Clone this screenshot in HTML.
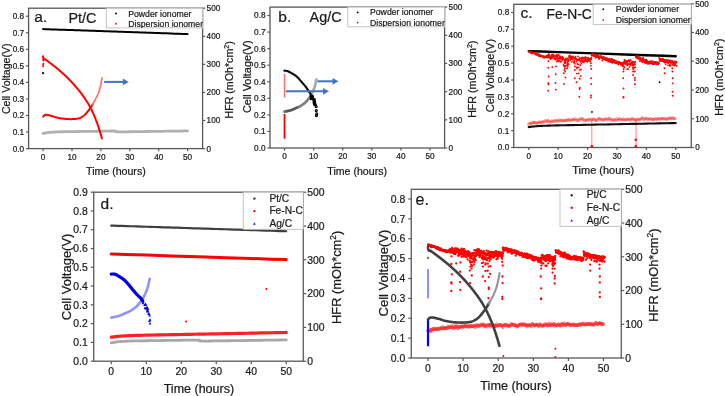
<!DOCTYPE html>
<html><head><meta charset="utf-8"><style>
html,body{margin:0;padding:0;background:#fff;}
body{width:725px;height:396px;overflow:hidden;}
svg{display:block;font-family:"Liberation Sans", sans-serif;will-change:transform;} text{stroke:#1a1a1a;stroke-width:0.22px;}
</style></head><body>
<svg width="725" height="396" viewBox="0 0 725 396">
<rect width="725" height="396" fill="#fff"/>
<rect x="28.60" y="8.20" width="174.00" height="140.40" fill="none" stroke="#585858" stroke-width="1.3"/>
<line x1="26.00" y1="148.60" x2="28.60" y2="148.60" stroke="#585858" stroke-width="1.2"/>
<text x="24.10" y="151.55" font-size="8.2" text-anchor="end" fill="#1a1a1a" >0.0</text>
<line x1="26.00" y1="132.05" x2="28.60" y2="132.05" stroke="#585858" stroke-width="1.2"/>
<text x="24.10" y="135.00" font-size="8.2" text-anchor="end" fill="#1a1a1a" >0.1</text>
<line x1="26.00" y1="115.50" x2="28.60" y2="115.50" stroke="#585858" stroke-width="1.2"/>
<text x="24.10" y="118.45" font-size="8.2" text-anchor="end" fill="#1a1a1a" >0.2</text>
<line x1="26.00" y1="98.95" x2="28.60" y2="98.95" stroke="#585858" stroke-width="1.2"/>
<text x="24.10" y="101.90" font-size="8.2" text-anchor="end" fill="#1a1a1a" >0.3</text>
<line x1="26.00" y1="82.40" x2="28.60" y2="82.40" stroke="#585858" stroke-width="1.2"/>
<text x="24.10" y="85.35" font-size="8.2" text-anchor="end" fill="#1a1a1a" >0.4</text>
<line x1="26.00" y1="65.85" x2="28.60" y2="65.85" stroke="#585858" stroke-width="1.2"/>
<text x="24.10" y="68.80" font-size="8.2" text-anchor="end" fill="#1a1a1a" >0.5</text>
<line x1="26.00" y1="49.30" x2="28.60" y2="49.30" stroke="#585858" stroke-width="1.2"/>
<text x="24.10" y="52.25" font-size="8.2" text-anchor="end" fill="#1a1a1a" >0.6</text>
<line x1="26.00" y1="32.75" x2="28.60" y2="32.75" stroke="#585858" stroke-width="1.2"/>
<text x="24.10" y="35.70" font-size="8.2" text-anchor="end" fill="#1a1a1a" >0.7</text>
<line x1="26.00" y1="16.20" x2="28.60" y2="16.20" stroke="#585858" stroke-width="1.2"/>
<text x="24.10" y="19.15" font-size="8.2" text-anchor="end" fill="#1a1a1a" >0.8</text>
<line x1="202.60" y1="148.60" x2="205.20" y2="148.60" stroke="#585858" stroke-width="1.2"/>
<text x="206.60" y="151.55" font-size="8.2" text-anchor="start" fill="#1a1a1a" >0</text>
<line x1="202.60" y1="120.52" x2="205.20" y2="120.52" stroke="#585858" stroke-width="1.2"/>
<text x="206.60" y="123.47" font-size="8.2" text-anchor="start" fill="#1a1a1a" >100</text>
<line x1="202.60" y1="92.44" x2="205.20" y2="92.44" stroke="#585858" stroke-width="1.2"/>
<text x="206.60" y="95.39" font-size="8.2" text-anchor="start" fill="#1a1a1a" >200</text>
<line x1="202.60" y1="64.36" x2="205.20" y2="64.36" stroke="#585858" stroke-width="1.2"/>
<text x="206.60" y="67.31" font-size="8.2" text-anchor="start" fill="#1a1a1a" >300</text>
<line x1="202.60" y1="36.28" x2="205.20" y2="36.28" stroke="#585858" stroke-width="1.2"/>
<text x="206.60" y="39.23" font-size="8.2" text-anchor="start" fill="#1a1a1a" >400</text>
<line x1="202.60" y1="8.20" x2="205.20" y2="8.20" stroke="#585858" stroke-width="1.2"/>
<text x="206.60" y="11.15" font-size="8.2" text-anchor="start" fill="#1a1a1a" >500</text>
<line x1="43.10" y1="148.60" x2="43.10" y2="151.20" stroke="#585858" stroke-width="1.2"/>
<text x="43.10" y="159.60" font-size="8.2" text-anchor="middle" fill="#1a1a1a" >0</text>
<line x1="72.00" y1="148.60" x2="72.00" y2="151.20" stroke="#585858" stroke-width="1.2"/>
<text x="72.00" y="159.60" font-size="8.2" text-anchor="middle" fill="#1a1a1a" >10</text>
<line x1="100.90" y1="148.60" x2="100.90" y2="151.20" stroke="#585858" stroke-width="1.2"/>
<text x="100.90" y="159.60" font-size="8.2" text-anchor="middle" fill="#1a1a1a" >20</text>
<line x1="129.80" y1="148.60" x2="129.80" y2="151.20" stroke="#585858" stroke-width="1.2"/>
<text x="129.80" y="159.60" font-size="8.2" text-anchor="middle" fill="#1a1a1a" >30</text>
<line x1="158.70" y1="148.60" x2="158.70" y2="151.20" stroke="#585858" stroke-width="1.2"/>
<text x="158.70" y="159.60" font-size="8.2" text-anchor="middle" fill="#1a1a1a" >40</text>
<line x1="187.60" y1="148.60" x2="187.60" y2="151.20" stroke="#585858" stroke-width="1.2"/>
<text x="187.60" y="159.60" font-size="8.2" text-anchor="middle" fill="#1a1a1a" >50</text>
<polyline points="43.10,133.44 43.32,133.39 43.62,133.33 43.97,133.26 44.36,133.18 44.78,133.10 45.20,133.02 45.61,132.94 45.99,132.88 46.31,132.82 46.58,132.76 46.82,132.71 47.07,132.66 47.37,132.62 47.75,132.57 48.24,132.51 48.88,132.45 49.65,132.39 50.51,132.32 51.45,132.24 52.49,132.16 53.62,132.09 54.84,132.02 56.15,131.95 57.55,131.89 58.98,131.84 60.42,131.81 61.91,131.77 63.51,131.74 65.27,131.71 67.24,131.69 69.46,131.65 72.00,131.61 75.02,131.56 78.55,131.51 82.41,131.45 86.45,131.39 90.49,131.33 94.35,131.28 97.88,131.23 100.90,131.19 103.49,131.15 105.83,131.11 107.95,131.07 109.84,131.04 111.52,131.02 112.99,131.01 114.26,131.02 115.35,131.05 116.07,131.11 116.35,131.21 116.34,131.34 116.16,131.47 115.98,131.61 115.93,131.73 116.15,131.83 116.80,131.89 117.76,131.92 118.86,131.93 120.13,131.92 121.58,131.90 123.25,131.87 125.16,131.83 127.33,131.79 129.80,131.75 132.65,131.71 135.91,131.67 139.47,131.61 143.26,131.56 147.16,131.50 151.10,131.44 154.98,131.39 158.70,131.33 162.51,131.28 166.60,131.22 170.81,131.15 174.96,131.09 178.88,131.04 182.41,130.99 185.37,130.94 187.60,130.91" fill="none" stroke="#b0b0b0" stroke-width="2.8" stroke-linejoin="round" stroke-linecap="round" opacity="1" />
<polyline points="43.10,29.11 45.33,29.19 48.29,29.29 51.82,29.41 55.74,29.54 59.89,29.69 64.10,29.83 68.19,29.97 72.00,30.10 75.61,30.23 79.22,30.35 82.84,30.47 86.45,30.60 90.06,30.72 93.68,30.85 97.29,30.97 100.90,31.09 104.51,31.22 108.12,31.34 111.74,31.47 115.35,31.59 118.96,31.72 122.58,31.84 126.19,31.96 129.80,32.09 133.41,32.21 137.03,32.34 140.64,32.46 144.25,32.58 147.86,32.71 151.47,32.83 155.09,32.96 158.70,33.08 162.51,33.21 166.60,33.35 170.81,33.50 174.96,33.64 178.88,33.77 182.41,33.90 185.37,34.00 187.60,34.07" fill="none" stroke="#000" stroke-width="2" stroke-linejoin="round" stroke-linecap="round" opacity="1" />
<polyline points="43.10,116.59 43.20,116.47 43.33,116.31 43.49,116.12 43.66,115.90 43.85,115.69 44.07,115.49 44.30,115.32 44.55,115.18 44.80,115.09 45.07,115.00 45.35,114.94 45.65,114.89 45.97,114.86 46.33,114.85 46.72,114.86 47.15,114.90 47.62,114.97 48.13,115.07 48.68,115.20 49.26,115.34 49.86,115.50 50.49,115.67 51.12,115.85 51.77,116.03 52.44,116.22 53.13,116.43 53.85,116.65 54.59,116.88 55.33,117.11 56.08,117.33 56.82,117.53 57.55,117.71 58.27,117.87 59.00,118.02 59.72,118.16 60.44,118.28 61.16,118.40 61.89,118.51 62.61,118.60 63.33,118.69 64.05,118.78 64.78,118.85 65.50,118.92 66.22,118.98 66.94,119.02 67.67,119.06 68.39,119.09 69.11,119.12 69.84,119.13 70.59,119.13 71.34,119.13 72.09,119.12 72.83,119.09 73.55,119.06 74.24,119.02 74.89,118.98 75.51,118.92 76.10,118.86 76.67,118.80 77.22,118.72 77.75,118.63 78.26,118.53 78.75,118.41 79.22,118.27 79.68,118.11 80.11,117.93 80.53,117.73 80.92,117.51 81.31,117.28 81.68,117.05 82.04,116.82 82.40,116.59 82.75,116.37 83.07,116.18 83.37,115.98 83.67,115.78 83.97,115.56 84.29,115.30 84.63,114.99 85.00,114.62 85.43,114.18 85.88,113.67 86.37,113.11 86.87,112.52 87.37,111.91 87.86,111.29 88.33,110.70 88.76,110.13 89.16,109.60 89.55,109.08 89.91,108.57 90.26,108.06 90.61,107.55 90.95,107.02 91.30,106.48 91.65,105.92 92.02,105.33 92.38,104.71 92.75,104.08" fill="none" stroke="#ff0000" stroke-width="2" stroke-linejoin="round" stroke-linecap="round" opacity="1" />
<polyline points="92.38,104.71 92.75,104.08 93.12,103.44 93.48,102.80 93.84,102.15 94.19,101.50 94.54,100.86 94.89,100.23 95.23,99.58 95.58,98.93 95.91,98.28 96.24,97.64 96.56,97.01 96.86,96.40 97.14,95.81 97.40,95.26 97.64,94.74 97.86,94.25 98.06,93.77 98.26,93.28 98.46,92.77 98.67,92.21 98.88,91.60 99.10,90.93 99.32,90.22 99.54,89.49 99.76,88.72 99.98,87.93 100.20,87.11 100.41,86.27 100.61,85.42 100.82,84.49 101.03,83.45 101.24,82.35 101.44,81.24 101.63,80.19 101.80,79.23 101.95,78.43 102.06,77.84" fill="none" stroke="#ff6a6a" stroke-width="1.6" stroke-linejoin="round" stroke-linecap="round" opacity="1" />
<polyline points="43.10,56.25 43.11,56.35 43.12,56.48 43.12,56.64 43.14,56.81 43.15,57.00 43.17,57.19 43.20,57.38 43.24,57.57 43.29,57.78 43.35,58.01 43.41,58.25 43.48,58.49 43.55,58.72 43.64,58.93 43.73,59.11 43.82,59.23 43.93,59.29 44.05,59.31 44.17,59.28 44.30,59.23 44.44,59.18 44.57,59.13 44.71,59.10 44.83,59.12 44.96,59.16 45.08,59.23 45.20,59.32 45.32,59.41 45.44,59.51 45.56,59.62 45.68,59.72 45.80,59.81 45.92,59.90 46.04,59.98 46.16,60.07 46.29,60.16 46.41,60.25 46.53,60.33 46.65,60.42 46.77,60.51 46.89,60.60 47.01,60.68 47.13,60.77 47.25,60.86 47.37,60.95 47.49,61.04 47.62,61.12 47.74,61.21 47.86,61.30 47.98,61.39 48.10,61.48 48.22,61.57 48.34,61.66 48.46,61.74 48.58,61.83 48.70,61.92 48.82,62.01 48.95,62.10 49.07,62.19 49.19,62.28 49.31,62.37 49.43,62.46 49.55,62.55 49.67,62.64 49.79,62.73 49.91,62.82 50.03,62.91 50.15,63.00 50.28,63.09 50.40,63.18 50.52,63.27 50.64,63.36 50.76,63.45 50.88,63.55 51.00,63.64 51.12,63.73 51.24,63.82 51.36,63.91 51.48,64.00 51.61,64.10 51.73,64.19 51.85,64.28 51.97,64.37 52.09,64.46 52.21,64.56 52.33,64.65 52.45,64.74 52.57,64.84 52.69,64.93 52.82,65.02 52.94,65.12 53.06,65.21 53.18,65.30 53.30,65.40 53.42,65.49 53.54,65.59 53.66,65.68 53.78,65.77 53.90,65.87 54.02,65.96 54.15,66.06 54.27,66.15 54.39,66.25 54.51,66.35 54.63,66.44 54.75,66.54 54.87,66.63 54.99,66.73 55.11,66.82 55.23,66.92 55.35,67.02 55.48,67.11 55.60,67.21 55.72,67.31 55.84,67.41 55.96,67.50 56.08,67.60 56.20,67.70 56.32,67.80 56.44,67.89 56.56,67.99 56.68,68.09 56.81,68.19 56.93,68.29 57.05,68.39 57.17,68.49 57.29,68.59 57.41,68.69 57.53,68.79 57.65,68.89 57.77,68.99 57.89,69.09 58.02,69.19 58.14,69.29 58.26,69.39 58.38,69.49 58.50,69.59 58.62,69.69 58.74,69.80 58.86,69.90 58.98,70.00 59.10,70.10 59.22,70.20 59.35,70.31 59.47,70.41 59.59,70.51 59.71,70.62 59.83,70.72 59.95,70.82 60.07,70.93 60.19,71.03 60.31,71.14 60.43,71.24 60.55,71.35 60.68,71.45 60.80,71.56 60.92,71.66 61.04,71.77 61.16,71.87 61.28,71.98 61.40,72.09 61.52,72.19 61.64,72.30 61.76,72.41 61.88,72.51 62.01,72.62 62.13,72.73 62.25,72.84 62.37,72.95 62.49,73.05 62.61,73.16 62.73,73.27 62.85,73.38 62.97,73.49 63.09,73.60 63.21,73.71 63.34,73.82 63.46,73.93 63.58,74.04 63.70,74.15 63.82,74.26 63.94,74.37 64.06,74.49 64.18,74.60 64.30,74.71 64.42,74.82 64.55,74.94 64.67,75.05 64.79,75.16 64.91,75.27 65.03,75.39 65.15,75.50 65.27,75.62 65.39,75.73 65.51,75.85 65.63,75.96 65.75,76.08 65.88,76.19 66.00,76.31 66.12,76.42 66.24,76.54 66.36,76.66 66.48,76.77 66.60,76.89 66.72,77.01 66.84,77.13 66.96,77.24 67.08,77.36 67.21,77.48 67.33,77.60 67.45,77.72 67.57,77.84 67.69,77.96 67.81,78.08 67.93,78.20 68.05,78.32 68.17,78.44 68.29,78.56 68.41,78.68 68.54,78.80 68.66,78.92 68.78,79.05 68.90,79.17 69.02,79.29 69.14,79.42 69.26,79.54 69.38,79.66 69.50,79.79 69.62,79.91 69.74,80.04 69.87,80.16 69.99,80.29 70.11,80.41 70.23,80.54 70.35,80.66 70.47,80.79 70.59,80.92 70.71,81.04 70.83,81.17 70.95,81.30 71.08,81.43 71.20,81.56 71.32,81.68 71.44,81.81 71.56,81.94 71.68,82.07 71.80,82.20 71.92,82.33 72.04,82.46 72.16,82.59 72.28,82.73 72.41,82.86 72.53,82.99 72.65,83.12 72.77,83.25 72.89,83.39 73.01,83.52 73.13,83.65 73.25,83.79 73.37,83.92 73.49,84.06 73.61,84.19 73.74,84.33 73.86,84.46 73.98,84.60 74.10,84.74 74.22,84.87 74.34,85.01 74.46,85.15 74.58,85.28 74.70,85.42 74.82,85.56 74.94,85.70 75.07,85.84 75.19,85.98 75.31,86.12 75.43,86.26 75.55,86.40 75.67,86.54 75.79,86.68 75.91,86.82 76.03,86.96 76.15,87.11 76.27,87.25 76.40,87.39 76.52,87.54 76.64,87.68 76.76,87.82 76.88,87.97 77.00,88.11 77.12,88.26 77.24,88.41 77.36,88.55 77.48,88.70 77.61,88.84 77.73,88.99 77.85,89.14 77.97,89.29 78.09,89.44 78.21,89.58 78.33,89.73 78.45,89.88 78.57,90.03 78.69,90.18 78.81,90.33 78.94,90.48 79.06,90.64 79.18,90.79 79.30,90.94 79.42,91.09 79.54,91.25 79.66,91.40 79.78,91.55 79.90,91.71 80.02,91.86 80.14,92.02 80.27,92.17 80.39,92.33 80.51,92.49 80.63,92.64 80.75,92.80 80.87,92.96 80.99,93.11 81.11,93.27 81.23,93.43 81.35,93.59 81.47,93.75 81.60,93.91 81.72,94.07 81.84,94.23 81.96,94.39 82.08,94.55 82.20,94.72 82.32,94.88 82.44,95.04 82.56,95.21 82.68,95.37 82.81,95.53 82.93,95.70 83.05,95.86 83.17,96.03 83.29,96.20 83.41,96.37 83.53,96.53 83.65,96.70 83.77,96.87 83.89,97.04 84.01,97.21 84.14,97.38 84.26,97.56 84.38,97.73 84.50,97.90 84.62,98.08 84.74,98.25 84.86,98.43 84.98,98.60 85.10,98.78 85.22,98.96 85.34,99.14 85.47,99.32 85.59,99.50 85.71,99.68 85.83,99.86 85.95,100.05 86.07,100.23 86.19,100.42 86.31,100.61 86.43,100.79 86.55,100.98 86.67,101.17 86.80,101.36 86.92,101.55 87.04,101.75 87.16,101.94 87.28,102.13 87.40,102.33 87.52,102.53 87.64,102.73 87.76,102.93 87.88,103.13 88.00,103.33 88.13,103.53 88.25,103.73 88.37,103.94 88.49,104.15 88.61,104.35 88.73,104.56 88.85,104.77 88.97,104.99 89.09,105.20 89.21,105.41 89.34,105.63 89.46,105.85 89.58,106.07 89.70,106.29 89.82,106.51 89.94,106.73 90.06,106.95 90.18,107.18 90.30,107.41 90.42,107.64 90.54,107.87 90.67,108.10 90.79,108.33 90.91,108.57 91.03,108.80 91.15,109.04 91.27,109.28 91.39,109.52 91.51,109.76 91.63,110.01 91.75,110.25 91.87,110.50 92.00,110.75 92.12,111.00 92.24,111.26 92.36,111.51 92.48,111.77 92.60,112.03 92.72,112.29 92.84,112.55 92.96,112.81 93.08,113.08 93.20,113.34 93.33,113.61 93.45,113.88 93.57,114.16 93.69,114.43 93.81,114.71 93.93,114.99 94.05,115.27 94.17,115.55 94.29,115.83 94.41,116.12 94.53,116.41 94.66,116.70 94.78,116.99 94.90,117.29 95.02,117.58 95.14,117.88 95.26,118.18 95.38,118.49 95.50,118.79 95.62,119.10 95.74,119.41 95.87,119.72 95.99,120.03 96.11,120.35 96.23,120.67 96.35,120.99 96.47,121.31 96.59,121.64 96.71,121.96 96.83,122.29 96.95,122.63 97.07,122.96 97.20,123.30 97.32,123.64 97.44,123.98 97.56,124.32 97.68,124.67 97.80,125.02 97.92,125.37 98.04,125.72 98.16,126.08 98.28,126.44 98.40,126.80 98.53,127.16 98.65,127.53 98.77,127.90 98.89,128.27 99.01,128.64 99.13,129.02 99.25,129.40 99.37,129.78 99.49,130.16 99.61,130.55 99.73,130.94 99.86,131.33 99.98,131.73 100.10,132.12 100.22,132.52 100.34,132.93 100.46,133.33 100.58,133.74 100.70,134.15 100.82,134.57 100.94,134.99 101.07,135.43 101.21,135.91 101.35,136.41 101.49,136.91 101.62,137.38 101.74,137.80 101.84,138.16 101.91,138.43" fill="none" stroke="#ff0000" stroke-width="2" stroke-linejoin="round" stroke-linecap="round" opacity="1" />
<circle cx="43.16" cy="66.18" r="0.95" fill="#ff0000"/>
<circle cx="43.24" cy="64.86" r="0.95" fill="#ff0000"/>
<circle cx="43.39" cy="63.70" r="0.95" fill="#ff0000"/>
<circle cx="43.39" cy="57.74" r="1.0" fill="#ff0000"/>
<circle cx="43.45" cy="59.56" r="1.0" fill="#ff0000"/>
<circle cx="43.53" cy="60.55" r="1.0" fill="#ff0000"/>
<rect x="42.10" y="72.13" width="2" height="2" fill="#111"/>
<line x1="104.10" y1="81.90" x2="123.80" y2="81.90" stroke="#4472c4" stroke-width="2"/>
<polygon points="128.80,81.90 122.80,78.50 122.80,85.30" fill="#4472c4"/>
<rect x="106.30" y="8.20" width="96.30" height="19.70" fill="#fff" stroke="#bdbdbd" stroke-width="0.9"/>
<svg x="106.30" y="8.20" width="96.30" height="19.70" overflow="hidden">
<text x="21.90" y="8.50" font-size="8.7" text-anchor="start" fill="#1a1a1a" >Powder ionomer</text>
<circle cx="9.70" cy="5.30" r="0.95" fill="#000"/>
<text x="21.90" y="18.70" font-size="8.7" text-anchor="start" fill="#1a1a1a" >Dispersion ionomer</text>
<circle cx="9.70" cy="15.50" r="0.95" fill="#ff0000"/>
</svg>
<text x="34.30" y="21.50" font-size="15.5" text-anchor="start" fill="#1a1a1a" >a.</text>
<text x="68.40" y="23.30" font-size="14.4" text-anchor="start" fill="#1a1a1a" >Pt/C</text>
<text x="115.90" y="174.60" font-size="10.6" text-anchor="middle" fill="#1a1a1a" >Time (hours)</text>
<text transform="translate(9.66,78.70) rotate(-90)" x="0" y="0" font-size="10.6" text-anchor="middle" fill="#1a1a1a">Cell Voltage(V)</text>
<text transform="translate(233.37,79.90) rotate(-90)" x="0" y="0" font-size="10.65" text-anchor="middle" fill="#1a1a1a">HFR (mOh*cm<tspan dy="-4" font-size="7">2</tspan><tspan dy="4">)</tspan></text>
<rect x="270.00" y="7.10" width="174.60" height="140.90" fill="none" stroke="#585858" stroke-width="1.3"/>
<line x1="267.40" y1="148.00" x2="270.00" y2="148.00" stroke="#585858" stroke-width="1.2"/>
<text x="265.50" y="150.95" font-size="8.2" text-anchor="end" fill="#1a1a1a" >0.0</text>
<line x1="267.40" y1="131.44" x2="270.00" y2="131.44" stroke="#585858" stroke-width="1.2"/>
<text x="265.50" y="134.39" font-size="8.2" text-anchor="end" fill="#1a1a1a" >0.1</text>
<line x1="267.40" y1="114.88" x2="270.00" y2="114.88" stroke="#585858" stroke-width="1.2"/>
<text x="265.50" y="117.83" font-size="8.2" text-anchor="end" fill="#1a1a1a" >0.2</text>
<line x1="267.40" y1="98.32" x2="270.00" y2="98.32" stroke="#585858" stroke-width="1.2"/>
<text x="265.50" y="101.27" font-size="8.2" text-anchor="end" fill="#1a1a1a" >0.3</text>
<line x1="267.40" y1="81.76" x2="270.00" y2="81.76" stroke="#585858" stroke-width="1.2"/>
<text x="265.50" y="84.71" font-size="8.2" text-anchor="end" fill="#1a1a1a" >0.4</text>
<line x1="267.40" y1="65.20" x2="270.00" y2="65.20" stroke="#585858" stroke-width="1.2"/>
<text x="265.50" y="68.15" font-size="8.2" text-anchor="end" fill="#1a1a1a" >0.5</text>
<line x1="267.40" y1="48.64" x2="270.00" y2="48.64" stroke="#585858" stroke-width="1.2"/>
<text x="265.50" y="51.59" font-size="8.2" text-anchor="end" fill="#1a1a1a" >0.6</text>
<line x1="267.40" y1="32.08" x2="270.00" y2="32.08" stroke="#585858" stroke-width="1.2"/>
<text x="265.50" y="35.03" font-size="8.2" text-anchor="end" fill="#1a1a1a" >0.7</text>
<line x1="267.40" y1="15.52" x2="270.00" y2="15.52" stroke="#585858" stroke-width="1.2"/>
<text x="265.50" y="18.47" font-size="8.2" text-anchor="end" fill="#1a1a1a" >0.8</text>
<line x1="444.60" y1="148.00" x2="447.20" y2="148.00" stroke="#585858" stroke-width="1.2"/>
<text x="448.60" y="150.95" font-size="8.2" text-anchor="start" fill="#1a1a1a" >0</text>
<line x1="444.60" y1="119.82" x2="447.20" y2="119.82" stroke="#585858" stroke-width="1.2"/>
<text x="448.60" y="122.77" font-size="8.2" text-anchor="start" fill="#1a1a1a" >100</text>
<line x1="444.60" y1="91.64" x2="447.20" y2="91.64" stroke="#585858" stroke-width="1.2"/>
<text x="448.60" y="94.59" font-size="8.2" text-anchor="start" fill="#1a1a1a" >200</text>
<line x1="444.60" y1="63.46" x2="447.20" y2="63.46" stroke="#585858" stroke-width="1.2"/>
<text x="448.60" y="66.41" font-size="8.2" text-anchor="start" fill="#1a1a1a" >300</text>
<line x1="444.60" y1="35.28" x2="447.20" y2="35.28" stroke="#585858" stroke-width="1.2"/>
<text x="448.60" y="38.23" font-size="8.2" text-anchor="start" fill="#1a1a1a" >400</text>
<line x1="444.60" y1="7.10" x2="447.20" y2="7.10" stroke="#585858" stroke-width="1.2"/>
<text x="448.60" y="10.05" font-size="8.2" text-anchor="start" fill="#1a1a1a" >500</text>
<line x1="284.50" y1="148.00" x2="284.50" y2="150.60" stroke="#585858" stroke-width="1.2"/>
<text x="284.50" y="159.20" font-size="8.2" text-anchor="middle" fill="#1a1a1a" >0</text>
<line x1="313.60" y1="148.00" x2="313.60" y2="150.60" stroke="#585858" stroke-width="1.2"/>
<text x="313.60" y="159.20" font-size="8.2" text-anchor="middle" fill="#1a1a1a" >10</text>
<line x1="342.70" y1="148.00" x2="342.70" y2="150.60" stroke="#585858" stroke-width="1.2"/>
<text x="342.70" y="159.20" font-size="8.2" text-anchor="middle" fill="#1a1a1a" >20</text>
<line x1="371.80" y1="148.00" x2="371.80" y2="150.60" stroke="#585858" stroke-width="1.2"/>
<text x="371.80" y="159.20" font-size="8.2" text-anchor="middle" fill="#1a1a1a" >30</text>
<line x1="400.90" y1="148.00" x2="400.90" y2="150.60" stroke="#585858" stroke-width="1.2"/>
<text x="400.90" y="159.20" font-size="8.2" text-anchor="middle" fill="#1a1a1a" >40</text>
<line x1="430.00" y1="148.00" x2="430.00" y2="150.60" stroke="#585858" stroke-width="1.2"/>
<text x="430.00" y="159.20" font-size="8.2" text-anchor="middle" fill="#1a1a1a" >50</text>
<line x1="284.50" y1="73.89" x2="284.50" y2="97.56" stroke="#ff7070" stroke-width="1.5"/>
<line x1="284.50" y1="113.89" x2="284.50" y2="138.73" stroke="#ff0000" stroke-width="1.8"/>
<circle cx="284.50" cy="111.65" r="1.0" fill="none" stroke="#444" stroke-width="0.8"/>
<circle cx="285.58" cy="111.45" r="1.0" fill="none" stroke="#444" stroke-width="0.8"/>
<circle cx="286.66" cy="111.25" r="1.0" fill="none" stroke="#444" stroke-width="0.8"/>
<circle cx="287.74" cy="111.01" r="1.0" fill="none" stroke="#444" stroke-width="0.8"/>
<circle cx="288.81" cy="110.77" r="1.0" fill="none" stroke="#444" stroke-width="0.8"/>
<circle cx="289.88" cy="110.51" r="1.0" fill="none" stroke="#444" stroke-width="0.8"/>
<circle cx="290.94" cy="110.22" r="1.0" fill="none" stroke="#444" stroke-width="0.8"/>
<circle cx="291.99" cy="109.88" r="1.0" fill="none" stroke="#444" stroke-width="0.8"/>
<circle cx="293.00" cy="109.46" r="1.0" fill="none" stroke="#444" stroke-width="0.8"/>
<circle cx="294.00" cy="109.00" r="1.0" fill="none" stroke="#444" stroke-width="0.8"/>
<circle cx="294.99" cy="108.52" r="1.0" fill="none" stroke="#444" stroke-width="0.8"/>
<circle cx="295.99" cy="108.05" r="1.0" fill="none" stroke="#444" stroke-width="0.8"/>
<circle cx="297.00" cy="107.62" r="1.0" fill="none" stroke="#444" stroke-width="0.8"/>
<circle cx="298.01" cy="107.20" r="1.0" fill="none" stroke="#444" stroke-width="0.8"/>
<circle cx="299.41" cy="106.58" r="1.0" fill="none" stroke="#707070" stroke-width="0.8"/>
<circle cx="300.39" cy="106.08" r="1.0" fill="none" stroke="#707070" stroke-width="0.8"/>
<circle cx="301.33" cy="105.51" r="1.0" fill="none" stroke="#707070" stroke-width="0.8"/>
<circle cx="302.25" cy="104.90" r="1.0" fill="none" stroke="#707070" stroke-width="0.8"/>
<circle cx="303.15" cy="104.27" r="1.0" fill="none" stroke="#707070" stroke-width="0.8"/>
<circle cx="304.02" cy="103.60" r="1.0" fill="none" stroke="#707070" stroke-width="0.8"/>
<circle cx="304.88" cy="102.91" r="1.0" fill="none" stroke="#707070" stroke-width="0.8"/>
<circle cx="305.69" cy="102.17" r="1.0" fill="none" stroke="#707070" stroke-width="0.8"/>
<circle cx="306.45" cy="101.37" r="1.0" fill="none" stroke="#707070" stroke-width="0.8"/>
<circle cx="307.17" cy="100.54" r="1.0" fill="none" stroke="#707070" stroke-width="0.8"/>
<circle cx="307.87" cy="99.70" r="1.0" fill="none" stroke="#707070" stroke-width="0.8"/>
<circle cx="308.56" cy="98.84" r="1.0" fill="none" stroke="#707070" stroke-width="0.8"/>
<circle cx="309.23" cy="97.96" r="1.0" fill="none" stroke="#707070" stroke-width="0.8"/>
<circle cx="309.87" cy="97.07" r="1.0" fill="none" stroke="#707070" stroke-width="0.8"/>
<circle cx="310.50" cy="96.16" r="1.0" fill="none" stroke="#707070" stroke-width="0.8"/>
<circle cx="310.69" cy="95.87" r="1.0" fill="none" stroke="#a0a0a0" stroke-width="0.8"/>
<circle cx="311.25" cy="94.92" r="1.0" fill="none" stroke="#a0a0a0" stroke-width="0.8"/>
<circle cx="311.76" cy="93.94" r="1.0" fill="none" stroke="#a0a0a0" stroke-width="0.8"/>
<circle cx="312.22" cy="92.95" r="1.0" fill="none" stroke="#a0a0a0" stroke-width="0.8"/>
<circle cx="312.68" cy="91.95" r="1.0" fill="none" stroke="#a0a0a0" stroke-width="0.8"/>
<circle cx="313.12" cy="90.94" r="1.0" fill="none" stroke="#a0a0a0" stroke-width="0.8"/>
<circle cx="313.54" cy="89.92" r="1.0" fill="none" stroke="#a0a0a0" stroke-width="0.8"/>
<circle cx="313.95" cy="88.90" r="1.0" fill="none" stroke="#a0a0a0" stroke-width="0.8"/>
<circle cx="314.32" cy="87.87" r="1.0" fill="none" stroke="#a0a0a0" stroke-width="0.8"/>
<circle cx="314.66" cy="86.82" r="1.0" fill="none" stroke="#a0a0a0" stroke-width="0.8"/>
<circle cx="314.96" cy="85.76" r="1.0" fill="none" stroke="#a0a0a0" stroke-width="0.8"/>
<circle cx="315.25" cy="84.70" r="1.0" fill="none" stroke="#a0a0a0" stroke-width="0.8"/>
<circle cx="315.52" cy="83.63" r="1.0" fill="none" stroke="#a0a0a0" stroke-width="0.8"/>
<circle cx="315.77" cy="82.56" r="1.0" fill="none" stroke="#a0a0a0" stroke-width="0.8"/>
<circle cx="316.01" cy="81.49" r="1.0" fill="none" stroke="#a0a0a0" stroke-width="0.8"/>
<circle cx="316.25" cy="80.42" r="1.0" fill="none" stroke="#a0a0a0" stroke-width="0.8"/>
<circle cx="316.49" cy="79.34" r="1.0" fill="none" stroke="#a0a0a0" stroke-width="0.8"/>
<circle cx="284.50" cy="70.66" r="1.15" fill="#000"/>
<circle cx="285.99" cy="70.86" r="1.15" fill="#000"/>
<circle cx="287.45" cy="71.18" r="1.15" fill="#000"/>
<circle cx="288.84" cy="71.74" r="1.15" fill="#000"/>
<circle cx="290.18" cy="72.41" r="1.15" fill="#000"/>
<circle cx="291.50" cy="73.12" r="1.15" fill="#000"/>
<circle cx="292.80" cy="73.88" r="1.15" fill="#000"/>
<circle cx="294.07" cy="74.67" r="1.15" fill="#000"/>
<circle cx="295.32" cy="75.50" r="1.15" fill="#000"/>
<circle cx="296.50" cy="76.43" r="1.15" fill="#000"/>
<circle cx="297.60" cy="77.45" r="1.15" fill="#000"/>
<circle cx="298.65" cy="78.52" r="1.15" fill="#000"/>
<circle cx="299.66" cy="79.63" r="1.15" fill="#000"/>
<circle cx="300.61" cy="80.79" r="1.15" fill="#000"/>
<circle cx="301.56" cy="81.95" r="1.15" fill="#000"/>
<circle cx="302.54" cy="83.08" r="1.15" fill="#000"/>
<circle cx="303.55" cy="84.20" r="1.15" fill="#000"/>
<circle cx="304.53" cy="85.32" r="1.15" fill="#000"/>
<circle cx="305.47" cy="86.50" r="1.15" fill="#000"/>
<circle cx="306.37" cy="87.70" r="1.15" fill="#000"/>
<circle cx="307.24" cy="88.92" r="1.15" fill="#000"/>
<circle cx="308.08" cy="90.16" r="1.15" fill="#000"/>
<circle cx="308.90" cy="91.42" r="1.15" fill="#000"/>
<circle cx="309.70" cy="92.68" r="1.15" fill="#000"/>
<circle cx="310.47" cy="93.97" r="1.15" fill="#000"/>
<circle cx="311.20" cy="95.29" r="1.15" fill="#000"/>
<circle cx="310.99" cy="96.26" r="1.0" fill="none" stroke="#000" stroke-width="1.2"/>
<circle cx="311.57" cy="97.00" r="1.0" fill="none" stroke="#000" stroke-width="1.2"/>
<circle cx="312.42" cy="96.43" r="1.0" fill="none" stroke="#000" stroke-width="1.2"/>
<circle cx="311.36" cy="98.73" r="1.0" fill="none" stroke="#000" stroke-width="1.2"/>
<circle cx="312.20" cy="98.12" r="1.0" fill="none" stroke="#000" stroke-width="1.2"/>
<circle cx="314.11" cy="99.36" r="1.0" fill="none" stroke="#000" stroke-width="1.2"/>
<circle cx="314.05" cy="100.09" r="1.0" fill="none" stroke="#000" stroke-width="1.2"/>
<circle cx="313.91" cy="100.09" r="1.0" fill="none" stroke="#000" stroke-width="1.2"/>
<circle cx="314.19" cy="102.39" r="1.0" fill="none" stroke="#000" stroke-width="1.2"/>
<circle cx="314.23" cy="102.83" r="1.0" fill="none" stroke="#000" stroke-width="1.2"/>
<circle cx="314.70" cy="101.87" r="1.0" fill="none" stroke="#000" stroke-width="1.2"/>
<circle cx="315.33" cy="104.65" r="1.0" fill="none" stroke="#000" stroke-width="1.2"/>
<circle cx="314.62" cy="104.49" r="1.0" fill="none" stroke="#000" stroke-width="1.2"/>
<circle cx="316.15" cy="106.54" r="1.0" fill="none" stroke="#000" stroke-width="1.2"/>
<circle cx="316.26" cy="110.54" r="1.0" fill="none" stroke="#000" stroke-width="1.2"/>
<circle cx="316.69" cy="113.74" r="1.0" fill="none" stroke="#000" stroke-width="1.2"/>
<circle cx="316.42" cy="115.54" r="1.0" fill="none" stroke="#000" stroke-width="1.2"/>
<line x1="317.50" y1="81.30" x2="333.50" y2="81.30" stroke="#4472c4" stroke-width="2"/>
<polygon points="338.50,81.30 332.50,77.90 332.50,84.70" fill="#4472c4"/>
<line x1="285.80" y1="91.30" x2="324.00" y2="91.30" stroke="#4472c4" stroke-width="2"/>
<polygon points="329.00,91.30 323.00,87.90 323.00,94.70" fill="#4472c4"/>
<rect x="347.80" y="7.10" width="96.80" height="19.70" fill="#fff" stroke="#bdbdbd" stroke-width="0.9"/>
<svg x="347.80" y="7.10" width="96.80" height="19.70" overflow="hidden">
<text x="22.20" y="7.90" font-size="8.7" text-anchor="start" fill="#1a1a1a" >Powder ionomer</text>
<circle cx="9.90" cy="5.30" r="0.95" fill="#000"/>
<text x="22.20" y="18.70" font-size="8.7" text-anchor="start" fill="#1a1a1a" >Dispersion ionomer</text>
<circle cx="9.90" cy="15.50" r="0.95" fill="#ff0000"/>
</svg>
<text x="278.30" y="22.00" font-size="15.5" text-anchor="start" fill="#1a1a1a" >b.</text>
<text x="309.60" y="22.30" font-size="14.4" text-anchor="start" fill="#1a1a1a" >Ag/C</text>
<text x="357.20" y="174.60" font-size="10.6" text-anchor="middle" fill="#1a1a1a" >Time (hours)</text>
<text transform="translate(251.03,76.80) rotate(-90)" x="0" y="0" font-size="10.9" text-anchor="middle" fill="#1a1a1a">Cell Voltage(V)</text>
<text transform="translate(476.27,79.20) rotate(-90)" x="0" y="0" font-size="10.65" text-anchor="middle" fill="#1a1a1a">HFR (mOh*cm<tspan dy="-4" font-size="7">2</tspan><tspan dy="4">)</tspan></text>
<rect x="513.75" y="4.30" width="177.50" height="143.20" fill="none" stroke="#585858" stroke-width="1.3"/>
<line x1="511.15" y1="147.50" x2="513.75" y2="147.50" stroke="#585858" stroke-width="1.2"/>
<text x="509.25" y="150.45" font-size="8.2" text-anchor="end" fill="#1a1a1a" >0.0</text>
<line x1="511.15" y1="130.62" x2="513.75" y2="130.62" stroke="#585858" stroke-width="1.2"/>
<text x="509.25" y="133.58" font-size="8.2" text-anchor="end" fill="#1a1a1a" >0.1</text>
<line x1="511.15" y1="113.75" x2="513.75" y2="113.75" stroke="#585858" stroke-width="1.2"/>
<text x="509.25" y="116.70" font-size="8.2" text-anchor="end" fill="#1a1a1a" >0.2</text>
<line x1="511.15" y1="96.88" x2="513.75" y2="96.88" stroke="#585858" stroke-width="1.2"/>
<text x="509.25" y="99.83" font-size="8.2" text-anchor="end" fill="#1a1a1a" >0.3</text>
<line x1="511.15" y1="80.00" x2="513.75" y2="80.00" stroke="#585858" stroke-width="1.2"/>
<text x="509.25" y="82.95" font-size="8.2" text-anchor="end" fill="#1a1a1a" >0.4</text>
<line x1="511.15" y1="63.12" x2="513.75" y2="63.12" stroke="#585858" stroke-width="1.2"/>
<text x="509.25" y="66.08" font-size="8.2" text-anchor="end" fill="#1a1a1a" >0.5</text>
<line x1="511.15" y1="46.25" x2="513.75" y2="46.25" stroke="#585858" stroke-width="1.2"/>
<text x="509.25" y="49.20" font-size="8.2" text-anchor="end" fill="#1a1a1a" >0.6</text>
<line x1="511.15" y1="29.38" x2="513.75" y2="29.38" stroke="#585858" stroke-width="1.2"/>
<text x="509.25" y="32.33" font-size="8.2" text-anchor="end" fill="#1a1a1a" >0.7</text>
<line x1="511.15" y1="12.50" x2="513.75" y2="12.50" stroke="#585858" stroke-width="1.2"/>
<text x="509.25" y="15.45" font-size="8.2" text-anchor="end" fill="#1a1a1a" >0.8</text>
<line x1="691.25" y1="147.50" x2="693.85" y2="147.50" stroke="#585858" stroke-width="1.2"/>
<text x="695.25" y="150.45" font-size="8.2" text-anchor="start" fill="#1a1a1a" >0</text>
<line x1="691.25" y1="118.75" x2="693.85" y2="118.75" stroke="#585858" stroke-width="1.2"/>
<text x="695.25" y="121.70" font-size="8.2" text-anchor="start" fill="#1a1a1a" >100</text>
<line x1="691.25" y1="90.00" x2="693.85" y2="90.00" stroke="#585858" stroke-width="1.2"/>
<text x="695.25" y="92.95" font-size="8.2" text-anchor="start" fill="#1a1a1a" >200</text>
<line x1="691.25" y1="61.25" x2="693.85" y2="61.25" stroke="#585858" stroke-width="1.2"/>
<text x="695.25" y="64.20" font-size="8.2" text-anchor="start" fill="#1a1a1a" >300</text>
<line x1="691.25" y1="32.50" x2="693.85" y2="32.50" stroke="#585858" stroke-width="1.2"/>
<text x="695.25" y="35.45" font-size="8.2" text-anchor="start" fill="#1a1a1a" >400</text>
<line x1="691.25" y1="3.75" x2="693.85" y2="3.75" stroke="#585858" stroke-width="1.2"/>
<text x="695.25" y="6.70" font-size="8.2" text-anchor="start" fill="#1a1a1a" >500</text>
<line x1="528.75" y1="147.50" x2="528.75" y2="150.10" stroke="#585858" stroke-width="1.2"/>
<text x="528.75" y="158.60" font-size="8.2" text-anchor="middle" fill="#1a1a1a" >0</text>
<line x1="558.15" y1="147.50" x2="558.15" y2="150.10" stroke="#585858" stroke-width="1.2"/>
<text x="558.15" y="158.60" font-size="8.2" text-anchor="middle" fill="#1a1a1a" >10</text>
<line x1="587.55" y1="147.50" x2="587.55" y2="150.10" stroke="#585858" stroke-width="1.2"/>
<text x="587.55" y="158.60" font-size="8.2" text-anchor="middle" fill="#1a1a1a" >20</text>
<line x1="616.95" y1="147.50" x2="616.95" y2="150.10" stroke="#585858" stroke-width="1.2"/>
<text x="616.95" y="158.60" font-size="8.2" text-anchor="middle" fill="#1a1a1a" >30</text>
<line x1="646.35" y1="147.50" x2="646.35" y2="150.10" stroke="#585858" stroke-width="1.2"/>
<text x="646.35" y="158.60" font-size="8.2" text-anchor="middle" fill="#1a1a1a" >40</text>
<line x1="675.75" y1="147.50" x2="675.75" y2="150.10" stroke="#585858" stroke-width="1.2"/>
<text x="675.75" y="158.60" font-size="8.2" text-anchor="middle" fill="#1a1a1a" >50</text>
<line x1="591.81" y1="119.59" x2="591.81" y2="147.50" stroke="#ff5050" stroke-width="0.7"/>
<line x1="636.06" y1="119.19" x2="636.06" y2="147.50" stroke="#ff5050" stroke-width="0.7"/>
<polyline points="528.75,124.39 530.04,123.25 531.34,123.48 532.63,122.64 533.92,122.32 535.22,122.63 536.51,123.02 537.81,123.12 539.10,121.98 540.39,122.42 541.69,122.05 542.98,121.88 544.27,122.03 545.57,120.66 546.86,121.50 548.15,120.45 549.45,121.72 550.74,122.06 552.03,120.87 553.33,121.61 554.62,120.68 555.92,121.13 557.21,120.72 558.50,120.97 559.80,119.90 561.09,120.85 562.38,120.31 563.68,120.73 564.97,120.48 566.26,120.26 567.56,120.30 568.85,119.33 570.15,120.63 571.44,119.95 572.73,119.51 574.03,119.72 575.32,118.85 576.61,120.20 577.91,120.78 579.20,119.19 580.49,119.52 581.79,118.56 583.08,119.35 584.37,120.59 585.67,120.30 586.96,120.06 588.26,119.74 589.55,119.34 590.84,120.25 592.14,119.50 593.43,118.95 594.72,119.89 596.02,120.38 597.31,120.09 598.60,118.48 599.90,118.96 601.19,119.40 602.49,119.68 603.78,120.16 605.07,119.09 606.37,118.93 607.66,119.67 608.95,118.50 610.25,118.94 611.54,120.33 612.83,119.91 614.13,119.72 615.42,120.58 616.71,118.77 618.01,119.92 619.30,119.08 620.60,119.21 621.89,119.98 623.18,119.25 624.48,119.81 625.77,119.87 627.06,119.44 628.36,119.20 629.65,119.62 630.94,119.67 632.24,118.59 633.53,119.23 634.83,120.13 636.12,119.74 637.41,119.60 638.71,119.22 640.00,119.72 641.29,118.57 642.59,117.81 643.88,119.70 645.17,118.56 646.47,118.49 647.76,119.31 649.05,119.02 650.35,118.83 651.64,119.21 652.94,119.55 654.23,119.42 655.52,118.56 656.82,119.53 658.11,118.66 659.40,118.89 660.70,119.12 661.99,118.47 663.28,118.84 664.58,118.63 665.87,119.15 667.17,119.16 668.46,118.52 669.75,118.05 671.05,118.65 672.34,117.80 673.63,118.60 674.93,118.65" fill="none" stroke="#ff4040" stroke-width="0.6" stroke-linejoin="round" stroke-linecap="round" opacity="1" />
<circle cx="528.75" cy="124.39" r="1.2" fill="none" stroke="#ff3a3a" stroke-width="0.6"/>
<circle cx="530.04" cy="123.25" r="1.2" fill="none" stroke="#ff3a3a" stroke-width="0.6"/>
<circle cx="531.34" cy="123.48" r="1.2" fill="none" stroke="#ff3a3a" stroke-width="0.6"/>
<circle cx="532.63" cy="122.64" r="1.2" fill="none" stroke="#ff3a3a" stroke-width="0.6"/>
<circle cx="533.92" cy="122.32" r="1.2" fill="none" stroke="#ff3a3a" stroke-width="0.6"/>
<circle cx="535.22" cy="122.63" r="1.2" fill="none" stroke="#ff3a3a" stroke-width="0.6"/>
<circle cx="536.51" cy="123.02" r="1.2" fill="none" stroke="#ff3a3a" stroke-width="0.6"/>
<circle cx="537.81" cy="123.12" r="1.2" fill="none" stroke="#ff3a3a" stroke-width="0.6"/>
<circle cx="539.10" cy="121.98" r="1.2" fill="none" stroke="#ff3a3a" stroke-width="0.6"/>
<circle cx="540.39" cy="122.42" r="1.2" fill="none" stroke="#ff3a3a" stroke-width="0.6"/>
<circle cx="541.69" cy="122.05" r="1.2" fill="none" stroke="#ff3a3a" stroke-width="0.6"/>
<circle cx="542.98" cy="121.88" r="1.2" fill="none" stroke="#ff3a3a" stroke-width="0.6"/>
<circle cx="544.27" cy="122.03" r="1.2" fill="none" stroke="#ff3a3a" stroke-width="0.6"/>
<circle cx="545.57" cy="120.66" r="1.2" fill="none" stroke="#ff3a3a" stroke-width="0.6"/>
<circle cx="546.86" cy="121.50" r="1.2" fill="none" stroke="#ff3a3a" stroke-width="0.6"/>
<circle cx="548.15" cy="120.45" r="1.2" fill="none" stroke="#ff3a3a" stroke-width="0.6"/>
<circle cx="549.45" cy="121.72" r="1.2" fill="none" stroke="#ff3a3a" stroke-width="0.6"/>
<circle cx="550.74" cy="122.06" r="1.2" fill="none" stroke="#ff3a3a" stroke-width="0.6"/>
<circle cx="552.03" cy="120.87" r="1.2" fill="none" stroke="#ff3a3a" stroke-width="0.6"/>
<circle cx="553.33" cy="121.61" r="1.2" fill="none" stroke="#ff3a3a" stroke-width="0.6"/>
<circle cx="554.62" cy="120.68" r="1.2" fill="none" stroke="#ff3a3a" stroke-width="0.6"/>
<circle cx="555.92" cy="121.13" r="1.2" fill="none" stroke="#ff3a3a" stroke-width="0.6"/>
<circle cx="557.21" cy="120.72" r="1.2" fill="none" stroke="#ff3a3a" stroke-width="0.6"/>
<circle cx="558.50" cy="120.97" r="1.2" fill="none" stroke="#ff3a3a" stroke-width="0.6"/>
<circle cx="559.80" cy="119.90" r="1.2" fill="none" stroke="#ff3a3a" stroke-width="0.6"/>
<circle cx="561.09" cy="120.85" r="1.2" fill="none" stroke="#ff3a3a" stroke-width="0.6"/>
<circle cx="562.38" cy="120.31" r="1.2" fill="none" stroke="#ff3a3a" stroke-width="0.6"/>
<circle cx="563.68" cy="120.73" r="1.2" fill="none" stroke="#ff3a3a" stroke-width="0.6"/>
<circle cx="564.97" cy="120.48" r="1.2" fill="none" stroke="#ff3a3a" stroke-width="0.6"/>
<circle cx="566.26" cy="120.26" r="1.2" fill="none" stroke="#ff3a3a" stroke-width="0.6"/>
<circle cx="567.56" cy="120.30" r="1.2" fill="none" stroke="#ff3a3a" stroke-width="0.6"/>
<circle cx="568.85" cy="119.33" r="1.2" fill="none" stroke="#ff3a3a" stroke-width="0.6"/>
<circle cx="570.15" cy="120.63" r="1.2" fill="none" stroke="#ff3a3a" stroke-width="0.6"/>
<circle cx="571.44" cy="119.95" r="1.2" fill="none" stroke="#ff3a3a" stroke-width="0.6"/>
<circle cx="572.73" cy="119.51" r="1.2" fill="none" stroke="#ff3a3a" stroke-width="0.6"/>
<circle cx="574.03" cy="119.72" r="1.2" fill="none" stroke="#ff3a3a" stroke-width="0.6"/>
<circle cx="575.32" cy="118.85" r="1.2" fill="none" stroke="#ff3a3a" stroke-width="0.6"/>
<circle cx="576.61" cy="120.20" r="1.2" fill="none" stroke="#ff3a3a" stroke-width="0.6"/>
<circle cx="577.91" cy="120.78" r="1.2" fill="none" stroke="#ff3a3a" stroke-width="0.6"/>
<circle cx="579.20" cy="119.19" r="1.2" fill="none" stroke="#ff3a3a" stroke-width="0.6"/>
<circle cx="580.49" cy="119.52" r="1.2" fill="none" stroke="#ff3a3a" stroke-width="0.6"/>
<circle cx="581.79" cy="118.56" r="1.2" fill="none" stroke="#ff3a3a" stroke-width="0.6"/>
<circle cx="583.08" cy="119.35" r="1.2" fill="none" stroke="#ff3a3a" stroke-width="0.6"/>
<circle cx="584.37" cy="120.59" r="1.2" fill="none" stroke="#ff3a3a" stroke-width="0.6"/>
<circle cx="585.67" cy="120.30" r="1.2" fill="none" stroke="#ff3a3a" stroke-width="0.6"/>
<circle cx="586.96" cy="120.06" r="1.2" fill="none" stroke="#ff3a3a" stroke-width="0.6"/>
<circle cx="588.26" cy="119.74" r="1.2" fill="none" stroke="#ff3a3a" stroke-width="0.6"/>
<circle cx="589.55" cy="119.34" r="1.2" fill="none" stroke="#ff3a3a" stroke-width="0.6"/>
<circle cx="590.84" cy="120.25" r="1.2" fill="none" stroke="#ff3a3a" stroke-width="0.6"/>
<circle cx="592.14" cy="119.50" r="1.2" fill="none" stroke="#ff3a3a" stroke-width="0.6"/>
<circle cx="593.43" cy="118.95" r="1.2" fill="none" stroke="#ff3a3a" stroke-width="0.6"/>
<circle cx="594.72" cy="119.89" r="1.2" fill="none" stroke="#ff3a3a" stroke-width="0.6"/>
<circle cx="596.02" cy="120.38" r="1.2" fill="none" stroke="#ff3a3a" stroke-width="0.6"/>
<circle cx="597.31" cy="120.09" r="1.2" fill="none" stroke="#ff3a3a" stroke-width="0.6"/>
<circle cx="598.60" cy="118.48" r="1.2" fill="none" stroke="#ff3a3a" stroke-width="0.6"/>
<circle cx="599.90" cy="118.96" r="1.2" fill="none" stroke="#ff3a3a" stroke-width="0.6"/>
<circle cx="601.19" cy="119.40" r="1.2" fill="none" stroke="#ff3a3a" stroke-width="0.6"/>
<circle cx="602.49" cy="119.68" r="1.2" fill="none" stroke="#ff3a3a" stroke-width="0.6"/>
<circle cx="603.78" cy="120.16" r="1.2" fill="none" stroke="#ff3a3a" stroke-width="0.6"/>
<circle cx="605.07" cy="119.09" r="1.2" fill="none" stroke="#ff3a3a" stroke-width="0.6"/>
<circle cx="606.37" cy="118.93" r="1.2" fill="none" stroke="#ff3a3a" stroke-width="0.6"/>
<circle cx="607.66" cy="119.67" r="1.2" fill="none" stroke="#ff3a3a" stroke-width="0.6"/>
<circle cx="608.95" cy="118.50" r="1.2" fill="none" stroke="#ff3a3a" stroke-width="0.6"/>
<circle cx="610.25" cy="118.94" r="1.2" fill="none" stroke="#ff3a3a" stroke-width="0.6"/>
<circle cx="611.54" cy="120.33" r="1.2" fill="none" stroke="#ff3a3a" stroke-width="0.6"/>
<circle cx="612.83" cy="119.91" r="1.2" fill="none" stroke="#ff3a3a" stroke-width="0.6"/>
<circle cx="614.13" cy="119.72" r="1.2" fill="none" stroke="#ff3a3a" stroke-width="0.6"/>
<circle cx="615.42" cy="120.58" r="1.2" fill="none" stroke="#ff3a3a" stroke-width="0.6"/>
<circle cx="616.71" cy="118.77" r="1.2" fill="none" stroke="#ff3a3a" stroke-width="0.6"/>
<circle cx="618.01" cy="119.92" r="1.2" fill="none" stroke="#ff3a3a" stroke-width="0.6"/>
<circle cx="619.30" cy="119.08" r="1.2" fill="none" stroke="#ff3a3a" stroke-width="0.6"/>
<circle cx="620.60" cy="119.21" r="1.2" fill="none" stroke="#ff3a3a" stroke-width="0.6"/>
<circle cx="621.89" cy="119.98" r="1.2" fill="none" stroke="#ff3a3a" stroke-width="0.6"/>
<circle cx="623.18" cy="119.25" r="1.2" fill="none" stroke="#ff3a3a" stroke-width="0.6"/>
<circle cx="624.48" cy="119.81" r="1.2" fill="none" stroke="#ff3a3a" stroke-width="0.6"/>
<circle cx="625.77" cy="119.87" r="1.2" fill="none" stroke="#ff3a3a" stroke-width="0.6"/>
<circle cx="627.06" cy="119.44" r="1.2" fill="none" stroke="#ff3a3a" stroke-width="0.6"/>
<circle cx="628.36" cy="119.20" r="1.2" fill="none" stroke="#ff3a3a" stroke-width="0.6"/>
<circle cx="629.65" cy="119.62" r="1.2" fill="none" stroke="#ff3a3a" stroke-width="0.6"/>
<circle cx="630.94" cy="119.67" r="1.2" fill="none" stroke="#ff3a3a" stroke-width="0.6"/>
<circle cx="632.24" cy="118.59" r="1.2" fill="none" stroke="#ff3a3a" stroke-width="0.6"/>
<circle cx="633.53" cy="119.23" r="1.2" fill="none" stroke="#ff3a3a" stroke-width="0.6"/>
<circle cx="634.83" cy="120.13" r="1.2" fill="none" stroke="#ff3a3a" stroke-width="0.6"/>
<circle cx="636.12" cy="119.74" r="1.2" fill="none" stroke="#ff3a3a" stroke-width="0.6"/>
<circle cx="637.41" cy="119.60" r="1.2" fill="none" stroke="#ff3a3a" stroke-width="0.6"/>
<circle cx="638.71" cy="119.22" r="1.2" fill="none" stroke="#ff3a3a" stroke-width="0.6"/>
<circle cx="640.00" cy="119.72" r="1.2" fill="none" stroke="#ff3a3a" stroke-width="0.6"/>
<circle cx="641.29" cy="118.57" r="1.2" fill="none" stroke="#ff3a3a" stroke-width="0.6"/>
<circle cx="642.59" cy="117.81" r="1.2" fill="none" stroke="#ff3a3a" stroke-width="0.6"/>
<circle cx="643.88" cy="119.70" r="1.2" fill="none" stroke="#ff3a3a" stroke-width="0.6"/>
<circle cx="645.17" cy="118.56" r="1.2" fill="none" stroke="#ff3a3a" stroke-width="0.6"/>
<circle cx="646.47" cy="118.49" r="1.2" fill="none" stroke="#ff3a3a" stroke-width="0.6"/>
<circle cx="647.76" cy="119.31" r="1.2" fill="none" stroke="#ff3a3a" stroke-width="0.6"/>
<circle cx="649.05" cy="119.02" r="1.2" fill="none" stroke="#ff3a3a" stroke-width="0.6"/>
<circle cx="650.35" cy="118.83" r="1.2" fill="none" stroke="#ff3a3a" stroke-width="0.6"/>
<circle cx="651.64" cy="119.21" r="1.2" fill="none" stroke="#ff3a3a" stroke-width="0.6"/>
<circle cx="652.94" cy="119.55" r="1.2" fill="none" stroke="#ff3a3a" stroke-width="0.6"/>
<circle cx="654.23" cy="119.42" r="1.2" fill="none" stroke="#ff3a3a" stroke-width="0.6"/>
<circle cx="655.52" cy="118.56" r="1.2" fill="none" stroke="#ff3a3a" stroke-width="0.6"/>
<circle cx="656.82" cy="119.53" r="1.2" fill="none" stroke="#ff3a3a" stroke-width="0.6"/>
<circle cx="658.11" cy="118.66" r="1.2" fill="none" stroke="#ff3a3a" stroke-width="0.6"/>
<circle cx="659.40" cy="118.89" r="1.2" fill="none" stroke="#ff3a3a" stroke-width="0.6"/>
<circle cx="660.70" cy="119.12" r="1.2" fill="none" stroke="#ff3a3a" stroke-width="0.6"/>
<circle cx="661.99" cy="118.47" r="1.2" fill="none" stroke="#ff3a3a" stroke-width="0.6"/>
<circle cx="663.28" cy="118.84" r="1.2" fill="none" stroke="#ff3a3a" stroke-width="0.6"/>
<circle cx="664.58" cy="118.63" r="1.2" fill="none" stroke="#ff3a3a" stroke-width="0.6"/>
<circle cx="665.87" cy="119.15" r="1.2" fill="none" stroke="#ff3a3a" stroke-width="0.6"/>
<circle cx="667.17" cy="119.16" r="1.2" fill="none" stroke="#ff3a3a" stroke-width="0.6"/>
<circle cx="668.46" cy="118.52" r="1.2" fill="none" stroke="#ff3a3a" stroke-width="0.6"/>
<circle cx="669.75" cy="118.05" r="1.2" fill="none" stroke="#ff3a3a" stroke-width="0.6"/>
<circle cx="671.05" cy="118.65" r="1.2" fill="none" stroke="#ff3a3a" stroke-width="0.6"/>
<circle cx="672.34" cy="117.80" r="1.2" fill="none" stroke="#ff3a3a" stroke-width="0.6"/>
<circle cx="673.63" cy="118.60" r="1.2" fill="none" stroke="#ff3a3a" stroke-width="0.6"/>
<circle cx="674.93" cy="118.65" r="1.2" fill="none" stroke="#ff3a3a" stroke-width="0.6"/>
<polyline points="528.75,127.09 529.18,127.03 529.74,126.95 530.40,126.86 531.14,126.76 531.95,126.66 532.82,126.56 533.71,126.46 534.63,126.37 535.55,126.29 536.49,126.21 537.46,126.14 538.49,126.06 539.58,125.99 540.76,125.92 542.05,125.86 543.45,125.79 544.91,125.73 546.37,125.68 547.89,125.63 549.51,125.58 551.30,125.53 553.30,125.48 555.57,125.42 558.15,125.36 561.12,125.30 564.47,125.23 568.10,125.16 571.93,125.08 575.88,125.01 579.86,124.93 583.77,124.86 587.55,124.79 591.23,124.72 594.90,124.64 598.58,124.57 602.25,124.50 605.92,124.43 609.60,124.36 613.27,124.28 616.95,124.21 620.62,124.14 624.30,124.07 627.98,124.00 631.65,123.92 635.33,123.85 639.00,123.78 642.67,123.71 646.35,123.64 650.23,123.56 654.39,123.48 658.67,123.40 662.89,123.31 666.88,123.24 670.47,123.17 673.48,123.11 675.75,123.06" fill="none" stroke="#111" stroke-width="2.1" stroke-linejoin="round" stroke-linecap="round" opacity="1" />
<polyline points="528.75,51.14 541.10,51.57 558.61,52.17 579.57,52.89 602.25,53.67 624.93,54.46 645.89,55.18 663.40,55.78 675.75,56.21" fill="none" stroke="#000" stroke-width="2.4" stroke-linejoin="round" stroke-linecap="round" opacity="1" />
<circle cx="528.95" cy="51.53" r="0.9" fill="#ff0000"/>
<circle cx="529.07" cy="51.48" r="0.9" fill="#ff0000"/>
<circle cx="529.82" cy="52.28" r="0.9" fill="#ff0000"/>
<circle cx="530.56" cy="52.07" r="0.9" fill="#ff0000"/>
<circle cx="531.38" cy="53.40" r="0.9" fill="#ff0000"/>
<circle cx="531.58" cy="52.42" r="0.9" fill="#ff0000"/>
<circle cx="532.25" cy="52.88" r="0.9" fill="#ff0000"/>
<circle cx="532.75" cy="52.74" r="0.9" fill="#ff0000"/>
<circle cx="533.52" cy="52.58" r="0.9" fill="#ff0000"/>
<circle cx="534.28" cy="53.38" r="0.9" fill="#ff0000"/>
<circle cx="535.05" cy="53.09" r="0.9" fill="#ff0000"/>
<circle cx="535.31" cy="53.93" r="0.9" fill="#ff0000"/>
<circle cx="536.04" cy="54.69" r="0.9" fill="#ff0000"/>
<circle cx="536.38" cy="54.40" r="0.9" fill="#ff0000"/>
<circle cx="537.24" cy="54.57" r="0.9" fill="#ff0000"/>
<circle cx="537.67" cy="53.70" r="0.9" fill="#ff0000"/>
<circle cx="538.56" cy="54.84" r="0.9" fill="#ff0000"/>
<circle cx="539.23" cy="54.77" r="0.9" fill="#ff0000"/>
<circle cx="539.66" cy="54.51" r="0.9" fill="#ff0000"/>
<circle cx="540.36" cy="55.65" r="0.9" fill="#ff0000"/>
<circle cx="541.14" cy="55.97" r="0.9" fill="#ff0000"/>
<circle cx="541.55" cy="55.77" r="0.9" fill="#ff0000"/>
<circle cx="542.43" cy="56.16" r="0.9" fill="#ff0000"/>
<circle cx="542.59" cy="56.37" r="0.9" fill="#ff0000"/>
<circle cx="543.71" cy="56.14" r="0.9" fill="#ff0000"/>
<circle cx="544.14" cy="57.27" r="0.9" fill="#ff0000"/>
<circle cx="544.86" cy="56.44" r="0.9" fill="#ff0000"/>
<circle cx="545.00" cy="57.31" r="0.9" fill="#ff0000"/>
<circle cx="546.19" cy="56.51" r="0.9" fill="#ff0000"/>
<circle cx="546.66" cy="57.20" r="0.9" fill="#ff0000"/>
<circle cx="547.16" cy="55.38" r="0.9" fill="#ff0000"/>
<circle cx="547.49" cy="56.59" r="0.9" fill="#ff0000"/>
<circle cx="548.27" cy="55.62" r="0.9" fill="#ff0000"/>
<circle cx="548.61" cy="56.32" r="0.9" fill="#ff0000"/>
<circle cx="549.09" cy="55.15" r="0.9" fill="#ff0000"/>
<circle cx="549.12" cy="57.93" r="0.9" fill="#ff0000"/>
<circle cx="549.90" cy="57.89" r="0.9" fill="#ff0000"/>
<circle cx="550.26" cy="56.37" r="0.9" fill="#ff0000"/>
<circle cx="550.43" cy="58.21" r="0.9" fill="#ff0000"/>
<circle cx="550.75" cy="57.56" r="0.9" fill="#ff0000"/>
<circle cx="551.41" cy="55.33" r="0.9" fill="#ff0000"/>
<circle cx="551.99" cy="57.89" r="0.9" fill="#ff0000"/>
<circle cx="552.07" cy="55.21" r="0.9" fill="#ff0000"/>
<circle cx="552.63" cy="55.50" r="0.9" fill="#ff0000"/>
<circle cx="552.90" cy="56.39" r="0.9" fill="#ff0000"/>
<circle cx="553.59" cy="54.62" r="0.9" fill="#ff0000"/>
<circle cx="553.73" cy="56.32" r="0.9" fill="#ff0000"/>
<circle cx="554.36" cy="56.38" r="0.9" fill="#ff0000"/>
<circle cx="554.68" cy="58.88" r="0.9" fill="#ff0000"/>
<circle cx="554.93" cy="58.20" r="0.9" fill="#ff0000"/>
<circle cx="555.49" cy="59.63" r="0.9" fill="#ff0000"/>
<circle cx="556.08" cy="58.70" r="0.9" fill="#ff0000"/>
<circle cx="556.51" cy="56.07" r="0.9" fill="#ff0000"/>
<circle cx="556.88" cy="61.58" r="0.9" fill="#ff0000"/>
<circle cx="557.24" cy="59.88" r="0.9" fill="#ff0000"/>
<circle cx="557.49" cy="56.16" r="0.9" fill="#ff0000"/>
<circle cx="557.99" cy="58.01" r="0.9" fill="#ff0000"/>
<circle cx="558.50" cy="58.67" r="0.9" fill="#ff0000"/>
<circle cx="558.82" cy="54.82" r="0.9" fill="#ff0000"/>
<circle cx="559.33" cy="58.20" r="0.9" fill="#ff0000"/>
<circle cx="559.83" cy="56.88" r="0.9" fill="#ff0000"/>
<circle cx="560.13" cy="57.98" r="0.9" fill="#ff0000"/>
<circle cx="560.56" cy="58.86" r="0.9" fill="#ff0000"/>
<circle cx="560.73" cy="61.57" r="0.9" fill="#ff0000"/>
<circle cx="561.32" cy="57.43" r="0.9" fill="#ff0000"/>
<circle cx="561.57" cy="58.19" r="0.9" fill="#ff0000"/>
<circle cx="561.91" cy="57.17" r="0.9" fill="#ff0000"/>
<circle cx="562.56" cy="59.45" r="0.9" fill="#ff0000"/>
<circle cx="562.81" cy="57.35" r="0.9" fill="#ff0000"/>
<circle cx="563.39" cy="58.59" r="0.9" fill="#ff0000"/>
<circle cx="563.88" cy="59.37" r="0.9" fill="#ff0000"/>
<circle cx="564.38" cy="62.08" r="0.9" fill="#ff0000"/>
<circle cx="564.36" cy="65.98" r="0.9" fill="#ff0000"/>
<circle cx="565.05" cy="60.16" r="0.9" fill="#ff0000"/>
<circle cx="565.32" cy="61.85" r="0.9" fill="#ff0000"/>
<circle cx="565.70" cy="66.01" r="0.9" fill="#ff0000"/>
<circle cx="566.16" cy="59.80" r="0.9" fill="#ff0000"/>
<circle cx="566.74" cy="59.96" r="0.9" fill="#ff0000"/>
<circle cx="567.17" cy="64.91" r="0.9" fill="#ff0000"/>
<circle cx="567.50" cy="58.42" r="0.9" fill="#ff0000"/>
<circle cx="567.80" cy="66.29" r="0.9" fill="#ff0000"/>
<circle cx="568.22" cy="60.80" r="0.9" fill="#ff0000"/>
<circle cx="568.69" cy="64.42" r="0.9" fill="#ff0000"/>
<circle cx="568.93" cy="58.05" r="0.9" fill="#ff0000"/>
<circle cx="569.63" cy="57.72" r="0.9" fill="#ff0000"/>
<circle cx="569.78" cy="56.87" r="0.9" fill="#ff0000"/>
<circle cx="570.23" cy="56.85" r="0.9" fill="#ff0000"/>
<circle cx="570.95" cy="56.93" r="0.9" fill="#ff0000"/>
<circle cx="571.04" cy="58.71" r="0.9" fill="#ff0000"/>
<circle cx="571.61" cy="58.03" r="0.9" fill="#ff0000"/>
<circle cx="571.86" cy="61.81" r="0.9" fill="#ff0000"/>
<circle cx="572.27" cy="56.85" r="0.9" fill="#ff0000"/>
<circle cx="572.93" cy="57.75" r="0.9" fill="#ff0000"/>
<circle cx="573.36" cy="57.53" r="0.9" fill="#ff0000"/>
<circle cx="573.43" cy="57.60" r="0.9" fill="#ff0000"/>
<circle cx="573.90" cy="62.37" r="0.9" fill="#ff0000"/>
<circle cx="574.38" cy="60.36" r="0.9" fill="#ff0000"/>
<circle cx="574.77" cy="58.50" r="0.9" fill="#ff0000"/>
<circle cx="575.34" cy="57.96" r="0.9" fill="#ff0000"/>
<circle cx="575.50" cy="56.72" r="0.9" fill="#ff0000"/>
<circle cx="576.03" cy="58.85" r="0.9" fill="#ff0000"/>
<circle cx="576.55" cy="59.64" r="0.9" fill="#ff0000"/>
<circle cx="577.06" cy="67.17" r="0.9" fill="#ff0000"/>
<circle cx="577.42" cy="60.03" r="0.9" fill="#ff0000"/>
<circle cx="577.53" cy="59.84" r="0.9" fill="#ff0000"/>
<circle cx="578.36" cy="59.76" r="0.9" fill="#ff0000"/>
<circle cx="578.70" cy="73.40" r="0.9" fill="#ff0000"/>
<circle cx="578.82" cy="67.44" r="0.9" fill="#ff0000"/>
<circle cx="579.46" cy="60.22" r="0.9" fill="#ff0000"/>
<circle cx="579.73" cy="60.24" r="0.9" fill="#ff0000"/>
<circle cx="580.28" cy="58.30" r="0.9" fill="#ff0000"/>
<circle cx="580.73" cy="61.82" r="0.9" fill="#ff0000"/>
<circle cx="581.04" cy="69.50" r="0.9" fill="#ff0000"/>
<circle cx="581.48" cy="60.51" r="0.9" fill="#ff0000"/>
<circle cx="581.64" cy="59.38" r="0.9" fill="#ff0000"/>
<circle cx="582.48" cy="60.89" r="0.9" fill="#ff0000"/>
<circle cx="582.48" cy="61.95" r="0.9" fill="#ff0000"/>
<circle cx="582.88" cy="57.52" r="0.9" fill="#ff0000"/>
<circle cx="583.40" cy="61.52" r="0.9" fill="#ff0000"/>
<circle cx="583.76" cy="61.97" r="0.9" fill="#ff0000"/>
<circle cx="584.17" cy="57.67" r="0.9" fill="#ff0000"/>
<circle cx="584.56" cy="60.53" r="0.9" fill="#ff0000"/>
<circle cx="584.99" cy="58.41" r="0.9" fill="#ff0000"/>
<circle cx="585.46" cy="59.21" r="0.9" fill="#ff0000"/>
<circle cx="585.98" cy="59.84" r="0.9" fill="#ff0000"/>
<circle cx="586.25" cy="57.62" r="0.9" fill="#ff0000"/>
<circle cx="586.73" cy="60.93" r="0.9" fill="#ff0000"/>
<circle cx="587.21" cy="60.73" r="0.9" fill="#ff0000"/>
<circle cx="587.66" cy="58.55" r="0.9" fill="#ff0000"/>
<circle cx="588.06" cy="59.43" r="0.9" fill="#ff0000"/>
<circle cx="588.21" cy="58.26" r="0.9" fill="#ff0000"/>
<circle cx="588.86" cy="60.73" r="0.9" fill="#ff0000"/>
<circle cx="589.14" cy="60.45" r="0.9" fill="#ff0000"/>
<circle cx="589.80" cy="60.64" r="0.9" fill="#ff0000"/>
<circle cx="590.31" cy="61.61" r="0.9" fill="#ff0000"/>
<circle cx="590.40" cy="59.12" r="0.9" fill="#ff0000"/>
<circle cx="590.93" cy="58.09" r="0.9" fill="#ff0000"/>
<circle cx="591.27" cy="58.94" r="0.9" fill="#ff0000"/>
<circle cx="591.67" cy="55.48" r="0.9" fill="#ff0000"/>
<circle cx="592.00" cy="54.99" r="0.9" fill="#ff0000"/>
<circle cx="592.49" cy="55.17" r="0.9" fill="#ff0000"/>
<circle cx="593.16" cy="54.02" r="0.9" fill="#ff0000"/>
<circle cx="593.56" cy="55.75" r="0.9" fill="#ff0000"/>
<circle cx="593.57" cy="55.63" r="0.9" fill="#ff0000"/>
<circle cx="594.22" cy="54.70" r="0.9" fill="#ff0000"/>
<circle cx="594.71" cy="54.76" r="0.9" fill="#ff0000"/>
<circle cx="594.79" cy="54.99" r="0.9" fill="#ff0000"/>
<circle cx="595.52" cy="56.03" r="0.9" fill="#ff0000"/>
<circle cx="595.63" cy="55.97" r="0.9" fill="#ff0000"/>
<circle cx="596.33" cy="55.98" r="0.9" fill="#ff0000"/>
<circle cx="596.76" cy="56.65" r="0.9" fill="#ff0000"/>
<circle cx="597.06" cy="56.98" r="0.9" fill="#ff0000"/>
<circle cx="597.34" cy="55.01" r="0.9" fill="#ff0000"/>
<circle cx="597.96" cy="56.90" r="0.9" fill="#ff0000"/>
<circle cx="598.14" cy="56.32" r="0.9" fill="#ff0000"/>
<circle cx="598.60" cy="55.43" r="0.9" fill="#ff0000"/>
<circle cx="599.16" cy="57.82" r="0.9" fill="#ff0000"/>
<circle cx="599.63" cy="57.56" r="0.9" fill="#ff0000"/>
<circle cx="600.07" cy="56.66" r="0.9" fill="#ff0000"/>
<circle cx="600.17" cy="56.67" r="0.9" fill="#ff0000"/>
<circle cx="600.95" cy="56.72" r="0.9" fill="#ff0000"/>
<circle cx="601.11" cy="55.87" r="0.9" fill="#ff0000"/>
<circle cx="601.76" cy="58.07" r="0.9" fill="#ff0000"/>
<circle cx="602.22" cy="58.28" r="0.9" fill="#ff0000"/>
<circle cx="602.21" cy="60.61" r="0.9" fill="#ff0000"/>
<circle cx="602.62" cy="57.53" r="0.9" fill="#ff0000"/>
<circle cx="603.30" cy="56.98" r="0.9" fill="#ff0000"/>
<circle cx="603.48" cy="57.55" r="0.9" fill="#ff0000"/>
<circle cx="604.13" cy="58.22" r="0.9" fill="#ff0000"/>
<circle cx="604.39" cy="59.18" r="0.9" fill="#ff0000"/>
<circle cx="605.04" cy="58.82" r="0.9" fill="#ff0000"/>
<circle cx="605.54" cy="60.29" r="0.9" fill="#ff0000"/>
<circle cx="605.65" cy="58.23" r="0.9" fill="#ff0000"/>
<circle cx="606.28" cy="59.41" r="0.9" fill="#ff0000"/>
<circle cx="606.75" cy="58.85" r="0.9" fill="#ff0000"/>
<circle cx="606.89" cy="58.05" r="0.9" fill="#ff0000"/>
<circle cx="607.17" cy="59.65" r="0.9" fill="#ff0000"/>
<circle cx="607.61" cy="58.71" r="0.9" fill="#ff0000"/>
<circle cx="608.05" cy="61.65" r="0.9" fill="#ff0000"/>
<circle cx="608.56" cy="59.80" r="0.9" fill="#ff0000"/>
<circle cx="609.24" cy="59.02" r="0.9" fill="#ff0000"/>
<circle cx="609.48" cy="61.54" r="0.9" fill="#ff0000"/>
<circle cx="609.78" cy="60.47" r="0.9" fill="#ff0000"/>
<circle cx="610.29" cy="60.55" r="0.9" fill="#ff0000"/>
<circle cx="610.61" cy="61.69" r="0.9" fill="#ff0000"/>
<circle cx="611.22" cy="62.32" r="0.9" fill="#ff0000"/>
<circle cx="611.46" cy="58.86" r="0.9" fill="#ff0000"/>
<circle cx="611.89" cy="62.08" r="0.9" fill="#ff0000"/>
<circle cx="612.24" cy="60.67" r="0.9" fill="#ff0000"/>
<circle cx="612.88" cy="60.20" r="0.9" fill="#ff0000"/>
<circle cx="612.99" cy="62.28" r="0.9" fill="#ff0000"/>
<circle cx="613.63" cy="60.03" r="0.9" fill="#ff0000"/>
<circle cx="613.88" cy="62.29" r="0.9" fill="#ff0000"/>
<circle cx="614.42" cy="61.13" r="0.9" fill="#ff0000"/>
<circle cx="614.65" cy="61.11" r="0.9" fill="#ff0000"/>
<circle cx="615.13" cy="62.97" r="0.9" fill="#ff0000"/>
<circle cx="615.50" cy="63.04" r="0.9" fill="#ff0000"/>
<circle cx="615.93" cy="60.75" r="0.9" fill="#ff0000"/>
<circle cx="616.36" cy="62.01" r="0.9" fill="#ff0000"/>
<circle cx="616.77" cy="62.87" r="0.9" fill="#ff0000"/>
<circle cx="617.40" cy="62.79" r="0.9" fill="#ff0000"/>
<circle cx="617.89" cy="62.62" r="0.9" fill="#ff0000"/>
<circle cx="618.13" cy="62.00" r="0.9" fill="#ff0000"/>
<circle cx="618.65" cy="62.29" r="0.9" fill="#ff0000"/>
<circle cx="618.80" cy="62.96" r="0.9" fill="#ff0000"/>
<circle cx="619.18" cy="61.89" r="0.9" fill="#ff0000"/>
<circle cx="619.88" cy="63.03" r="0.9" fill="#ff0000"/>
<circle cx="619.90" cy="63.81" r="0.9" fill="#ff0000"/>
<circle cx="620.44" cy="63.22" r="0.9" fill="#ff0000"/>
<circle cx="621.15" cy="62.67" r="0.9" fill="#ff0000"/>
<circle cx="621.31" cy="65.18" r="0.9" fill="#ff0000"/>
<circle cx="621.75" cy="63.20" r="0.9" fill="#ff0000"/>
<circle cx="622.12" cy="62.85" r="0.9" fill="#ff0000"/>
<circle cx="622.36" cy="64.41" r="0.9" fill="#ff0000"/>
<circle cx="622.92" cy="64.64" r="0.9" fill="#ff0000"/>
<circle cx="623.38" cy="62.31" r="0.9" fill="#ff0000"/>
<circle cx="623.74" cy="62.46" r="0.9" fill="#ff0000"/>
<circle cx="624.44" cy="63.01" r="0.9" fill="#ff0000"/>
<circle cx="624.74" cy="60.41" r="0.9" fill="#ff0000"/>
<circle cx="625.03" cy="61.78" r="0.9" fill="#ff0000"/>
<circle cx="625.29" cy="62.42" r="0.9" fill="#ff0000"/>
<circle cx="626.05" cy="62.93" r="0.9" fill="#ff0000"/>
<circle cx="626.30" cy="64.52" r="0.9" fill="#ff0000"/>
<circle cx="626.64" cy="61.98" r="0.9" fill="#ff0000"/>
<circle cx="627.16" cy="62.10" r="0.9" fill="#ff0000"/>
<circle cx="627.42" cy="61.27" r="0.9" fill="#ff0000"/>
<circle cx="628.14" cy="69.18" r="0.9" fill="#ff0000"/>
<circle cx="628.45" cy="60.73" r="0.9" fill="#ff0000"/>
<circle cx="628.90" cy="60.93" r="0.9" fill="#ff0000"/>
<circle cx="629.38" cy="67.12" r="0.9" fill="#ff0000"/>
<circle cx="629.47" cy="61.12" r="0.9" fill="#ff0000"/>
<circle cx="629.90" cy="62.98" r="0.9" fill="#ff0000"/>
<circle cx="630.53" cy="64.14" r="0.9" fill="#ff0000"/>
<circle cx="630.96" cy="63.64" r="0.9" fill="#ff0000"/>
<circle cx="631.11" cy="63.61" r="0.9" fill="#ff0000"/>
<circle cx="631.47" cy="63.63" r="0.9" fill="#ff0000"/>
<circle cx="632.29" cy="64.86" r="0.9" fill="#ff0000"/>
<circle cx="632.40" cy="61.76" r="0.9" fill="#ff0000"/>
<circle cx="633.11" cy="65.10" r="0.9" fill="#ff0000"/>
<circle cx="633.50" cy="69.34" r="0.9" fill="#ff0000"/>
<circle cx="633.91" cy="65.11" r="0.9" fill="#ff0000"/>
<circle cx="633.90" cy="61.89" r="0.9" fill="#ff0000"/>
<circle cx="634.67" cy="62.49" r="0.9" fill="#ff0000"/>
<circle cx="634.98" cy="62.11" r="0.9" fill="#ff0000"/>
<circle cx="635.24" cy="61.98" r="0.9" fill="#ff0000"/>
<circle cx="635.94" cy="57.04" r="0.9" fill="#ff0000"/>
<circle cx="635.98" cy="57.40" r="0.9" fill="#ff0000"/>
<circle cx="636.82" cy="56.90" r="0.9" fill="#ff0000"/>
<circle cx="637.04" cy="56.98" r="0.9" fill="#ff0000"/>
<circle cx="637.24" cy="58.41" r="0.9" fill="#ff0000"/>
<circle cx="638.03" cy="57.32" r="0.9" fill="#ff0000"/>
<circle cx="638.06" cy="57.98" r="0.9" fill="#ff0000"/>
<circle cx="638.47" cy="57.25" r="0.9" fill="#ff0000"/>
<circle cx="638.86" cy="57.96" r="0.9" fill="#ff0000"/>
<circle cx="639.61" cy="58.68" r="0.9" fill="#ff0000"/>
<circle cx="639.66" cy="61.06" r="0.9" fill="#ff0000"/>
<circle cx="640.16" cy="57.98" r="0.9" fill="#ff0000"/>
<circle cx="640.59" cy="58.15" r="0.9" fill="#ff0000"/>
<circle cx="641.08" cy="59.89" r="0.9" fill="#ff0000"/>
<circle cx="641.37" cy="60.78" r="0.9" fill="#ff0000"/>
<circle cx="642.15" cy="59.40" r="0.9" fill="#ff0000"/>
<circle cx="642.29" cy="60.29" r="0.9" fill="#ff0000"/>
<circle cx="642.75" cy="59.68" r="0.9" fill="#ff0000"/>
<circle cx="643.31" cy="58.29" r="0.9" fill="#ff0000"/>
<circle cx="643.49" cy="60.50" r="0.9" fill="#ff0000"/>
<circle cx="644.19" cy="62.02" r="0.9" fill="#ff0000"/>
<circle cx="644.29" cy="60.52" r="0.9" fill="#ff0000"/>
<circle cx="644.89" cy="62.60" r="0.9" fill="#ff0000"/>
<circle cx="645.35" cy="59.82" r="0.9" fill="#ff0000"/>
<circle cx="645.82" cy="61.45" r="0.9" fill="#ff0000"/>
<circle cx="646.20" cy="60.93" r="0.9" fill="#ff0000"/>
<circle cx="646.54" cy="60.27" r="0.9" fill="#ff0000"/>
<circle cx="647.10" cy="62.31" r="0.9" fill="#ff0000"/>
<circle cx="647.28" cy="62.26" r="0.9" fill="#ff0000"/>
<circle cx="647.63" cy="61.27" r="0.9" fill="#ff0000"/>
<circle cx="647.94" cy="63.44" r="0.9" fill="#ff0000"/>
<circle cx="648.54" cy="62.13" r="0.9" fill="#ff0000"/>
<circle cx="649.04" cy="62.23" r="0.9" fill="#ff0000"/>
<circle cx="649.34" cy="61.72" r="0.9" fill="#ff0000"/>
<circle cx="649.73" cy="61.85" r="0.9" fill="#ff0000"/>
<circle cx="650.00" cy="62.82" r="0.9" fill="#ff0000"/>
<circle cx="650.75" cy="62.72" r="0.9" fill="#ff0000"/>
<circle cx="651.00" cy="60.93" r="0.9" fill="#ff0000"/>
<circle cx="651.38" cy="62.54" r="0.9" fill="#ff0000"/>
<circle cx="652.00" cy="62.80" r="0.9" fill="#ff0000"/>
<circle cx="652.13" cy="63.61" r="0.9" fill="#ff0000"/>
<circle cx="652.66" cy="61.31" r="0.9" fill="#ff0000"/>
<circle cx="652.92" cy="61.40" r="0.9" fill="#ff0000"/>
<circle cx="653.41" cy="64.06" r="0.9" fill="#ff0000"/>
<circle cx="653.90" cy="63.38" r="0.9" fill="#ff0000"/>
<circle cx="654.30" cy="61.82" r="0.9" fill="#ff0000"/>
<circle cx="654.53" cy="63.39" r="0.9" fill="#ff0000"/>
<circle cx="654.91" cy="62.76" r="0.9" fill="#ff0000"/>
<circle cx="655.30" cy="62.83" r="0.9" fill="#ff0000"/>
<circle cx="655.75" cy="62.32" r="0.9" fill="#ff0000"/>
<circle cx="656.52" cy="64.43" r="0.9" fill="#ff0000"/>
<circle cx="656.73" cy="63.64" r="0.9" fill="#ff0000"/>
<circle cx="657.39" cy="63.59" r="0.9" fill="#ff0000"/>
<circle cx="657.68" cy="62.98" r="0.9" fill="#ff0000"/>
<circle cx="658.08" cy="63.34" r="0.9" fill="#ff0000"/>
<circle cx="658.45" cy="63.58" r="0.9" fill="#ff0000"/>
<circle cx="658.91" cy="62.61" r="0.9" fill="#ff0000"/>
<circle cx="659.11" cy="57.07" r="0.9" fill="#ff0000"/>
<circle cx="659.55" cy="59.94" r="0.9" fill="#ff0000"/>
<circle cx="660.05" cy="59.27" r="0.9" fill="#ff0000"/>
<circle cx="660.24" cy="59.65" r="0.9" fill="#ff0000"/>
<circle cx="660.99" cy="60.27" r="0.9" fill="#ff0000"/>
<circle cx="661.17" cy="58.95" r="0.9" fill="#ff0000"/>
<circle cx="661.93" cy="59.32" r="0.9" fill="#ff0000"/>
<circle cx="662.23" cy="60.92" r="0.9" fill="#ff0000"/>
<circle cx="662.54" cy="58.66" r="0.9" fill="#ff0000"/>
<circle cx="663.05" cy="58.95" r="0.9" fill="#ff0000"/>
<circle cx="663.46" cy="61.31" r="0.9" fill="#ff0000"/>
<circle cx="663.97" cy="59.93" r="0.9" fill="#ff0000"/>
<circle cx="664.20" cy="60.07" r="0.9" fill="#ff0000"/>
<circle cx="664.47" cy="61.09" r="0.9" fill="#ff0000"/>
<circle cx="665.22" cy="62.13" r="0.9" fill="#ff0000"/>
<circle cx="665.42" cy="61.66" r="0.9" fill="#ff0000"/>
<circle cx="665.66" cy="64.25" r="0.9" fill="#ff0000"/>
<circle cx="666.40" cy="60.23" r="0.9" fill="#ff0000"/>
<circle cx="666.43" cy="61.11" r="0.9" fill="#ff0000"/>
<circle cx="666.83" cy="60.49" r="0.9" fill="#ff0000"/>
<circle cx="667.32" cy="60.20" r="0.9" fill="#ff0000"/>
<circle cx="667.82" cy="62.68" r="0.9" fill="#ff0000"/>
<circle cx="668.23" cy="62.84" r="0.9" fill="#ff0000"/>
<circle cx="668.48" cy="62.79" r="0.9" fill="#ff0000"/>
<circle cx="669.27" cy="60.69" r="0.9" fill="#ff0000"/>
<circle cx="669.70" cy="65.47" r="0.9" fill="#ff0000"/>
<circle cx="669.96" cy="61.41" r="0.9" fill="#ff0000"/>
<circle cx="670.32" cy="61.95" r="0.9" fill="#ff0000"/>
<circle cx="670.78" cy="61.85" r="0.9" fill="#ff0000"/>
<circle cx="670.96" cy="63.74" r="0.9" fill="#ff0000"/>
<circle cx="671.53" cy="62.19" r="0.9" fill="#ff0000"/>
<circle cx="672.04" cy="62.37" r="0.9" fill="#ff0000"/>
<circle cx="672.19" cy="64.82" r="0.9" fill="#ff0000"/>
<circle cx="672.63" cy="62.74" r="0.9" fill="#ff0000"/>
<circle cx="673.27" cy="62.26" r="0.9" fill="#ff0000"/>
<circle cx="673.80" cy="64.01" r="0.9" fill="#ff0000"/>
<circle cx="673.93" cy="63.55" r="0.9" fill="#ff0000"/>
<circle cx="674.59" cy="65.56" r="0.9" fill="#ff0000"/>
<circle cx="674.86" cy="63.40" r="0.9" fill="#ff0000"/>
<circle cx="675.24" cy="61.90" r="0.9" fill="#ff0000"/>
<circle cx="675.87" cy="61.55" r="0.9" fill="#ff0000"/>
<circle cx="676.08" cy="62.64" r="0.9" fill="#ff0000"/>
<circle cx="676.59" cy="62.03" r="0.9" fill="#ff0000"/>
<circle cx="528.79" cy="51.55" r="0.9" fill="#ff0000"/>
<circle cx="529.66" cy="51.74" r="0.9" fill="#ff0000"/>
<circle cx="529.78" cy="52.04" r="0.9" fill="#ff0000"/>
<circle cx="530.81" cy="52.51" r="0.9" fill="#ff0000"/>
<circle cx="531.09" cy="52.37" r="0.9" fill="#ff0000"/>
<circle cx="531.81" cy="53.24" r="0.9" fill="#ff0000"/>
<circle cx="532.35" cy="53.35" r="0.9" fill="#ff0000"/>
<circle cx="533.42" cy="52.75" r="0.9" fill="#ff0000"/>
<circle cx="533.65" cy="53.11" r="0.9" fill="#ff0000"/>
<circle cx="534.68" cy="52.90" r="0.9" fill="#ff0000"/>
<circle cx="534.72" cy="53.19" r="0.9" fill="#ff0000"/>
<circle cx="535.78" cy="54.12" r="0.9" fill="#ff0000"/>
<circle cx="536.37" cy="53.44" r="0.9" fill="#ff0000"/>
<circle cx="536.86" cy="54.82" r="0.9" fill="#ff0000"/>
<circle cx="537.27" cy="54.28" r="0.9" fill="#ff0000"/>
<circle cx="538.19" cy="54.72" r="0.9" fill="#ff0000"/>
<circle cx="538.70" cy="56.08" r="0.9" fill="#ff0000"/>
<circle cx="539.23" cy="56.01" r="0.9" fill="#ff0000"/>
<circle cx="540.05" cy="55.82" r="0.9" fill="#ff0000"/>
<circle cx="540.65" cy="56.39" r="0.9" fill="#ff0000"/>
<circle cx="541.16" cy="55.67" r="0.9" fill="#ff0000"/>
<circle cx="541.73" cy="56.26" r="0.9" fill="#ff0000"/>
<circle cx="542.53" cy="56.46" r="0.9" fill="#ff0000"/>
<circle cx="543.13" cy="56.98" r="0.9" fill="#ff0000"/>
<circle cx="543.51" cy="57.44" r="0.9" fill="#ff0000"/>
<circle cx="544.29" cy="57.68" r="0.9" fill="#ff0000"/>
<circle cx="544.96" cy="57.03" r="0.9" fill="#ff0000"/>
<circle cx="545.54" cy="57.09" r="0.9" fill="#ff0000"/>
<circle cx="545.82" cy="56.28" r="0.9" fill="#ff0000"/>
<circle cx="546.85" cy="55.82" r="0.9" fill="#ff0000"/>
<circle cx="547.28" cy="55.75" r="0.9" fill="#ff0000"/>
<circle cx="547.51" cy="57.55" r="0.9" fill="#ff0000"/>
<circle cx="548.08" cy="57.04" r="0.9" fill="#ff0000"/>
<circle cx="548.73" cy="54.11" r="0.9" fill="#ff0000"/>
<circle cx="548.89" cy="54.71" r="0.9" fill="#ff0000"/>
<circle cx="549.25" cy="55.22" r="0.9" fill="#ff0000"/>
<circle cx="549.74" cy="57.71" r="0.9" fill="#ff0000"/>
<circle cx="550.31" cy="56.77" r="0.9" fill="#ff0000"/>
<circle cx="550.58" cy="59.11" r="0.9" fill="#ff0000"/>
<circle cx="550.93" cy="57.31" r="0.9" fill="#ff0000"/>
<circle cx="551.59" cy="58.44" r="0.9" fill="#ff0000"/>
<circle cx="551.65" cy="56.60" r="0.9" fill="#ff0000"/>
<circle cx="552.13" cy="54.55" r="0.9" fill="#ff0000"/>
<circle cx="552.64" cy="54.69" r="0.9" fill="#ff0000"/>
<circle cx="553.05" cy="57.73" r="0.9" fill="#ff0000"/>
<circle cx="553.36" cy="56.96" r="0.9" fill="#ff0000"/>
<circle cx="553.67" cy="55.98" r="0.9" fill="#ff0000"/>
<circle cx="554.35" cy="56.67" r="0.9" fill="#ff0000"/>
<circle cx="554.48" cy="56.30" r="0.9" fill="#ff0000"/>
<circle cx="555.25" cy="55.69" r="0.9" fill="#ff0000"/>
<circle cx="555.49" cy="56.27" r="0.9" fill="#ff0000"/>
<circle cx="556.03" cy="55.98" r="0.9" fill="#ff0000"/>
<circle cx="556.50" cy="57.59" r="0.9" fill="#ff0000"/>
<circle cx="556.85" cy="54.70" r="0.9" fill="#ff0000"/>
<circle cx="557.11" cy="57.20" r="0.9" fill="#ff0000"/>
<circle cx="557.44" cy="58.35" r="0.9" fill="#ff0000"/>
<circle cx="558.04" cy="60.98" r="0.9" fill="#ff0000"/>
<circle cx="558.17" cy="55.50" r="0.9" fill="#ff0000"/>
<circle cx="558.83" cy="61.44" r="0.9" fill="#ff0000"/>
<circle cx="559.05" cy="60.25" r="0.9" fill="#ff0000"/>
<circle cx="559.67" cy="58.04" r="0.9" fill="#ff0000"/>
<circle cx="559.91" cy="56.27" r="0.9" fill="#ff0000"/>
<circle cx="560.65" cy="61.55" r="0.9" fill="#ff0000"/>
<circle cx="560.96" cy="61.31" r="0.9" fill="#ff0000"/>
<circle cx="561.06" cy="57.66" r="0.9" fill="#ff0000"/>
<circle cx="561.81" cy="58.66" r="0.9" fill="#ff0000"/>
<circle cx="562.15" cy="60.00" r="0.9" fill="#ff0000"/>
<circle cx="562.38" cy="57.06" r="0.9" fill="#ff0000"/>
<circle cx="562.73" cy="58.86" r="0.9" fill="#ff0000"/>
<circle cx="563.19" cy="57.91" r="0.9" fill="#ff0000"/>
<circle cx="563.60" cy="64.75" r="0.9" fill="#ff0000"/>
<circle cx="564.26" cy="59.60" r="0.9" fill="#ff0000"/>
<circle cx="564.55" cy="63.01" r="0.9" fill="#ff0000"/>
<circle cx="565.08" cy="60.84" r="0.9" fill="#ff0000"/>
<circle cx="565.41" cy="62.89" r="0.9" fill="#ff0000"/>
<circle cx="566.00" cy="58.48" r="0.9" fill="#ff0000"/>
<circle cx="566.24" cy="59.20" r="0.9" fill="#ff0000"/>
<circle cx="566.39" cy="60.26" r="0.9" fill="#ff0000"/>
<circle cx="567.16" cy="62.89" r="0.9" fill="#ff0000"/>
<circle cx="567.51" cy="61.55" r="0.9" fill="#ff0000"/>
<circle cx="567.93" cy="63.01" r="0.9" fill="#ff0000"/>
<circle cx="568.43" cy="60.93" r="0.9" fill="#ff0000"/>
<circle cx="568.64" cy="59.72" r="0.9" fill="#ff0000"/>
<circle cx="568.99" cy="56.07" r="0.9" fill="#ff0000"/>
<circle cx="569.48" cy="56.20" r="0.9" fill="#ff0000"/>
<circle cx="569.95" cy="55.47" r="0.9" fill="#ff0000"/>
<circle cx="570.31" cy="60.02" r="0.9" fill="#ff0000"/>
<circle cx="570.52" cy="57.54" r="0.9" fill="#ff0000"/>
<circle cx="571.02" cy="59.20" r="0.9" fill="#ff0000"/>
<circle cx="571.47" cy="56.57" r="0.9" fill="#ff0000"/>
<circle cx="572.10" cy="57.44" r="0.9" fill="#ff0000"/>
<circle cx="572.37" cy="56.71" r="0.9" fill="#ff0000"/>
<circle cx="572.60" cy="59.54" r="0.9" fill="#ff0000"/>
<circle cx="573.00" cy="56.49" r="0.9" fill="#ff0000"/>
<circle cx="573.83" cy="57.70" r="0.9" fill="#ff0000"/>
<circle cx="573.80" cy="62.63" r="0.9" fill="#ff0000"/>
<circle cx="574.36" cy="61.33" r="0.9" fill="#ff0000"/>
<circle cx="574.95" cy="63.85" r="0.9" fill="#ff0000"/>
<circle cx="575.21" cy="57.82" r="0.9" fill="#ff0000"/>
<circle cx="575.87" cy="58.34" r="0.9" fill="#ff0000"/>
<circle cx="575.86" cy="59.05" r="0.9" fill="#ff0000"/>
<circle cx="576.42" cy="61.86" r="0.9" fill="#ff0000"/>
<circle cx="577.03" cy="59.59" r="0.9" fill="#ff0000"/>
<circle cx="577.42" cy="63.92" r="0.9" fill="#ff0000"/>
<circle cx="577.82" cy="56.31" r="0.9" fill="#ff0000"/>
<circle cx="578.16" cy="64.33" r="0.9" fill="#ff0000"/>
<circle cx="578.71" cy="59.53" r="0.9" fill="#ff0000"/>
<circle cx="578.75" cy="59.30" r="0.9" fill="#ff0000"/>
<circle cx="579.42" cy="58.06" r="0.9" fill="#ff0000"/>
<circle cx="579.80" cy="60.55" r="0.9" fill="#ff0000"/>
<circle cx="580.25" cy="65.14" r="0.9" fill="#ff0000"/>
<circle cx="580.77" cy="76.04" r="0.9" fill="#ff0000"/>
<circle cx="581.21" cy="63.55" r="0.9" fill="#ff0000"/>
<circle cx="581.48" cy="57.81" r="0.9" fill="#ff0000"/>
<circle cx="581.72" cy="58.86" r="0.9" fill="#ff0000"/>
<circle cx="582.22" cy="60.46" r="0.9" fill="#ff0000"/>
<circle cx="582.69" cy="58.00" r="0.9" fill="#ff0000"/>
<circle cx="583.03" cy="61.08" r="0.9" fill="#ff0000"/>
<circle cx="583.72" cy="62.23" r="0.9" fill="#ff0000"/>
<circle cx="583.89" cy="59.03" r="0.9" fill="#ff0000"/>
<circle cx="584.13" cy="58.22" r="0.9" fill="#ff0000"/>
<circle cx="584.70" cy="60.56" r="0.9" fill="#ff0000"/>
<circle cx="585.28" cy="57.11" r="0.9" fill="#ff0000"/>
<circle cx="585.45" cy="60.83" r="0.9" fill="#ff0000"/>
<circle cx="585.86" cy="60.20" r="0.9" fill="#ff0000"/>
<circle cx="586.23" cy="57.57" r="0.9" fill="#ff0000"/>
<circle cx="586.64" cy="60.34" r="0.9" fill="#ff0000"/>
<circle cx="587.28" cy="61.88" r="0.9" fill="#ff0000"/>
<circle cx="587.74" cy="57.55" r="0.9" fill="#ff0000"/>
<circle cx="588.07" cy="58.57" r="0.9" fill="#ff0000"/>
<circle cx="588.40" cy="60.22" r="0.9" fill="#ff0000"/>
<circle cx="588.68" cy="58.92" r="0.9" fill="#ff0000"/>
<circle cx="589.41" cy="59.04" r="0.9" fill="#ff0000"/>
<circle cx="589.60" cy="59.91" r="0.9" fill="#ff0000"/>
<circle cx="590.19" cy="59.12" r="0.9" fill="#ff0000"/>
<circle cx="590.27" cy="58.91" r="0.9" fill="#ff0000"/>
<circle cx="591.11" cy="57.81" r="0.9" fill="#ff0000"/>
<circle cx="591.24" cy="58.97" r="0.9" fill="#ff0000"/>
<circle cx="591.86" cy="55.23" r="0.9" fill="#ff0000"/>
<circle cx="592.05" cy="53.91" r="0.9" fill="#ff0000"/>
<circle cx="592.48" cy="55.42" r="0.9" fill="#ff0000"/>
<circle cx="592.89" cy="55.16" r="0.9" fill="#ff0000"/>
<circle cx="593.32" cy="55.47" r="0.9" fill="#ff0000"/>
<circle cx="593.57" cy="55.08" r="0.9" fill="#ff0000"/>
<circle cx="594.08" cy="55.22" r="0.9" fill="#ff0000"/>
<circle cx="594.78" cy="55.49" r="0.9" fill="#ff0000"/>
<circle cx="595.16" cy="56.55" r="0.9" fill="#ff0000"/>
<circle cx="595.60" cy="57.75" r="0.9" fill="#ff0000"/>
<circle cx="595.84" cy="55.64" r="0.9" fill="#ff0000"/>
<circle cx="596.18" cy="55.20" r="0.9" fill="#ff0000"/>
<circle cx="596.60" cy="56.46" r="0.9" fill="#ff0000"/>
<circle cx="596.85" cy="55.61" r="0.9" fill="#ff0000"/>
<circle cx="597.70" cy="56.99" r="0.9" fill="#ff0000"/>
<circle cx="597.79" cy="56.45" r="0.9" fill="#ff0000"/>
<circle cx="598.24" cy="56.89" r="0.9" fill="#ff0000"/>
<circle cx="598.67" cy="57.37" r="0.9" fill="#ff0000"/>
<circle cx="599.06" cy="58.88" r="0.9" fill="#ff0000"/>
<circle cx="599.39" cy="58.42" r="0.9" fill="#ff0000"/>
<circle cx="599.84" cy="57.27" r="0.9" fill="#ff0000"/>
<circle cx="600.19" cy="57.27" r="0.9" fill="#ff0000"/>
<circle cx="600.78" cy="57.26" r="0.9" fill="#ff0000"/>
<circle cx="601.35" cy="56.78" r="0.9" fill="#ff0000"/>
<circle cx="601.55" cy="57.35" r="0.9" fill="#ff0000"/>
<circle cx="602.10" cy="57.60" r="0.9" fill="#ff0000"/>
<circle cx="602.21" cy="57.53" r="0.9" fill="#ff0000"/>
<circle cx="602.78" cy="58.54" r="0.9" fill="#ff0000"/>
<circle cx="603.20" cy="59.28" r="0.9" fill="#ff0000"/>
<circle cx="603.66" cy="58.35" r="0.9" fill="#ff0000"/>
<circle cx="604.06" cy="57.26" r="0.9" fill="#ff0000"/>
<circle cx="604.48" cy="58.09" r="0.9" fill="#ff0000"/>
<circle cx="604.92" cy="57.99" r="0.9" fill="#ff0000"/>
<circle cx="605.41" cy="59.37" r="0.9" fill="#ff0000"/>
<circle cx="605.73" cy="58.62" r="0.9" fill="#ff0000"/>
<circle cx="606.08" cy="59.59" r="0.9" fill="#ff0000"/>
<circle cx="606.43" cy="59.12" r="0.9" fill="#ff0000"/>
<circle cx="606.89" cy="60.41" r="0.9" fill="#ff0000"/>
<circle cx="607.23" cy="58.63" r="0.9" fill="#ff0000"/>
<circle cx="607.55" cy="58.88" r="0.9" fill="#ff0000"/>
<circle cx="608.31" cy="59.88" r="0.9" fill="#ff0000"/>
<circle cx="608.49" cy="59.54" r="0.9" fill="#ff0000"/>
<circle cx="608.95" cy="59.32" r="0.9" fill="#ff0000"/>
<circle cx="609.24" cy="60.60" r="0.9" fill="#ff0000"/>
<circle cx="609.87" cy="58.78" r="0.9" fill="#ff0000"/>
<circle cx="610.23" cy="60.20" r="0.9" fill="#ff0000"/>
<circle cx="610.89" cy="60.24" r="0.9" fill="#ff0000"/>
<circle cx="611.30" cy="60.82" r="0.9" fill="#ff0000"/>
<circle cx="611.34" cy="62.16" r="0.9" fill="#ff0000"/>
<circle cx="612.06" cy="59.09" r="0.9" fill="#ff0000"/>
<circle cx="612.23" cy="60.31" r="0.9" fill="#ff0000"/>
<circle cx="612.52" cy="62.78" r="0.9" fill="#ff0000"/>
<circle cx="612.90" cy="61.52" r="0.9" fill="#ff0000"/>
<circle cx="613.63" cy="60.52" r="0.9" fill="#ff0000"/>
<circle cx="614.04" cy="59.99" r="0.9" fill="#ff0000"/>
<circle cx="614.32" cy="62.00" r="0.9" fill="#ff0000"/>
<circle cx="614.95" cy="61.92" r="0.9" fill="#ff0000"/>
<circle cx="615.16" cy="61.95" r="0.9" fill="#ff0000"/>
<circle cx="615.48" cy="62.57" r="0.9" fill="#ff0000"/>
<circle cx="616.05" cy="63.24" r="0.9" fill="#ff0000"/>
<circle cx="616.35" cy="62.60" r="0.9" fill="#ff0000"/>
<circle cx="616.91" cy="62.36" r="0.9" fill="#ff0000"/>
<circle cx="617.48" cy="63.41" r="0.9" fill="#ff0000"/>
<circle cx="617.49" cy="61.57" r="0.9" fill="#ff0000"/>
<circle cx="618.21" cy="62.50" r="0.9" fill="#ff0000"/>
<circle cx="618.25" cy="64.59" r="0.9" fill="#ff0000"/>
<circle cx="618.92" cy="62.80" r="0.9" fill="#ff0000"/>
<circle cx="619.17" cy="62.59" r="0.9" fill="#ff0000"/>
<circle cx="619.73" cy="62.74" r="0.9" fill="#ff0000"/>
<circle cx="620.24" cy="62.82" r="0.9" fill="#ff0000"/>
<circle cx="620.70" cy="64.39" r="0.9" fill="#ff0000"/>
<circle cx="621.02" cy="62.87" r="0.9" fill="#ff0000"/>
<circle cx="621.25" cy="62.56" r="0.9" fill="#ff0000"/>
<circle cx="621.57" cy="64.49" r="0.9" fill="#ff0000"/>
<circle cx="622.06" cy="62.87" r="0.9" fill="#ff0000"/>
<circle cx="622.53" cy="66.04" r="0.9" fill="#ff0000"/>
<circle cx="623.13" cy="64.30" r="0.9" fill="#ff0000"/>
<circle cx="623.32" cy="64.24" r="0.9" fill="#ff0000"/>
<circle cx="623.90" cy="63.98" r="0.9" fill="#ff0000"/>
<circle cx="624.45" cy="60.01" r="0.9" fill="#ff0000"/>
<circle cx="624.45" cy="67.13" r="0.9" fill="#ff0000"/>
<circle cx="625.17" cy="61.41" r="0.9" fill="#ff0000"/>
<circle cx="625.69" cy="61.43" r="0.9" fill="#ff0000"/>
<circle cx="625.87" cy="63.77" r="0.9" fill="#ff0000"/>
<circle cx="626.43" cy="61.55" r="0.9" fill="#ff0000"/>
<circle cx="626.75" cy="60.97" r="0.9" fill="#ff0000"/>
<circle cx="627.04" cy="69.10" r="0.9" fill="#ff0000"/>
<circle cx="627.48" cy="65.32" r="0.9" fill="#ff0000"/>
<circle cx="627.82" cy="63.58" r="0.9" fill="#ff0000"/>
<circle cx="628.28" cy="64.28" r="0.9" fill="#ff0000"/>
<circle cx="628.79" cy="60.21" r="0.9" fill="#ff0000"/>
<circle cx="629.39" cy="61.93" r="0.9" fill="#ff0000"/>
<circle cx="629.48" cy="64.34" r="0.9" fill="#ff0000"/>
<circle cx="630.18" cy="60.34" r="0.9" fill="#ff0000"/>
<circle cx="630.61" cy="65.43" r="0.9" fill="#ff0000"/>
<circle cx="630.77" cy="60.21" r="0.9" fill="#ff0000"/>
<circle cx="631.45" cy="62.17" r="0.9" fill="#ff0000"/>
<circle cx="631.83" cy="63.53" r="0.9" fill="#ff0000"/>
<circle cx="632.20" cy="64.38" r="0.9" fill="#ff0000"/>
<circle cx="632.57" cy="63.01" r="0.9" fill="#ff0000"/>
<circle cx="632.79" cy="62.67" r="0.9" fill="#ff0000"/>
<circle cx="633.07" cy="67.01" r="0.9" fill="#ff0000"/>
<circle cx="633.92" cy="64.18" r="0.9" fill="#ff0000"/>
<circle cx="634.13" cy="64.41" r="0.9" fill="#ff0000"/>
<circle cx="634.49" cy="67.72" r="0.9" fill="#ff0000"/>
<circle cx="635.03" cy="64.42" r="0.9" fill="#ff0000"/>
<circle cx="635.28" cy="67.13" r="0.9" fill="#ff0000"/>
<circle cx="635.67" cy="56.11" r="0.9" fill="#ff0000"/>
<circle cx="636.04" cy="56.88" r="0.9" fill="#ff0000"/>
<circle cx="636.73" cy="56.75" r="0.9" fill="#ff0000"/>
<circle cx="637.15" cy="57.44" r="0.9" fill="#ff0000"/>
<circle cx="637.63" cy="56.28" r="0.9" fill="#ff0000"/>
<circle cx="637.91" cy="56.94" r="0.9" fill="#ff0000"/>
<circle cx="638.03" cy="56.17" r="0.9" fill="#ff0000"/>
<circle cx="638.68" cy="58.74" r="0.9" fill="#ff0000"/>
<circle cx="639.26" cy="57.24" r="0.9" fill="#ff0000"/>
<circle cx="639.52" cy="58.93" r="0.9" fill="#ff0000"/>
<circle cx="639.67" cy="58.55" r="0.9" fill="#ff0000"/>
<circle cx="640.37" cy="59.07" r="0.9" fill="#ff0000"/>
<circle cx="640.69" cy="59.31" r="0.9" fill="#ff0000"/>
<circle cx="641.04" cy="59.63" r="0.9" fill="#ff0000"/>
<circle cx="641.43" cy="61.56" r="0.9" fill="#ff0000"/>
<circle cx="642.03" cy="58.55" r="0.9" fill="#ff0000"/>
<circle cx="642.24" cy="60.06" r="0.9" fill="#ff0000"/>
<circle cx="642.66" cy="61.95" r="0.9" fill="#ff0000"/>
<circle cx="643.18" cy="58.00" r="0.9" fill="#ff0000"/>
<circle cx="643.51" cy="60.62" r="0.9" fill="#ff0000"/>
<circle cx="644.10" cy="61.23" r="0.9" fill="#ff0000"/>
<circle cx="644.42" cy="59.97" r="0.9" fill="#ff0000"/>
<circle cx="644.64" cy="60.92" r="0.9" fill="#ff0000"/>
<circle cx="645.06" cy="61.53" r="0.9" fill="#ff0000"/>
<circle cx="645.71" cy="63.01" r="0.9" fill="#ff0000"/>
<circle cx="646.19" cy="59.73" r="0.9" fill="#ff0000"/>
<circle cx="646.39" cy="62.79" r="0.9" fill="#ff0000"/>
<circle cx="646.78" cy="61.38" r="0.9" fill="#ff0000"/>
<circle cx="647.15" cy="61.36" r="0.9" fill="#ff0000"/>
<circle cx="647.77" cy="63.73" r="0.9" fill="#ff0000"/>
<circle cx="648.24" cy="62.20" r="0.9" fill="#ff0000"/>
<circle cx="648.38" cy="62.49" r="0.9" fill="#ff0000"/>
<circle cx="649.06" cy="61.96" r="0.9" fill="#ff0000"/>
<circle cx="649.14" cy="63.78" r="0.9" fill="#ff0000"/>
<circle cx="649.71" cy="63.41" r="0.9" fill="#ff0000"/>
<circle cx="649.94" cy="62.42" r="0.9" fill="#ff0000"/>
<circle cx="650.50" cy="62.92" r="0.9" fill="#ff0000"/>
<circle cx="651.18" cy="62.27" r="0.9" fill="#ff0000"/>
<circle cx="651.47" cy="62.50" r="0.9" fill="#ff0000"/>
<circle cx="652.01" cy="62.67" r="0.9" fill="#ff0000"/>
<circle cx="652.30" cy="63.79" r="0.9" fill="#ff0000"/>
<circle cx="652.74" cy="63.03" r="0.9" fill="#ff0000"/>
<circle cx="652.91" cy="63.59" r="0.9" fill="#ff0000"/>
<circle cx="653.59" cy="64.06" r="0.9" fill="#ff0000"/>
<circle cx="654.01" cy="62.86" r="0.9" fill="#ff0000"/>
<circle cx="654.35" cy="62.97" r="0.9" fill="#ff0000"/>
<circle cx="654.71" cy="63.74" r="0.9" fill="#ff0000"/>
<circle cx="655.20" cy="62.15" r="0.9" fill="#ff0000"/>
<circle cx="655.36" cy="63.04" r="0.9" fill="#ff0000"/>
<circle cx="656.05" cy="63.70" r="0.9" fill="#ff0000"/>
<circle cx="656.44" cy="62.26" r="0.9" fill="#ff0000"/>
<circle cx="656.81" cy="64.07" r="0.9" fill="#ff0000"/>
<circle cx="657.14" cy="62.99" r="0.9" fill="#ff0000"/>
<circle cx="657.76" cy="62.26" r="0.9" fill="#ff0000"/>
<circle cx="658.01" cy="64.46" r="0.9" fill="#ff0000"/>
<circle cx="658.22" cy="63.58" r="0.9" fill="#ff0000"/>
<circle cx="658.72" cy="63.16" r="0.9" fill="#ff0000"/>
<circle cx="659.27" cy="58.37" r="0.9" fill="#ff0000"/>
<circle cx="659.70" cy="60.91" r="0.9" fill="#ff0000"/>
<circle cx="660.07" cy="60.15" r="0.9" fill="#ff0000"/>
<circle cx="660.36" cy="59.62" r="0.9" fill="#ff0000"/>
<circle cx="660.90" cy="59.97" r="0.9" fill="#ff0000"/>
<circle cx="661.29" cy="60.97" r="0.9" fill="#ff0000"/>
<circle cx="661.64" cy="59.62" r="0.9" fill="#ff0000"/>
<circle cx="661.95" cy="61.34" r="0.9" fill="#ff0000"/>
<circle cx="662.58" cy="59.55" r="0.9" fill="#ff0000"/>
<circle cx="662.96" cy="60.27" r="0.9" fill="#ff0000"/>
<circle cx="663.48" cy="59.60" r="0.9" fill="#ff0000"/>
<circle cx="663.91" cy="59.59" r="0.9" fill="#ff0000"/>
<circle cx="664.05" cy="61.51" r="0.9" fill="#ff0000"/>
<circle cx="664.37" cy="62.60" r="0.9" fill="#ff0000"/>
<circle cx="664.93" cy="61.72" r="0.9" fill="#ff0000"/>
<circle cx="665.63" cy="60.11" r="0.9" fill="#ff0000"/>
<circle cx="665.94" cy="62.16" r="0.9" fill="#ff0000"/>
<circle cx="666.21" cy="61.07" r="0.9" fill="#ff0000"/>
<circle cx="666.48" cy="60.76" r="0.9" fill="#ff0000"/>
<circle cx="667.24" cy="62.25" r="0.9" fill="#ff0000"/>
<circle cx="667.30" cy="61.17" r="0.9" fill="#ff0000"/>
<circle cx="667.92" cy="60.73" r="0.9" fill="#ff0000"/>
<circle cx="668.11" cy="65.28" r="0.9" fill="#ff0000"/>
<circle cx="668.81" cy="60.24" r="0.9" fill="#ff0000"/>
<circle cx="669.33" cy="60.82" r="0.9" fill="#ff0000"/>
<circle cx="669.75" cy="64.87" r="0.9" fill="#ff0000"/>
<circle cx="669.72" cy="62.24" r="0.9" fill="#ff0000"/>
<circle cx="670.23" cy="65.75" r="0.9" fill="#ff0000"/>
<circle cx="670.52" cy="60.77" r="0.9" fill="#ff0000"/>
<circle cx="671.15" cy="61.54" r="0.9" fill="#ff0000"/>
<circle cx="671.56" cy="61.26" r="0.9" fill="#ff0000"/>
<circle cx="671.95" cy="61.10" r="0.9" fill="#ff0000"/>
<circle cx="672.38" cy="61.37" r="0.9" fill="#ff0000"/>
<circle cx="672.68" cy="61.48" r="0.9" fill="#ff0000"/>
<circle cx="673.04" cy="62.48" r="0.9" fill="#ff0000"/>
<circle cx="673.53" cy="65.09" r="0.9" fill="#ff0000"/>
<circle cx="674.05" cy="63.65" r="0.9" fill="#ff0000"/>
<circle cx="674.46" cy="61.29" r="0.9" fill="#ff0000"/>
<circle cx="674.65" cy="64.62" r="0.9" fill="#ff0000"/>
<circle cx="675.25" cy="64.86" r="0.9" fill="#ff0000"/>
<circle cx="675.52" cy="62.61" r="0.9" fill="#ff0000"/>
<circle cx="676.31" cy="62.27" r="0.9" fill="#ff0000"/>
<circle cx="676.65" cy="65.74" r="0.9" fill="#ff0000"/>
<circle cx="548.43" cy="61.27" r="0.95" fill="#ff0000"/>
<circle cx="548.33" cy="67.68" r="0.95" fill="#ff0000"/>
<circle cx="548.69" cy="76.46" r="0.95" fill="#ff0000"/>
<circle cx="548.28" cy="83.21" r="0.95" fill="#ff0000"/>
<circle cx="548.53" cy="84.22" r="0.95" fill="#ff0000"/>
<circle cx="548.20" cy="90.63" r="0.95" fill="#ff0000"/>
<circle cx="552.37" cy="67.17" r="0.95" fill="#ff0000"/>
<circle cx="555.91" cy="66.33" r="0.95" fill="#ff0000"/>
<circle cx="555.72" cy="74.26" r="0.95" fill="#ff0000"/>
<circle cx="555.55" cy="83.04" r="0.95" fill="#ff0000"/>
<circle cx="555.78" cy="89.62" r="0.95" fill="#ff0000"/>
<circle cx="564.27" cy="66.50" r="0.95" fill="#ff0000"/>
<circle cx="564.20" cy="69.88" r="0.95" fill="#ff0000"/>
<circle cx="563.76" cy="73.25" r="0.95" fill="#ff0000"/>
<circle cx="564.03" cy="83.88" r="0.95" fill="#ff0000"/>
<circle cx="564.99" cy="68.19" r="0.95" fill="#ff0000"/>
<circle cx="565.23" cy="71.56" r="0.95" fill="#ff0000"/>
<circle cx="565.47" cy="77.47" r="0.95" fill="#ff0000"/>
<circle cx="567.48" cy="64.81" r="0.95" fill="#ff0000"/>
<circle cx="567.12" cy="68.19" r="0.95" fill="#ff0000"/>
<circle cx="574.94" cy="66.50" r="0.95" fill="#ff0000"/>
<circle cx="574.80" cy="69.88" r="0.95" fill="#ff0000"/>
<circle cx="574.71" cy="78.31" r="0.95" fill="#ff0000"/>
<circle cx="576.82" cy="68.19" r="0.95" fill="#ff0000"/>
<circle cx="576.82" cy="73.59" r="0.95" fill="#ff0000"/>
<circle cx="576.58" cy="82.19" r="0.95" fill="#ff0000"/>
<circle cx="579.57" cy="69.88" r="0.95" fill="#ff0000"/>
<circle cx="579.73" cy="78.82" r="0.95" fill="#ff0000"/>
<circle cx="579.75" cy="87.76" r="0.95" fill="#ff0000"/>
<circle cx="579.59" cy="88.94" r="0.95" fill="#ff0000"/>
<circle cx="579.39" cy="96.71" r="0.95" fill="#ff0000"/>
<circle cx="590.84" cy="63.29" r="0.95" fill="#ff0000"/>
<circle cx="590.88" cy="65.83" r="0.95" fill="#ff0000"/>
<circle cx="591.27" cy="69.03" r="0.95" fill="#ff0000"/>
<circle cx="591.08" cy="78.31" r="0.95" fill="#ff0000"/>
<circle cx="591.16" cy="83.88" r="0.95" fill="#ff0000"/>
<circle cx="591.00" cy="95.53" r="0.95" fill="#ff0000"/>
<circle cx="591.00" cy="97.38" r="0.95" fill="#ff0000"/>
<circle cx="623.23" cy="66.50" r="0.95" fill="#ff0000"/>
<circle cx="623.70" cy="69.03" r="0.95" fill="#ff0000"/>
<circle cx="623.48" cy="71.56" r="0.95" fill="#ff0000"/>
<circle cx="623.20" cy="78.31" r="0.95" fill="#ff0000"/>
<circle cx="623.54" cy="88.44" r="0.95" fill="#ff0000"/>
<circle cx="623.48" cy="96.88" r="0.95" fill="#ff0000"/>
<circle cx="623.48" cy="97.55" r="0.95" fill="#ff0000"/>
<circle cx="632.98" cy="64.81" r="0.95" fill="#ff0000"/>
<circle cx="632.89" cy="68.19" r="0.95" fill="#ff0000"/>
<circle cx="633.05" cy="71.56" r="0.95" fill="#ff0000"/>
<circle cx="633.10" cy="74.94" r="0.95" fill="#ff0000"/>
<circle cx="634.83" cy="71.56" r="0.95" fill="#ff0000"/>
<circle cx="634.97" cy="77.81" r="0.95" fill="#ff0000"/>
<circle cx="634.81" cy="80.00" r="0.95" fill="#ff0000"/>
<circle cx="634.83" cy="84.22" r="0.95" fill="#ff0000"/>
<circle cx="664.50" cy="68.19" r="0.95" fill="#ff0000"/>
<circle cx="664.66" cy="73.25" r="0.95" fill="#ff0000"/>
<circle cx="672.43" cy="68.19" r="0.95" fill="#ff0000"/>
<circle cx="672.43" cy="71.56" r="0.95" fill="#ff0000"/>
<circle cx="672.72" cy="78.31" r="0.95" fill="#ff0000"/>
<circle cx="672.69" cy="83.38" r="0.95" fill="#ff0000"/>
<circle cx="672.62" cy="91.81" r="0.95" fill="#ff0000"/>
<circle cx="672.72" cy="95.69" r="0.95" fill="#ff0000"/>
<circle cx="591.96" cy="111.89" r="0.9" fill="#000"/>
<circle cx="659.58" cy="82.19" r="0.9" fill="#000"/>
<circle cx="591.81" cy="146.15" r="1.25" fill="#ff0000"/>
<circle cx="635.77" cy="139.74" r="1.25" fill="#ff0000"/>
<circle cx="635.77" cy="146.15" r="1.25" fill="#ff0000"/>
<rect x="593.20" y="4.30" width="98.05" height="20.10" fill="#fff" stroke="#bdbdbd" stroke-width="0.9"/>
<svg x="593.20" y="4.30" width="98.05" height="20.10" overflow="hidden">
<text x="22.60" y="7.50" font-size="8.7" text-anchor="start" fill="#1a1a1a" >Powder ionomer</text>
<circle cx="10.00" cy="5.00" r="0.95" fill="#000"/>
<text x="22.60" y="18.40" font-size="8.7" text-anchor="start" fill="#1a1a1a" >Dispersion ionomer</text>
<circle cx="10.00" cy="15.80" r="0.95" fill="#ff0000"/>
</svg>
<text x="520.60" y="18.20" font-size="15.5" text-anchor="start" fill="#1a1a1a" >c.</text>
<text x="546.60" y="18.50" font-size="13.8" text-anchor="start" fill="#1a1a1a" >Fe-N-C</text>
<text x="603.20" y="174.20" font-size="11" text-anchor="middle" fill="#1a1a1a" >Time (hours)</text>
<text transform="translate(494.06,75.60) rotate(-90)" x="0" y="0" font-size="11" text-anchor="middle" fill="#1a1a1a">Cell Voltage(V)</text>
<text transform="translate(723.27,77.20) rotate(-90)" x="0" y="0" font-size="10.65" text-anchor="middle" fill="#1a1a1a">HFR (mOh*cm<tspan dy="-4" font-size="7">2</tspan><tspan dy="4">)</tspan></text>
<rect x="93.75" y="192.20" width="209.50" height="169.00" fill="none" stroke="#585858" stroke-width="1.3"/>
<line x1="90.75" y1="361.20" x2="93.75" y2="361.20" stroke="#585858" stroke-width="1.2"/>
<text x="87.75" y="364.94" font-size="10.4" text-anchor="end" fill="#1a1a1a" >0.0</text>
<line x1="90.75" y1="342.42" x2="93.75" y2="342.42" stroke="#585858" stroke-width="1.2"/>
<text x="87.75" y="346.16" font-size="10.4" text-anchor="end" fill="#1a1a1a" >0.1</text>
<line x1="90.75" y1="323.64" x2="93.75" y2="323.64" stroke="#585858" stroke-width="1.2"/>
<text x="87.75" y="327.38" font-size="10.4" text-anchor="end" fill="#1a1a1a" >0.2</text>
<line x1="90.75" y1="304.86" x2="93.75" y2="304.86" stroke="#585858" stroke-width="1.2"/>
<text x="87.75" y="308.60" font-size="10.4" text-anchor="end" fill="#1a1a1a" >0.3</text>
<line x1="90.75" y1="286.08" x2="93.75" y2="286.08" stroke="#585858" stroke-width="1.2"/>
<text x="87.75" y="289.82" font-size="10.4" text-anchor="end" fill="#1a1a1a" >0.4</text>
<line x1="90.75" y1="267.30" x2="93.75" y2="267.30" stroke="#585858" stroke-width="1.2"/>
<text x="87.75" y="271.04" font-size="10.4" text-anchor="end" fill="#1a1a1a" >0.5</text>
<line x1="90.75" y1="248.52" x2="93.75" y2="248.52" stroke="#585858" stroke-width="1.2"/>
<text x="87.75" y="252.26" font-size="10.4" text-anchor="end" fill="#1a1a1a" >0.6</text>
<line x1="90.75" y1="229.74" x2="93.75" y2="229.74" stroke="#585858" stroke-width="1.2"/>
<text x="87.75" y="233.48" font-size="10.4" text-anchor="end" fill="#1a1a1a" >0.7</text>
<line x1="90.75" y1="210.96" x2="93.75" y2="210.96" stroke="#585858" stroke-width="1.2"/>
<text x="87.75" y="214.70" font-size="10.4" text-anchor="end" fill="#1a1a1a" >0.8</text>
<line x1="90.75" y1="192.18" x2="93.75" y2="192.18" stroke="#585858" stroke-width="1.2"/>
<text x="87.75" y="195.92" font-size="10.4" text-anchor="end" fill="#1a1a1a" >0.9</text>
<line x1="303.25" y1="361.20" x2="306.25" y2="361.20" stroke="#585858" stroke-width="1.2"/>
<text x="307.25" y="364.94" font-size="10.4" text-anchor="start" fill="#1a1a1a" >0</text>
<line x1="303.25" y1="327.40" x2="306.25" y2="327.40" stroke="#585858" stroke-width="1.2"/>
<text x="307.25" y="331.14" font-size="10.4" text-anchor="start" fill="#1a1a1a" >100</text>
<line x1="303.25" y1="293.60" x2="306.25" y2="293.60" stroke="#585858" stroke-width="1.2"/>
<text x="307.25" y="297.34" font-size="10.4" text-anchor="start" fill="#1a1a1a" >200</text>
<line x1="303.25" y1="259.80" x2="306.25" y2="259.80" stroke="#585858" stroke-width="1.2"/>
<text x="307.25" y="263.54" font-size="10.4" text-anchor="start" fill="#1a1a1a" >300</text>
<line x1="303.25" y1="226.00" x2="306.25" y2="226.00" stroke="#585858" stroke-width="1.2"/>
<text x="307.25" y="229.74" font-size="10.4" text-anchor="start" fill="#1a1a1a" >400</text>
<line x1="303.25" y1="192.20" x2="306.25" y2="192.20" stroke="#585858" stroke-width="1.2"/>
<text x="307.25" y="195.94" font-size="10.4" text-anchor="start" fill="#1a1a1a" >500</text>
<line x1="111.25" y1="361.20" x2="111.25" y2="364.20" stroke="#585858" stroke-width="1.2"/>
<text x="111.25" y="374.60" font-size="10.4" text-anchor="middle" fill="#1a1a1a" >0</text>
<line x1="146.25" y1="361.20" x2="146.25" y2="364.20" stroke="#585858" stroke-width="1.2"/>
<text x="146.25" y="374.60" font-size="10.4" text-anchor="middle" fill="#1a1a1a" >10</text>
<line x1="181.25" y1="361.20" x2="181.25" y2="364.20" stroke="#585858" stroke-width="1.2"/>
<text x="181.25" y="374.60" font-size="10.4" text-anchor="middle" fill="#1a1a1a" >20</text>
<line x1="216.25" y1="361.20" x2="216.25" y2="364.20" stroke="#585858" stroke-width="1.2"/>
<text x="216.25" y="374.60" font-size="10.4" text-anchor="middle" fill="#1a1a1a" >30</text>
<line x1="251.25" y1="361.20" x2="251.25" y2="364.20" stroke="#585858" stroke-width="1.2"/>
<text x="251.25" y="374.60" font-size="10.4" text-anchor="middle" fill="#1a1a1a" >40</text>
<line x1="286.25" y1="361.20" x2="286.25" y2="364.20" stroke="#585858" stroke-width="1.2"/>
<text x="286.25" y="374.60" font-size="10.4" text-anchor="middle" fill="#1a1a1a" >50</text>
<polyline points="111.25,342.95 111.52,342.89 111.88,342.82 112.31,342.74 112.78,342.64 113.28,342.54 113.79,342.44 114.29,342.35 114.75,342.27 115.14,342.20 115.46,342.14 115.75,342.08 116.06,342.02 116.42,341.96 116.88,341.90 117.48,341.84 118.25,341.76 119.18,341.69 120.22,341.60 121.37,341.51 122.62,341.42 123.99,341.33 125.47,341.24 127.05,341.16 128.75,341.09 130.48,341.03 132.22,340.98 134.03,340.94 135.97,340.91 138.10,340.88 140.48,340.84 143.18,340.80 146.25,340.75 149.91,340.69 154.18,340.63 158.86,340.56 163.75,340.49 168.64,340.42 173.32,340.35 177.59,340.29 181.25,340.24 184.38,340.20 187.22,340.15 189.79,340.10 192.08,340.06 194.11,340.04 195.89,340.03 197.44,340.04 198.75,340.07 199.63,340.15 199.97,340.27 199.94,340.42 199.73,340.58 199.51,340.74 199.45,340.89 199.72,341.01 200.50,341.09 201.67,341.13 203.00,341.14 204.53,341.13 206.30,341.10 208.32,341.06 210.63,341.01 213.26,340.97 216.25,340.92 219.70,340.87 223.65,340.82 227.97,340.75 232.55,340.69 237.28,340.62 242.05,340.55 246.74,340.48 251.25,340.41 255.86,340.35 260.82,340.27 265.91,340.20 270.94,340.13 275.69,340.06 279.96,340.00 283.55,339.95 286.25,339.91" fill="none" stroke="#a8a8a8" stroke-width="2.8" stroke-linejoin="round" stroke-linecap="round" opacity="1" />
<polyline points="111.25,337.20 111.77,337.14 112.43,337.05 113.21,336.94 114.09,336.82 115.06,336.70 116.09,336.58 117.16,336.46 118.25,336.36 119.35,336.26 120.46,336.17 121.62,336.08 122.84,336.00 124.15,335.91 125.55,335.83 127.08,335.76 128.75,335.68 130.48,335.61 132.22,335.55 134.03,335.49 135.97,335.43 138.10,335.37 140.48,335.31 143.18,335.24 146.25,335.17 149.79,335.10 153.77,335.02 158.09,334.93 162.66,334.85 167.36,334.76 172.09,334.67 176.76,334.58 181.25,334.50 185.62,334.41 190.00,334.33 194.38,334.24 198.75,334.16 203.12,334.08 207.50,333.99 211.88,333.91 216.25,333.82 220.62,333.74 225.00,333.65 229.38,333.57 233.75,333.48 238.12,333.40 242.50,333.31 246.88,333.23 251.25,333.15 255.86,333.06 260.82,332.96 265.91,332.86 270.94,332.77 275.69,332.67 279.96,332.59 283.55,332.52 286.25,332.47" fill="none" stroke="#ff2020" stroke-width="3.2" stroke-linejoin="round" stroke-linecap="round" opacity="1" />
<polyline points="111.25,317.60 111.51,317.55 111.84,317.49 112.23,317.42 112.67,317.34 113.16,317.25 113.67,317.15 114.20,317.04 114.75,316.92 115.32,316.79 115.94,316.66 116.59,316.51 117.27,316.35 117.95,316.18 118.65,316.00 119.33,315.79 120.00,315.57 120.66,315.32 121.31,315.05 121.97,314.76 122.62,314.45 123.28,314.14 123.94,313.82 124.59,313.51 125.25,313.20 125.91,312.92 126.56,312.64 127.22,312.38 127.88,312.11 128.53,311.82 129.19,311.52 129.84,311.20 130.50,310.84 131.17,310.44 131.85,310.00 132.55,309.54 133.23,309.06 133.91,308.57 134.56,308.08 135.18,307.59 135.75,307.12 136.27,306.66 136.75,306.21 137.19,305.77 137.61,305.32 138.01,304.87 138.42,304.40 138.82,303.92 139.25,303.40 139.70,302.85 140.16,302.27 140.62,301.67 141.09,301.06 141.54,300.44 141.97,299.83 142.38,299.24 142.75,298.67 143.08,298.14 143.37,297.63 143.64,297.14 143.89,296.66 144.12,296.18 144.36,295.68 144.60,295.16 144.85,294.61 145.12,294.03 145.39,293.41 145.67,292.77 145.94,292.12 146.21,291.47 146.47,290.81 146.72,290.17 146.95,289.54 147.16,288.95 147.35,288.37 147.53,287.80 147.69,287.24 147.86,286.67 148.02,286.08 148.18,285.47 148.35,284.81 148.53,284.07 148.73,283.24 148.94,282.36 149.14,281.47 149.33,280.62 149.50,279.85 149.64,279.21 149.75,278.73" fill="none" stroke="#9090ff" stroke-width="2.6" stroke-linejoin="round" stroke-linecap="round" opacity="1" />
<polyline points="111.25,225.61 113.95,225.70 117.54,225.81 121.81,225.95 126.56,226.10 131.59,226.26 136.68,226.43 141.64,226.59 146.25,226.74 150.62,226.88 155.00,227.02 159.38,227.16 163.75,227.30 168.12,227.44 172.50,227.58 176.88,227.72 181.25,227.86 185.62,228.00 190.00,228.14 194.38,228.28 198.75,228.43 203.12,228.57 207.50,228.71 211.88,228.85 216.25,228.99 220.62,229.13 225.00,229.27 229.38,229.41 233.75,229.55 238.12,229.69 242.50,229.83 246.88,229.97 251.25,230.12 255.86,230.26 260.82,230.42 265.91,230.59 270.94,230.75 275.69,230.90 279.96,231.04 283.55,231.16 286.25,231.24" fill="none" stroke="#404040" stroke-width="2.2" stroke-linejoin="round" stroke-linecap="round" opacity="1" />
<polyline points="111.25,253.97 125.95,254.44 146.80,255.11 171.75,255.91 198.75,256.78 225.75,257.65 250.70,258.46 271.55,259.13 286.25,259.60" fill="none" stroke="#ff0000" stroke-width="3" stroke-linejoin="round" stroke-linecap="round" opacity="1" />
<polyline points="111.25,274.06 111.54,274.06 111.93,274.04 112.39,274.02 112.90,274.00 113.45,274.00 114.01,274.04 114.57,274.12 115.10,274.25 115.62,274.44 116.16,274.69 116.71,274.97 117.27,275.29 117.83,275.63 118.40,275.99 118.96,276.34 119.51,276.69 120.06,277.03 120.61,277.37 121.15,277.71 121.70,278.06 122.24,278.43 122.79,278.82 123.34,279.24 123.89,279.69 124.43,280.18 124.99,280.69 125.54,281.23 126.09,281.80 126.64,282.38 127.19,282.97 127.74,283.58 128.30,284.20 128.85,284.84 129.40,285.51 129.95,286.19 130.50,286.89 131.05,287.59 131.60,288.29 132.15,288.98 132.70,289.65 133.26,290.31 133.83,290.98 134.40,291.65 134.96,292.31 135.52,292.96 136.07,293.58 136.60,294.17 137.12,294.72 137.61,295.22 138.10,295.69 138.58,296.13 139.05,296.54 139.49,296.93 139.92,297.32 140.32,297.71 140.69,298.10 141.01,298.49 141.31,298.86 141.57,299.22 141.81,299.58 142.04,299.94 142.27,300.31 142.50,300.70 142.75,301.10" fill="none" stroke="#0000e0" stroke-width="3.2" stroke-linejoin="round" stroke-linecap="round" opacity="1" />
<polygon points="142.06,298.53 143.46,301.05 140.66,301.05" fill="#0000e0"/>
<polygon points="143.18,299.92 144.58,302.44 141.78,302.44" fill="#0000e0"/>
<polygon points="143.02,301.81 144.42,304.33 141.62,304.33" fill="#0000e0"/>
<polygon points="145.59,303.48 146.99,306.00 144.19,306.00" fill="#0000e0"/>
<polygon points="145.54,302.60 146.94,305.12 144.14,305.12" fill="#0000e0"/>
<polygon points="145.30,303.55 146.70,306.07 143.90,306.07" fill="#0000e0"/>
<polygon points="144.52,303.52 145.92,306.04 143.12,306.04" fill="#0000e0"/>
<polygon points="144.98,306.47 146.38,308.99 143.58,308.99" fill="#0000e0"/>
<polygon points="146.76,306.56 148.16,309.08 145.36,309.08" fill="#0000e0"/>
<polygon points="147.03,305.78 148.43,308.30 145.63,308.30" fill="#0000e0"/>
<polygon points="145.93,307.31 147.33,309.83 144.53,309.83" fill="#0000e0"/>
<polygon points="147.38,308.72 148.78,311.24 145.98,311.24" fill="#0000e0"/>
<polygon points="147.94,307.13 149.34,309.65 146.54,309.65" fill="#0000e0"/>
<polygon points="147.58,309.78 148.98,312.30 146.18,312.30" fill="#0000e0"/>
<polygon points="147.49,309.06 148.89,311.58 146.09,311.58" fill="#0000e0"/>
<polygon points="147.76,309.95 149.16,312.47 146.36,312.47" fill="#0000e0"/>
<polygon points="149.13,312.53 150.53,315.05 147.73,315.05" fill="#0000e0"/>
<polygon points="148.47,312.19 149.87,314.71 147.07,314.71" fill="#0000e0"/>
<polygon points="149.59,314.07 150.99,316.59 148.19,316.59" fill="#0000e0"/>
<polygon points="150.04,318.31 151.44,320.83 148.64,320.83" fill="#0000e0"/>
<polygon points="149.42,319.53 150.82,322.05 148.02,322.05" fill="#0000e0"/>
<polygon points="150.01,321.92 151.41,324.44 148.61,324.44" fill="#0000e0"/>
<circle cx="186.15" cy="321.39" r="1" fill="#ff0000"/>
<circle cx="266.30" cy="288.90" r="1" fill="#ff0000"/>
<rect x="243.30" y="192.20" width="59.95" height="37.10" fill="#fff" stroke="#bdbdbd" stroke-width="0.9"/>
<svg x="243.30" y="192.20" width="59.95" height="37.10" overflow="hidden">
<text x="26.10" y="9.40" font-size="10.2" text-anchor="start" fill="#1a1a1a" >Pt/C</text>
<circle cx="11.10" cy="6.40" r="1.20" fill="#333"/>
<text x="26.10" y="22.20" font-size="10.2" text-anchor="start" fill="#1a1a1a" >Fe-N-C</text>
<circle cx="11.10" cy="18.90" r="1.20" fill="#ff0000"/>
<text x="26.10" y="34.80" font-size="10.2" text-anchor="start" fill="#1a1a1a" >Ag/C</text>
<polygon points="11.10,30.20 12.40,32.60 9.80,32.60" fill="#0000ff"/>
</svg>
<text x="100.60" y="208.80" font-size="15.5" text-anchor="start" fill="#1a1a1a" >d.</text>
<text x="198.90" y="392.80" font-size="12.5" text-anchor="middle" fill="#1a1a1a" >Time (hours)</text>
<text transform="translate(70.88,276.90) rotate(-90)" x="0" y="0" font-size="13" text-anchor="middle" fill="#1a1a1a">Cell Voltage(V)</text>
<text transform="translate(340.54,277.30) rotate(-90)" x="0" y="0" font-size="12.85" text-anchor="middle" fill="#1a1a1a">HFR (mOh*cm<tspan dy="-5" font-size="8.6">2</tspan><tspan dy="5">)</tspan></text>
<rect x="411.25" y="189.30" width="210.00" height="168.70" fill="none" stroke="#585858" stroke-width="1.3"/>
<line x1="408.25" y1="358.00" x2="411.25" y2="358.00" stroke="#585858" stroke-width="1.2"/>
<text x="405.25" y="361.74" font-size="10.4" text-anchor="end" fill="#1a1a1a" >0.0</text>
<line x1="408.25" y1="338.12" x2="411.25" y2="338.12" stroke="#585858" stroke-width="1.2"/>
<text x="405.25" y="341.87" font-size="10.4" text-anchor="end" fill="#1a1a1a" >0.1</text>
<line x1="408.25" y1="318.25" x2="411.25" y2="318.25" stroke="#585858" stroke-width="1.2"/>
<text x="405.25" y="321.99" font-size="10.4" text-anchor="end" fill="#1a1a1a" >0.2</text>
<line x1="408.25" y1="298.38" x2="411.25" y2="298.38" stroke="#585858" stroke-width="1.2"/>
<text x="405.25" y="302.12" font-size="10.4" text-anchor="end" fill="#1a1a1a" >0.3</text>
<line x1="408.25" y1="278.50" x2="411.25" y2="278.50" stroke="#585858" stroke-width="1.2"/>
<text x="405.25" y="282.24" font-size="10.4" text-anchor="end" fill="#1a1a1a" >0.4</text>
<line x1="408.25" y1="258.62" x2="411.25" y2="258.62" stroke="#585858" stroke-width="1.2"/>
<text x="405.25" y="262.37" font-size="10.4" text-anchor="end" fill="#1a1a1a" >0.5</text>
<line x1="408.25" y1="238.75" x2="411.25" y2="238.75" stroke="#585858" stroke-width="1.2"/>
<text x="405.25" y="242.49" font-size="10.4" text-anchor="end" fill="#1a1a1a" >0.6</text>
<line x1="408.25" y1="218.88" x2="411.25" y2="218.88" stroke="#585858" stroke-width="1.2"/>
<text x="405.25" y="222.62" font-size="10.4" text-anchor="end" fill="#1a1a1a" >0.7</text>
<line x1="408.25" y1="199.00" x2="411.25" y2="199.00" stroke="#585858" stroke-width="1.2"/>
<text x="405.25" y="202.74" font-size="10.4" text-anchor="end" fill="#1a1a1a" >0.8</text>
<line x1="621.25" y1="358.00" x2="624.25" y2="358.00" stroke="#585858" stroke-width="1.2"/>
<text x="625.25" y="361.74" font-size="10.4" text-anchor="start" fill="#1a1a1a" >0</text>
<line x1="621.25" y1="324.26" x2="624.25" y2="324.26" stroke="#585858" stroke-width="1.2"/>
<text x="625.25" y="328.00" font-size="10.4" text-anchor="start" fill="#1a1a1a" >100</text>
<line x1="621.25" y1="290.52" x2="624.25" y2="290.52" stroke="#585858" stroke-width="1.2"/>
<text x="625.25" y="294.26" font-size="10.4" text-anchor="start" fill="#1a1a1a" >200</text>
<line x1="621.25" y1="256.78" x2="624.25" y2="256.78" stroke="#585858" stroke-width="1.2"/>
<text x="625.25" y="260.52" font-size="10.4" text-anchor="start" fill="#1a1a1a" >300</text>
<line x1="621.25" y1="223.04" x2="624.25" y2="223.04" stroke="#585858" stroke-width="1.2"/>
<text x="625.25" y="226.78" font-size="10.4" text-anchor="start" fill="#1a1a1a" >400</text>
<line x1="621.25" y1="189.30" x2="624.25" y2="189.30" stroke="#585858" stroke-width="1.2"/>
<text x="625.25" y="193.04" font-size="10.4" text-anchor="start" fill="#1a1a1a" >500</text>
<line x1="428.00" y1="358.00" x2="428.00" y2="361.00" stroke="#585858" stroke-width="1.2"/>
<text x="428.00" y="371.80" font-size="10.4" text-anchor="middle" fill="#1a1a1a" >0</text>
<line x1="463.10" y1="358.00" x2="463.10" y2="361.00" stroke="#585858" stroke-width="1.2"/>
<text x="463.10" y="371.80" font-size="10.4" text-anchor="middle" fill="#1a1a1a" >10</text>
<line x1="498.20" y1="358.00" x2="498.20" y2="361.00" stroke="#585858" stroke-width="1.2"/>
<text x="498.20" y="371.80" font-size="10.4" text-anchor="middle" fill="#1a1a1a" >20</text>
<line x1="533.30" y1="358.00" x2="533.30" y2="361.00" stroke="#585858" stroke-width="1.2"/>
<text x="533.30" y="371.80" font-size="10.4" text-anchor="middle" fill="#1a1a1a" >30</text>
<line x1="568.40" y1="358.00" x2="568.40" y2="361.00" stroke="#585858" stroke-width="1.2"/>
<text x="568.40" y="371.80" font-size="10.4" text-anchor="middle" fill="#1a1a1a" >40</text>
<line x1="603.50" y1="358.00" x2="603.50" y2="361.00" stroke="#585858" stroke-width="1.2"/>
<text x="603.50" y="371.80" font-size="10.4" text-anchor="middle" fill="#1a1a1a" >50</text>
<polyline points="428.00,330.88 428.77,330.75 429.54,329.54 430.32,331.22 431.09,329.81 431.86,330.98 432.63,328.83 433.41,329.26 434.18,328.45 434.95,329.47 435.72,328.81 436.49,329.11 437.27,329.28 438.04,328.63 438.81,329.38 439.58,328.76 440.36,328.05 441.13,328.36 441.90,328.57 442.67,326.92 443.44,328.14 444.22,328.46 444.99,327.93 445.76,328.27 446.53,328.11 447.31,328.02 448.08,326.50 448.85,327.64 449.62,327.49 450.39,327.13 451.17,326.26 451.94,327.56 452.71,327.75 453.48,325.81 454.25,328.15 455.03,327.43 455.80,326.74 456.57,325.71 457.34,327.61 458.12,328.46 458.89,326.52 459.66,327.19 460.43,327.05 461.20,326.48 461.98,326.57 462.75,326.47 463.52,326.86 464.29,325.78 465.07,325.61 465.84,326.47 466.61,326.73 467.38,325.97 468.15,326.09 468.93,326.97 469.70,326.58 470.47,325.63 471.24,326.29 472.02,326.39 472.79,326.03 473.56,326.14 474.33,326.08 475.10,327.22 475.88,324.95 476.65,325.85 477.42,326.47 478.19,325.30 478.97,325.67 479.74,325.81 480.51,325.15 481.28,324.39 482.05,325.40 482.83,324.75 483.60,324.38 484.37,326.29 485.14,325.97 485.92,325.16 486.69,326.64 487.46,325.74 488.23,324.77 489.00,324.90 489.78,325.16 490.55,326.64 491.32,324.04 492.09,325.11 492.86,324.96 493.64,325.10 494.41,326.42 495.18,326.23 495.95,326.08 496.73,324.15 497.50,325.80 498.27,325.42 499.04,325.42 499.81,324.92 500.59,324.96 501.36,325.09 502.13,326.02 502.90,327.16 503.68,325.14 504.45,325.08 505.22,324.49 505.99,325.30 506.76,325.60 507.54,324.98 508.31,326.17 509.08,325.85 509.85,325.83 510.63,325.04 511.40,323.94 512.17,324.74 512.94,324.51 513.71,325.05 514.49,325.02 515.26,325.46 516.03,325.36 516.80,326.66 517.58,325.91 518.35,325.96 519.12,324.66 519.89,324.77 520.66,324.47 521.44,324.22 522.21,325.34 522.98,324.51 523.75,323.96 524.52,325.15 525.30,324.48 526.07,325.24 526.84,326.11 527.61,325.06 528.39,325.63 529.16,325.06 529.93,325.40 530.70,324.92 531.47,326.41 532.25,323.84 533.02,324.28 533.79,325.31 534.56,325.64 535.34,325.07 536.11,324.65 536.88,324.79 537.65,324.80 538.42,326.23 539.20,325.71 539.97,324.19 540.74,324.85 541.51,325.91 542.29,325.50 543.06,325.84 543.83,325.57 544.60,324.22 545.37,325.06 546.15,324.23 546.92,324.79 547.69,325.82 548.46,325.28 549.24,323.46 550.01,325.33 550.78,325.50 551.55,324.08 552.32,324.77 553.10,324.82 553.87,323.90 554.64,325.88 555.41,324.53 556.19,325.43 556.96,325.63 557.73,325.25 558.50,324.03 559.27,324.82 560.05,325.85 560.82,325.39 561.59,323.75 562.36,324.05 563.13,325.35 563.91,323.16 564.68,324.88 565.45,325.38 566.22,324.71 567.00,324.04 567.77,323.61 568.54,323.96 569.31,324.85 570.08,324.91 570.86,325.45 571.63,324.58 572.40,324.89 573.17,324.35 573.95,325.28 574.72,324.80 575.49,325.01 576.26,325.19 577.03,325.17 577.81,325.05 578.58,325.14 579.35,324.03 580.12,324.31 580.90,325.18 581.67,324.02 582.44,324.15 583.21,323.41 583.98,324.42 584.76,324.41 585.53,324.70 586.30,324.18 587.07,323.93 587.85,324.12 588.62,324.37 589.39,323.84 590.16,324.12 590.93,324.01 591.71,324.73 592.48,324.01 593.25,324.74 594.02,324.63 594.80,323.99 595.57,322.77 596.34,323.44 597.11,324.04 597.88,324.14 598.66,323.40 599.43,323.14 600.20,323.23 600.97,324.09 601.74,323.84 602.52,324.15 603.29,324.10" fill="none" stroke="#ff2020" stroke-width="0.8" stroke-linejoin="round" stroke-linecap="round" opacity="1" />
<circle cx="428.00" cy="330.88" r="1.35" fill="none" stroke="#ff2a2a" stroke-width="0.7"/>
<circle cx="428.77" cy="330.75" r="1.35" fill="none" stroke="#ff2a2a" stroke-width="0.7"/>
<circle cx="429.54" cy="329.54" r="1.35" fill="none" stroke="#ff2a2a" stroke-width="0.7"/>
<circle cx="430.32" cy="331.22" r="1.35" fill="none" stroke="#ff2a2a" stroke-width="0.7"/>
<circle cx="431.09" cy="329.81" r="1.35" fill="none" stroke="#ff2a2a" stroke-width="0.7"/>
<circle cx="431.86" cy="330.98" r="1.35" fill="none" stroke="#ff2a2a" stroke-width="0.7"/>
<circle cx="432.63" cy="328.83" r="1.35" fill="none" stroke="#ff2a2a" stroke-width="0.7"/>
<circle cx="433.41" cy="329.26" r="1.35" fill="none" stroke="#ff2a2a" stroke-width="0.7"/>
<circle cx="434.18" cy="328.45" r="1.35" fill="none" stroke="#ff2a2a" stroke-width="0.7"/>
<circle cx="434.95" cy="329.47" r="1.35" fill="none" stroke="#ff2a2a" stroke-width="0.7"/>
<circle cx="435.72" cy="328.81" r="1.35" fill="none" stroke="#ff2a2a" stroke-width="0.7"/>
<circle cx="436.49" cy="329.11" r="1.35" fill="none" stroke="#ff2a2a" stroke-width="0.7"/>
<circle cx="437.27" cy="329.28" r="1.35" fill="none" stroke="#ff2a2a" stroke-width="0.7"/>
<circle cx="438.04" cy="328.63" r="1.35" fill="none" stroke="#ff2a2a" stroke-width="0.7"/>
<circle cx="438.81" cy="329.38" r="1.35" fill="none" stroke="#ff2a2a" stroke-width="0.7"/>
<circle cx="439.58" cy="328.76" r="1.35" fill="none" stroke="#ff2a2a" stroke-width="0.7"/>
<circle cx="440.36" cy="328.05" r="1.35" fill="none" stroke="#ff2a2a" stroke-width="0.7"/>
<circle cx="441.13" cy="328.36" r="1.35" fill="none" stroke="#ff2a2a" stroke-width="0.7"/>
<circle cx="441.90" cy="328.57" r="1.35" fill="none" stroke="#ff2a2a" stroke-width="0.7"/>
<circle cx="442.67" cy="326.92" r="1.35" fill="none" stroke="#ff2a2a" stroke-width="0.7"/>
<circle cx="443.44" cy="328.14" r="1.35" fill="none" stroke="#ff2a2a" stroke-width="0.7"/>
<circle cx="444.22" cy="328.46" r="1.35" fill="none" stroke="#ff2a2a" stroke-width="0.7"/>
<circle cx="444.99" cy="327.93" r="1.35" fill="none" stroke="#ff2a2a" stroke-width="0.7"/>
<circle cx="445.76" cy="328.27" r="1.35" fill="none" stroke="#ff2a2a" stroke-width="0.7"/>
<circle cx="446.53" cy="328.11" r="1.35" fill="none" stroke="#ff2a2a" stroke-width="0.7"/>
<circle cx="447.31" cy="328.02" r="1.35" fill="none" stroke="#ff2a2a" stroke-width="0.7"/>
<circle cx="448.08" cy="326.50" r="1.35" fill="none" stroke="#ff2a2a" stroke-width="0.7"/>
<circle cx="448.85" cy="327.64" r="1.35" fill="none" stroke="#ff2a2a" stroke-width="0.7"/>
<circle cx="449.62" cy="327.49" r="1.35" fill="none" stroke="#ff2a2a" stroke-width="0.7"/>
<circle cx="450.39" cy="327.13" r="1.35" fill="none" stroke="#ff2a2a" stroke-width="0.7"/>
<circle cx="451.17" cy="326.26" r="1.35" fill="none" stroke="#ff2a2a" stroke-width="0.7"/>
<circle cx="451.94" cy="327.56" r="1.35" fill="none" stroke="#ff2a2a" stroke-width="0.7"/>
<circle cx="452.71" cy="327.75" r="1.35" fill="none" stroke="#ff2a2a" stroke-width="0.7"/>
<circle cx="453.48" cy="325.81" r="1.35" fill="none" stroke="#ff2a2a" stroke-width="0.7"/>
<circle cx="454.25" cy="328.15" r="1.35" fill="none" stroke="#ff2a2a" stroke-width="0.7"/>
<circle cx="455.03" cy="327.43" r="1.35" fill="none" stroke="#ff2a2a" stroke-width="0.7"/>
<circle cx="455.80" cy="326.74" r="1.35" fill="none" stroke="#ff2a2a" stroke-width="0.7"/>
<circle cx="456.57" cy="325.71" r="1.35" fill="none" stroke="#ff2a2a" stroke-width="0.7"/>
<circle cx="457.34" cy="327.61" r="1.35" fill="none" stroke="#ff2a2a" stroke-width="0.7"/>
<circle cx="458.12" cy="328.46" r="1.35" fill="none" stroke="#ff2a2a" stroke-width="0.7"/>
<circle cx="458.89" cy="326.52" r="1.35" fill="none" stroke="#ff2a2a" stroke-width="0.7"/>
<circle cx="459.66" cy="327.19" r="1.35" fill="none" stroke="#ff2a2a" stroke-width="0.7"/>
<circle cx="460.43" cy="327.05" r="1.35" fill="none" stroke="#ff2a2a" stroke-width="0.7"/>
<circle cx="461.20" cy="326.48" r="1.35" fill="none" stroke="#ff2a2a" stroke-width="0.7"/>
<circle cx="461.98" cy="326.57" r="1.35" fill="none" stroke="#ff2a2a" stroke-width="0.7"/>
<circle cx="462.75" cy="326.47" r="1.35" fill="none" stroke="#ff2a2a" stroke-width="0.7"/>
<circle cx="463.52" cy="326.86" r="1.35" fill="none" stroke="#ff2a2a" stroke-width="0.7"/>
<circle cx="464.29" cy="325.78" r="1.35" fill="none" stroke="#ff2a2a" stroke-width="0.7"/>
<circle cx="465.07" cy="325.61" r="1.35" fill="none" stroke="#ff2a2a" stroke-width="0.7"/>
<circle cx="465.84" cy="326.47" r="1.35" fill="none" stroke="#ff2a2a" stroke-width="0.7"/>
<circle cx="466.61" cy="326.73" r="1.35" fill="none" stroke="#ff2a2a" stroke-width="0.7"/>
<circle cx="467.38" cy="325.97" r="1.35" fill="none" stroke="#ff2a2a" stroke-width="0.7"/>
<circle cx="468.15" cy="326.09" r="1.35" fill="none" stroke="#ff2a2a" stroke-width="0.7"/>
<circle cx="468.93" cy="326.97" r="1.35" fill="none" stroke="#ff2a2a" stroke-width="0.7"/>
<circle cx="469.70" cy="326.58" r="1.35" fill="none" stroke="#ff2a2a" stroke-width="0.7"/>
<circle cx="470.47" cy="325.63" r="1.35" fill="none" stroke="#ff2a2a" stroke-width="0.7"/>
<circle cx="471.24" cy="326.29" r="1.35" fill="none" stroke="#ff2a2a" stroke-width="0.7"/>
<circle cx="472.02" cy="326.39" r="1.35" fill="none" stroke="#ff2a2a" stroke-width="0.7"/>
<circle cx="472.79" cy="326.03" r="1.35" fill="none" stroke="#ff2a2a" stroke-width="0.7"/>
<circle cx="473.56" cy="326.14" r="1.35" fill="none" stroke="#ff2a2a" stroke-width="0.7"/>
<circle cx="474.33" cy="326.08" r="1.35" fill="none" stroke="#ff2a2a" stroke-width="0.7"/>
<circle cx="475.10" cy="327.22" r="1.35" fill="none" stroke="#ff2a2a" stroke-width="0.7"/>
<circle cx="475.88" cy="324.95" r="1.35" fill="none" stroke="#ff2a2a" stroke-width="0.7"/>
<circle cx="476.65" cy="325.85" r="1.35" fill="none" stroke="#ff2a2a" stroke-width="0.7"/>
<circle cx="477.42" cy="326.47" r="1.35" fill="none" stroke="#ff2a2a" stroke-width="0.7"/>
<circle cx="478.19" cy="325.30" r="1.35" fill="none" stroke="#ff2a2a" stroke-width="0.7"/>
<circle cx="478.97" cy="325.67" r="1.35" fill="none" stroke="#ff2a2a" stroke-width="0.7"/>
<circle cx="479.74" cy="325.81" r="1.35" fill="none" stroke="#ff2a2a" stroke-width="0.7"/>
<circle cx="480.51" cy="325.15" r="1.35" fill="none" stroke="#ff2a2a" stroke-width="0.7"/>
<circle cx="481.28" cy="324.39" r="1.35" fill="none" stroke="#ff2a2a" stroke-width="0.7"/>
<circle cx="482.05" cy="325.40" r="1.35" fill="none" stroke="#ff2a2a" stroke-width="0.7"/>
<circle cx="482.83" cy="324.75" r="1.35" fill="none" stroke="#ff2a2a" stroke-width="0.7"/>
<circle cx="483.60" cy="324.38" r="1.35" fill="none" stroke="#ff2a2a" stroke-width="0.7"/>
<circle cx="484.37" cy="326.29" r="1.35" fill="none" stroke="#ff2a2a" stroke-width="0.7"/>
<circle cx="485.14" cy="325.97" r="1.35" fill="none" stroke="#ff2a2a" stroke-width="0.7"/>
<circle cx="485.92" cy="325.16" r="1.35" fill="none" stroke="#ff2a2a" stroke-width="0.7"/>
<circle cx="486.69" cy="326.64" r="1.35" fill="none" stroke="#ff2a2a" stroke-width="0.7"/>
<circle cx="487.46" cy="325.74" r="1.35" fill="none" stroke="#ff2a2a" stroke-width="0.7"/>
<circle cx="488.23" cy="324.77" r="1.35" fill="none" stroke="#ff2a2a" stroke-width="0.7"/>
<circle cx="489.00" cy="324.90" r="1.35" fill="none" stroke="#ff2a2a" stroke-width="0.7"/>
<circle cx="489.78" cy="325.16" r="1.35" fill="none" stroke="#ff2a2a" stroke-width="0.7"/>
<circle cx="490.55" cy="326.64" r="1.35" fill="none" stroke="#ff2a2a" stroke-width="0.7"/>
<circle cx="491.32" cy="324.04" r="1.35" fill="none" stroke="#ff2a2a" stroke-width="0.7"/>
<circle cx="492.09" cy="325.11" r="1.35" fill="none" stroke="#ff2a2a" stroke-width="0.7"/>
<circle cx="492.86" cy="324.96" r="1.35" fill="none" stroke="#ff2a2a" stroke-width="0.7"/>
<circle cx="493.64" cy="325.10" r="1.35" fill="none" stroke="#ff2a2a" stroke-width="0.7"/>
<circle cx="494.41" cy="326.42" r="1.35" fill="none" stroke="#ff2a2a" stroke-width="0.7"/>
<circle cx="495.18" cy="326.23" r="1.35" fill="none" stroke="#ff2a2a" stroke-width="0.7"/>
<circle cx="495.95" cy="326.08" r="1.35" fill="none" stroke="#ff2a2a" stroke-width="0.7"/>
<circle cx="496.73" cy="324.15" r="1.35" fill="none" stroke="#ff2a2a" stroke-width="0.7"/>
<circle cx="497.50" cy="325.80" r="1.35" fill="none" stroke="#ff2a2a" stroke-width="0.7"/>
<circle cx="498.27" cy="325.42" r="1.35" fill="none" stroke="#ff2a2a" stroke-width="0.7"/>
<circle cx="499.04" cy="325.42" r="1.35" fill="none" stroke="#ff2a2a" stroke-width="0.7"/>
<circle cx="499.81" cy="324.92" r="1.35" fill="none" stroke="#ff2a2a" stroke-width="0.7"/>
<circle cx="500.59" cy="324.96" r="1.35" fill="none" stroke="#ff2a2a" stroke-width="0.7"/>
<circle cx="501.36" cy="325.09" r="1.35" fill="none" stroke="#ff2a2a" stroke-width="0.7"/>
<circle cx="502.13" cy="326.02" r="1.35" fill="none" stroke="#ff2a2a" stroke-width="0.7"/>
<circle cx="502.90" cy="327.16" r="1.35" fill="none" stroke="#ff2a2a" stroke-width="0.7"/>
<circle cx="503.68" cy="325.14" r="1.35" fill="none" stroke="#ff2a2a" stroke-width="0.7"/>
<circle cx="504.45" cy="325.08" r="1.35" fill="none" stroke="#ff2a2a" stroke-width="0.7"/>
<circle cx="505.22" cy="324.49" r="1.35" fill="none" stroke="#ff2a2a" stroke-width="0.7"/>
<circle cx="505.99" cy="325.30" r="1.35" fill="none" stroke="#ff2a2a" stroke-width="0.7"/>
<circle cx="506.76" cy="325.60" r="1.35" fill="none" stroke="#ff2a2a" stroke-width="0.7"/>
<circle cx="507.54" cy="324.98" r="1.35" fill="none" stroke="#ff2a2a" stroke-width="0.7"/>
<circle cx="508.31" cy="326.17" r="1.35" fill="none" stroke="#ff2a2a" stroke-width="0.7"/>
<circle cx="509.08" cy="325.85" r="1.35" fill="none" stroke="#ff2a2a" stroke-width="0.7"/>
<circle cx="509.85" cy="325.83" r="1.35" fill="none" stroke="#ff2a2a" stroke-width="0.7"/>
<circle cx="510.63" cy="325.04" r="1.35" fill="none" stroke="#ff2a2a" stroke-width="0.7"/>
<circle cx="511.40" cy="323.94" r="1.35" fill="none" stroke="#ff2a2a" stroke-width="0.7"/>
<circle cx="512.17" cy="324.74" r="1.35" fill="none" stroke="#ff2a2a" stroke-width="0.7"/>
<circle cx="512.94" cy="324.51" r="1.35" fill="none" stroke="#ff2a2a" stroke-width="0.7"/>
<circle cx="513.71" cy="325.05" r="1.35" fill="none" stroke="#ff2a2a" stroke-width="0.7"/>
<circle cx="514.49" cy="325.02" r="1.35" fill="none" stroke="#ff2a2a" stroke-width="0.7"/>
<circle cx="515.26" cy="325.46" r="1.35" fill="none" stroke="#ff2a2a" stroke-width="0.7"/>
<circle cx="516.03" cy="325.36" r="1.35" fill="none" stroke="#ff2a2a" stroke-width="0.7"/>
<circle cx="516.80" cy="326.66" r="1.35" fill="none" stroke="#ff2a2a" stroke-width="0.7"/>
<circle cx="517.58" cy="325.91" r="1.35" fill="none" stroke="#ff2a2a" stroke-width="0.7"/>
<circle cx="518.35" cy="325.96" r="1.35" fill="none" stroke="#ff2a2a" stroke-width="0.7"/>
<circle cx="519.12" cy="324.66" r="1.35" fill="none" stroke="#ff2a2a" stroke-width="0.7"/>
<circle cx="519.89" cy="324.77" r="1.35" fill="none" stroke="#ff2a2a" stroke-width="0.7"/>
<circle cx="520.66" cy="324.47" r="1.35" fill="none" stroke="#ff2a2a" stroke-width="0.7"/>
<circle cx="521.44" cy="324.22" r="1.35" fill="none" stroke="#ff2a2a" stroke-width="0.7"/>
<circle cx="522.21" cy="325.34" r="1.35" fill="none" stroke="#ff2a2a" stroke-width="0.7"/>
<circle cx="522.98" cy="324.51" r="1.35" fill="none" stroke="#ff2a2a" stroke-width="0.7"/>
<circle cx="523.75" cy="323.96" r="1.35" fill="none" stroke="#ff2a2a" stroke-width="0.7"/>
<circle cx="524.52" cy="325.15" r="1.35" fill="none" stroke="#ff2a2a" stroke-width="0.7"/>
<circle cx="525.30" cy="324.48" r="1.35" fill="none" stroke="#ff2a2a" stroke-width="0.7"/>
<circle cx="526.07" cy="325.24" r="1.35" fill="none" stroke="#ff2a2a" stroke-width="0.7"/>
<circle cx="526.84" cy="326.11" r="1.35" fill="none" stroke="#ff2a2a" stroke-width="0.7"/>
<circle cx="527.61" cy="325.06" r="1.35" fill="none" stroke="#ff2a2a" stroke-width="0.7"/>
<circle cx="528.39" cy="325.63" r="1.35" fill="none" stroke="#ff2a2a" stroke-width="0.7"/>
<circle cx="529.16" cy="325.06" r="1.35" fill="none" stroke="#ff2a2a" stroke-width="0.7"/>
<circle cx="529.93" cy="325.40" r="1.35" fill="none" stroke="#ff2a2a" stroke-width="0.7"/>
<circle cx="530.70" cy="324.92" r="1.35" fill="none" stroke="#ff2a2a" stroke-width="0.7"/>
<circle cx="531.47" cy="326.41" r="1.35" fill="none" stroke="#ff2a2a" stroke-width="0.7"/>
<circle cx="532.25" cy="323.84" r="1.35" fill="none" stroke="#ff2a2a" stroke-width="0.7"/>
<circle cx="533.02" cy="324.28" r="1.35" fill="none" stroke="#ff2a2a" stroke-width="0.7"/>
<circle cx="533.79" cy="325.31" r="1.35" fill="none" stroke="#ff2a2a" stroke-width="0.7"/>
<circle cx="534.56" cy="325.64" r="1.35" fill="none" stroke="#ff2a2a" stroke-width="0.7"/>
<circle cx="535.34" cy="325.07" r="1.35" fill="none" stroke="#ff2a2a" stroke-width="0.7"/>
<circle cx="536.11" cy="324.65" r="1.35" fill="none" stroke="#ff2a2a" stroke-width="0.7"/>
<circle cx="536.88" cy="324.79" r="1.35" fill="none" stroke="#ff2a2a" stroke-width="0.7"/>
<circle cx="537.65" cy="324.80" r="1.35" fill="none" stroke="#ff2a2a" stroke-width="0.7"/>
<circle cx="538.42" cy="326.23" r="1.35" fill="none" stroke="#ff2a2a" stroke-width="0.7"/>
<circle cx="539.20" cy="325.71" r="1.35" fill="none" stroke="#ff2a2a" stroke-width="0.7"/>
<circle cx="539.97" cy="324.19" r="1.35" fill="none" stroke="#ff2a2a" stroke-width="0.7"/>
<circle cx="540.74" cy="324.85" r="1.35" fill="none" stroke="#ff2a2a" stroke-width="0.7"/>
<circle cx="541.51" cy="325.91" r="1.35" fill="none" stroke="#ff2a2a" stroke-width="0.7"/>
<circle cx="542.29" cy="325.50" r="1.35" fill="none" stroke="#ff2a2a" stroke-width="0.7"/>
<circle cx="543.06" cy="325.84" r="1.35" fill="none" stroke="#ff2a2a" stroke-width="0.7"/>
<circle cx="543.83" cy="325.57" r="1.35" fill="none" stroke="#ff2a2a" stroke-width="0.7"/>
<circle cx="544.60" cy="324.22" r="1.35" fill="none" stroke="#ff2a2a" stroke-width="0.7"/>
<circle cx="545.37" cy="325.06" r="1.35" fill="none" stroke="#ff2a2a" stroke-width="0.7"/>
<circle cx="546.15" cy="324.23" r="1.35" fill="none" stroke="#ff2a2a" stroke-width="0.7"/>
<circle cx="546.92" cy="324.79" r="1.35" fill="none" stroke="#ff2a2a" stroke-width="0.7"/>
<circle cx="547.69" cy="325.82" r="1.35" fill="none" stroke="#ff2a2a" stroke-width="0.7"/>
<circle cx="548.46" cy="325.28" r="1.35" fill="none" stroke="#ff2a2a" stroke-width="0.7"/>
<circle cx="549.24" cy="323.46" r="1.35" fill="none" stroke="#ff2a2a" stroke-width="0.7"/>
<circle cx="550.01" cy="325.33" r="1.35" fill="none" stroke="#ff2a2a" stroke-width="0.7"/>
<circle cx="550.78" cy="325.50" r="1.35" fill="none" stroke="#ff2a2a" stroke-width="0.7"/>
<circle cx="551.55" cy="324.08" r="1.35" fill="none" stroke="#ff2a2a" stroke-width="0.7"/>
<circle cx="552.32" cy="324.77" r="1.35" fill="none" stroke="#ff2a2a" stroke-width="0.7"/>
<circle cx="553.10" cy="324.82" r="1.35" fill="none" stroke="#ff2a2a" stroke-width="0.7"/>
<circle cx="553.87" cy="323.90" r="1.35" fill="none" stroke="#ff2a2a" stroke-width="0.7"/>
<circle cx="554.64" cy="325.88" r="1.35" fill="none" stroke="#ff2a2a" stroke-width="0.7"/>
<circle cx="555.41" cy="324.53" r="1.35" fill="none" stroke="#ff2a2a" stroke-width="0.7"/>
<circle cx="556.19" cy="325.43" r="1.35" fill="none" stroke="#ff2a2a" stroke-width="0.7"/>
<circle cx="556.96" cy="325.63" r="1.35" fill="none" stroke="#ff2a2a" stroke-width="0.7"/>
<circle cx="557.73" cy="325.25" r="1.35" fill="none" stroke="#ff2a2a" stroke-width="0.7"/>
<circle cx="558.50" cy="324.03" r="1.35" fill="none" stroke="#ff2a2a" stroke-width="0.7"/>
<circle cx="559.27" cy="324.82" r="1.35" fill="none" stroke="#ff2a2a" stroke-width="0.7"/>
<circle cx="560.05" cy="325.85" r="1.35" fill="none" stroke="#ff2a2a" stroke-width="0.7"/>
<circle cx="560.82" cy="325.39" r="1.35" fill="none" stroke="#ff2a2a" stroke-width="0.7"/>
<circle cx="561.59" cy="323.75" r="1.35" fill="none" stroke="#ff2a2a" stroke-width="0.7"/>
<circle cx="562.36" cy="324.05" r="1.35" fill="none" stroke="#ff2a2a" stroke-width="0.7"/>
<circle cx="563.13" cy="325.35" r="1.35" fill="none" stroke="#ff2a2a" stroke-width="0.7"/>
<circle cx="563.91" cy="323.16" r="1.35" fill="none" stroke="#ff2a2a" stroke-width="0.7"/>
<circle cx="564.68" cy="324.88" r="1.35" fill="none" stroke="#ff2a2a" stroke-width="0.7"/>
<circle cx="565.45" cy="325.38" r="1.35" fill="none" stroke="#ff2a2a" stroke-width="0.7"/>
<circle cx="566.22" cy="324.71" r="1.35" fill="none" stroke="#ff2a2a" stroke-width="0.7"/>
<circle cx="567.00" cy="324.04" r="1.35" fill="none" stroke="#ff2a2a" stroke-width="0.7"/>
<circle cx="567.77" cy="323.61" r="1.35" fill="none" stroke="#ff2a2a" stroke-width="0.7"/>
<circle cx="568.54" cy="323.96" r="1.35" fill="none" stroke="#ff2a2a" stroke-width="0.7"/>
<circle cx="569.31" cy="324.85" r="1.35" fill="none" stroke="#ff2a2a" stroke-width="0.7"/>
<circle cx="570.08" cy="324.91" r="1.35" fill="none" stroke="#ff2a2a" stroke-width="0.7"/>
<circle cx="570.86" cy="325.45" r="1.35" fill="none" stroke="#ff2a2a" stroke-width="0.7"/>
<circle cx="571.63" cy="324.58" r="1.35" fill="none" stroke="#ff2a2a" stroke-width="0.7"/>
<circle cx="572.40" cy="324.89" r="1.35" fill="none" stroke="#ff2a2a" stroke-width="0.7"/>
<circle cx="573.17" cy="324.35" r="1.35" fill="none" stroke="#ff2a2a" stroke-width="0.7"/>
<circle cx="573.95" cy="325.28" r="1.35" fill="none" stroke="#ff2a2a" stroke-width="0.7"/>
<circle cx="574.72" cy="324.80" r="1.35" fill="none" stroke="#ff2a2a" stroke-width="0.7"/>
<circle cx="575.49" cy="325.01" r="1.35" fill="none" stroke="#ff2a2a" stroke-width="0.7"/>
<circle cx="576.26" cy="325.19" r="1.35" fill="none" stroke="#ff2a2a" stroke-width="0.7"/>
<circle cx="577.03" cy="325.17" r="1.35" fill="none" stroke="#ff2a2a" stroke-width="0.7"/>
<circle cx="577.81" cy="325.05" r="1.35" fill="none" stroke="#ff2a2a" stroke-width="0.7"/>
<circle cx="578.58" cy="325.14" r="1.35" fill="none" stroke="#ff2a2a" stroke-width="0.7"/>
<circle cx="579.35" cy="324.03" r="1.35" fill="none" stroke="#ff2a2a" stroke-width="0.7"/>
<circle cx="580.12" cy="324.31" r="1.35" fill="none" stroke="#ff2a2a" stroke-width="0.7"/>
<circle cx="580.90" cy="325.18" r="1.35" fill="none" stroke="#ff2a2a" stroke-width="0.7"/>
<circle cx="581.67" cy="324.02" r="1.35" fill="none" stroke="#ff2a2a" stroke-width="0.7"/>
<circle cx="582.44" cy="324.15" r="1.35" fill="none" stroke="#ff2a2a" stroke-width="0.7"/>
<circle cx="583.21" cy="323.41" r="1.35" fill="none" stroke="#ff2a2a" stroke-width="0.7"/>
<circle cx="583.98" cy="324.42" r="1.35" fill="none" stroke="#ff2a2a" stroke-width="0.7"/>
<circle cx="584.76" cy="324.41" r="1.35" fill="none" stroke="#ff2a2a" stroke-width="0.7"/>
<circle cx="585.53" cy="324.70" r="1.35" fill="none" stroke="#ff2a2a" stroke-width="0.7"/>
<circle cx="586.30" cy="324.18" r="1.35" fill="none" stroke="#ff2a2a" stroke-width="0.7"/>
<circle cx="587.07" cy="323.93" r="1.35" fill="none" stroke="#ff2a2a" stroke-width="0.7"/>
<circle cx="587.85" cy="324.12" r="1.35" fill="none" stroke="#ff2a2a" stroke-width="0.7"/>
<circle cx="588.62" cy="324.37" r="1.35" fill="none" stroke="#ff2a2a" stroke-width="0.7"/>
<circle cx="589.39" cy="323.84" r="1.35" fill="none" stroke="#ff2a2a" stroke-width="0.7"/>
<circle cx="590.16" cy="324.12" r="1.35" fill="none" stroke="#ff2a2a" stroke-width="0.7"/>
<circle cx="590.93" cy="324.01" r="1.35" fill="none" stroke="#ff2a2a" stroke-width="0.7"/>
<circle cx="591.71" cy="324.73" r="1.35" fill="none" stroke="#ff2a2a" stroke-width="0.7"/>
<circle cx="592.48" cy="324.01" r="1.35" fill="none" stroke="#ff2a2a" stroke-width="0.7"/>
<circle cx="593.25" cy="324.74" r="1.35" fill="none" stroke="#ff2a2a" stroke-width="0.7"/>
<circle cx="594.02" cy="324.63" r="1.35" fill="none" stroke="#ff2a2a" stroke-width="0.7"/>
<circle cx="594.80" cy="323.99" r="1.35" fill="none" stroke="#ff2a2a" stroke-width="0.7"/>
<circle cx="595.57" cy="322.77" r="1.35" fill="none" stroke="#ff2a2a" stroke-width="0.7"/>
<circle cx="596.34" cy="323.44" r="1.35" fill="none" stroke="#ff2a2a" stroke-width="0.7"/>
<circle cx="597.11" cy="324.04" r="1.35" fill="none" stroke="#ff2a2a" stroke-width="0.7"/>
<circle cx="597.88" cy="324.14" r="1.35" fill="none" stroke="#ff2a2a" stroke-width="0.7"/>
<circle cx="598.66" cy="323.40" r="1.35" fill="none" stroke="#ff2a2a" stroke-width="0.7"/>
<circle cx="599.43" cy="323.14" r="1.35" fill="none" stroke="#ff2a2a" stroke-width="0.7"/>
<circle cx="600.20" cy="323.23" r="1.35" fill="none" stroke="#ff2a2a" stroke-width="0.7"/>
<circle cx="600.97" cy="324.09" r="1.35" fill="none" stroke="#ff2a2a" stroke-width="0.7"/>
<circle cx="601.74" cy="323.84" r="1.35" fill="none" stroke="#ff2a2a" stroke-width="0.7"/>
<circle cx="602.52" cy="324.15" r="1.35" fill="none" stroke="#ff2a2a" stroke-width="0.7"/>
<circle cx="603.29" cy="324.10" r="1.35" fill="none" stroke="#ff2a2a" stroke-width="0.7"/>
<line x1="428.00" y1="269.26" x2="428.00" y2="298.28" stroke="#6a6aff" stroke-width="2" stroke-dasharray="1.4 0.6"/>
<polygon points="428.00,256.23 429.20,258.63 426.80,258.63" fill="#333"/>
<line x1="428.00" y1="318.85" x2="428.00" y2="346.27" stroke="#0000ff" stroke-width="2.2"/>
<polyline points="428.00,319.54 428.13,319.40 428.28,319.20 428.47,318.97 428.68,318.71 428.92,318.46 429.18,318.22 429.46,318.01 429.75,317.85 430.07,317.73 430.39,317.63 430.73,317.55 431.09,317.49 431.49,317.46 431.92,317.45 432.39,317.46 432.91,317.51 433.49,317.60 434.11,317.71 434.78,317.86 435.48,318.04 436.21,318.23 436.97,318.44 437.74,318.65 438.53,318.86 439.34,319.09 440.19,319.34 441.06,319.61 441.95,319.88 442.86,320.16 443.76,320.42 444.66,320.67 445.55,320.89 446.43,321.08 447.31,321.26 448.18,321.42 449.06,321.57 449.94,321.71 450.81,321.84 451.69,321.96 452.57,322.07 453.45,322.17 454.32,322.26 455.20,322.34 456.08,322.40 456.96,322.46 457.83,322.51 458.71,322.55 459.59,322.57 460.48,322.59 461.39,322.59 462.30,322.59 463.21,322.57 464.11,322.55 464.98,322.51 465.82,322.46 466.61,322.40 467.36,322.34 468.08,322.27 468.77,322.19 469.44,322.10 470.08,321.99 470.70,321.87 471.30,321.73 471.88,321.56 472.43,321.37 472.96,321.15 473.46,320.90 473.94,320.64 474.40,320.37 474.85,320.09 475.30,319.81 475.74,319.54 476.15,319.28 476.54,319.04 476.91,318.81 477.27,318.57 477.64,318.30 478.02,317.99 478.44,317.62 478.89,317.17 479.41,316.64 479.96,316.03 480.55,315.36 481.15,314.64 481.76,313.91 482.36,313.17 482.93,312.46 483.46,311.78 483.95,311.13 484.41,310.51 484.85,309.90 485.28,309.29 485.70,308.67 486.12,308.04 486.54,307.39 486.97,306.72 487.41,306.00 487.85,305.27 488.30,304.51 488.74,303.74 489.19,302.96" fill="none" stroke="#404040" stroke-width="2.6" stroke-linejoin="round" stroke-linecap="round" opacity="1" />
<polyline points="488.74,303.74 489.19,302.96 489.63,302.18 490.06,301.41 490.48,300.64 490.90,299.88 491.32,299.10 491.73,298.32 492.15,297.54 492.54,296.77 492.93,296.02 493.29,295.28 493.64,294.57 493.95,293.90 494.24,293.29 494.50,292.70 494.76,292.12 495.00,291.53 495.24,290.92 495.49,290.25 495.74,289.51 496.01,288.70 496.28,287.86 496.55,286.97 496.82,286.05 497.08,285.10 497.35,284.11 497.60,283.11 497.85,282.09 498.10,280.96 498.35,279.71 498.61,278.39 498.86,277.07 499.09,275.80 499.30,274.65 499.47,273.69 499.60,272.98" fill="none" stroke="#909090" stroke-width="2" stroke-linejoin="round" stroke-linecap="round" opacity="1" />
<circle cx="428.24" cy="244.97" r="1.15" fill="#ff0000"/>
<circle cx="428.05" cy="244.99" r="1.15" fill="#ff0000"/>
<circle cx="428.56" cy="244.48" r="1.15" fill="#ff0000"/>
<circle cx="428.38" cy="244.91" r="1.15" fill="#ff0000"/>
<circle cx="429.09" cy="245.22" r="1.15" fill="#ff0000"/>
<circle cx="429.24" cy="245.92" r="1.15" fill="#ff0000"/>
<circle cx="429.28" cy="245.86" r="1.15" fill="#ff0000"/>
<circle cx="429.23" cy="245.58" r="1.15" fill="#ff0000"/>
<circle cx="429.70" cy="245.04" r="1.15" fill="#ff0000"/>
<circle cx="430.16" cy="245.61" r="1.15" fill="#ff0000"/>
<circle cx="430.46" cy="246.12" r="1.15" fill="#ff0000"/>
<circle cx="430.33" cy="246.01" r="1.15" fill="#ff0000"/>
<circle cx="431.14" cy="247.17" r="1.15" fill="#ff0000"/>
<circle cx="430.80" cy="245.96" r="1.15" fill="#ff0000"/>
<circle cx="431.59" cy="245.58" r="1.15" fill="#ff0000"/>
<circle cx="431.38" cy="246.01" r="1.15" fill="#ff0000"/>
<circle cx="431.65" cy="246.98" r="1.15" fill="#ff0000"/>
<circle cx="431.91" cy="245.28" r="1.15" fill="#ff0000"/>
<circle cx="432.18" cy="246.56" r="1.15" fill="#ff0000"/>
<circle cx="432.29" cy="247.11" r="1.15" fill="#ff0000"/>
<circle cx="433.17" cy="246.38" r="1.15" fill="#ff0000"/>
<circle cx="432.77" cy="246.39" r="1.15" fill="#ff0000"/>
<circle cx="433.57" cy="246.41" r="1.15" fill="#ff0000"/>
<circle cx="433.38" cy="246.17" r="1.15" fill="#ff0000"/>
<circle cx="433.69" cy="246.21" r="1.15" fill="#ff0000"/>
<circle cx="433.85" cy="246.83" r="1.15" fill="#ff0000"/>
<circle cx="434.65" cy="246.47" r="1.15" fill="#ff0000"/>
<circle cx="434.60" cy="247.14" r="1.15" fill="#ff0000"/>
<circle cx="435.08" cy="246.59" r="1.15" fill="#ff0000"/>
<circle cx="435.15" cy="247.14" r="1.15" fill="#ff0000"/>
<circle cx="435.52" cy="246.81" r="1.15" fill="#ff0000"/>
<circle cx="435.13" cy="246.92" r="1.15" fill="#ff0000"/>
<circle cx="435.72" cy="247.46" r="1.15" fill="#ff0000"/>
<circle cx="435.84" cy="247.80" r="1.15" fill="#ff0000"/>
<circle cx="436.40" cy="248.02" r="1.15" fill="#ff0000"/>
<circle cx="436.16" cy="247.75" r="1.15" fill="#ff0000"/>
<circle cx="436.70" cy="248.69" r="1.15" fill="#ff0000"/>
<circle cx="437.09" cy="247.21" r="1.15" fill="#ff0000"/>
<circle cx="437.55" cy="247.17" r="1.15" fill="#ff0000"/>
<circle cx="437.11" cy="248.35" r="1.15" fill="#ff0000"/>
<circle cx="437.68" cy="248.84" r="1.15" fill="#ff0000"/>
<circle cx="438.01" cy="248.25" r="1.15" fill="#ff0000"/>
<circle cx="438.14" cy="248.55" r="1.15" fill="#ff0000"/>
<circle cx="438.17" cy="248.20" r="1.15" fill="#ff0000"/>
<circle cx="438.87" cy="249.38" r="1.15" fill="#ff0000"/>
<circle cx="438.64" cy="247.53" r="1.15" fill="#ff0000"/>
<circle cx="439.27" cy="248.72" r="1.15" fill="#ff0000"/>
<circle cx="439.23" cy="248.56" r="1.15" fill="#ff0000"/>
<circle cx="439.72" cy="248.87" r="1.15" fill="#ff0000"/>
<circle cx="439.88" cy="250.32" r="1.15" fill="#ff0000"/>
<circle cx="440.08" cy="249.44" r="1.15" fill="#ff0000"/>
<circle cx="440.52" cy="248.79" r="1.15" fill="#ff0000"/>
<circle cx="440.51" cy="250.24" r="1.15" fill="#ff0000"/>
<circle cx="440.91" cy="249.60" r="1.15" fill="#ff0000"/>
<circle cx="441.03" cy="248.48" r="1.15" fill="#ff0000"/>
<circle cx="441.49" cy="250.02" r="1.15" fill="#ff0000"/>
<circle cx="441.92" cy="249.91" r="1.15" fill="#ff0000"/>
<circle cx="441.86" cy="249.82" r="1.15" fill="#ff0000"/>
<circle cx="442.20" cy="250.69" r="1.15" fill="#ff0000"/>
<circle cx="442.29" cy="250.43" r="1.15" fill="#ff0000"/>
<circle cx="442.79" cy="250.20" r="1.15" fill="#ff0000"/>
<circle cx="442.82" cy="249.84" r="1.15" fill="#ff0000"/>
<circle cx="443.36" cy="250.81" r="1.15" fill="#ff0000"/>
<circle cx="443.28" cy="249.96" r="1.15" fill="#ff0000"/>
<circle cx="443.49" cy="250.54" r="1.15" fill="#ff0000"/>
<circle cx="443.78" cy="250.03" r="1.15" fill="#ff0000"/>
<circle cx="444.33" cy="250.43" r="1.15" fill="#ff0000"/>
<circle cx="444.45" cy="250.78" r="1.15" fill="#ff0000"/>
<circle cx="444.60" cy="250.22" r="1.15" fill="#ff0000"/>
<circle cx="444.52" cy="250.66" r="1.15" fill="#ff0000"/>
<circle cx="445.17" cy="251.38" r="1.15" fill="#ff0000"/>
<circle cx="445.29" cy="251.02" r="1.15" fill="#ff0000"/>
<circle cx="445.86" cy="250.39" r="1.15" fill="#ff0000"/>
<circle cx="445.63" cy="251.92" r="1.15" fill="#ff0000"/>
<circle cx="445.98" cy="251.35" r="1.15" fill="#ff0000"/>
<circle cx="446.38" cy="251.73" r="1.15" fill="#ff0000"/>
<circle cx="446.55" cy="252.21" r="1.15" fill="#ff0000"/>
<circle cx="446.55" cy="250.86" r="1.15" fill="#ff0000"/>
<circle cx="447.24" cy="250.75" r="1.15" fill="#ff0000"/>
<circle cx="447.36" cy="251.45" r="1.15" fill="#ff0000"/>
<circle cx="447.42" cy="251.53" r="1.15" fill="#ff0000"/>
<circle cx="447.40" cy="251.77" r="1.15" fill="#ff0000"/>
<circle cx="448.04" cy="251.51" r="1.15" fill="#ff0000"/>
<circle cx="447.94" cy="250.95" r="1.15" fill="#ff0000"/>
<circle cx="448.82" cy="250.84" r="1.15" fill="#ff0000"/>
<circle cx="448.38" cy="250.56" r="1.15" fill="#ff0000"/>
<circle cx="449.20" cy="251.23" r="1.15" fill="#ff0000"/>
<circle cx="449.39" cy="251.65" r="1.15" fill="#ff0000"/>
<circle cx="449.61" cy="250.02" r="1.15" fill="#ff0000"/>
<circle cx="449.61" cy="249.62" r="1.15" fill="#ff0000"/>
<circle cx="449.99" cy="249.50" r="1.15" fill="#ff0000"/>
<circle cx="450.12" cy="249.94" r="1.15" fill="#ff0000"/>
<circle cx="450.05" cy="252.52" r="1.15" fill="#ff0000"/>
<circle cx="450.37" cy="250.93" r="1.15" fill="#ff0000"/>
<circle cx="450.40" cy="252.05" r="1.15" fill="#ff0000"/>
<circle cx="450.83" cy="251.04" r="1.15" fill="#ff0000"/>
<circle cx="451.31" cy="249.78" r="1.15" fill="#ff0000"/>
<circle cx="451.08" cy="251.46" r="1.15" fill="#ff0000"/>
<circle cx="451.22" cy="249.52" r="1.15" fill="#ff0000"/>
<circle cx="451.71" cy="250.62" r="1.15" fill="#ff0000"/>
<circle cx="451.86" cy="248.00" r="1.15" fill="#ff0000"/>
<circle cx="451.75" cy="251.34" r="1.15" fill="#ff0000"/>
<circle cx="452.28" cy="249.23" r="1.15" fill="#ff0000"/>
<circle cx="452.05" cy="248.71" r="1.15" fill="#ff0000"/>
<circle cx="452.07" cy="252.62" r="1.15" fill="#ff0000"/>
<circle cx="452.33" cy="252.51" r="1.15" fill="#ff0000"/>
<circle cx="452.48" cy="249.32" r="1.15" fill="#ff0000"/>
<circle cx="452.37" cy="249.14" r="1.15" fill="#ff0000"/>
<circle cx="453.25" cy="252.46" r="1.15" fill="#ff0000"/>
<circle cx="453.06" cy="252.24" r="1.15" fill="#ff0000"/>
<circle cx="452.90" cy="249.60" r="1.15" fill="#ff0000"/>
<circle cx="453.68" cy="250.67" r="1.15" fill="#ff0000"/>
<circle cx="453.75" cy="251.14" r="1.15" fill="#ff0000"/>
<circle cx="453.49" cy="250.77" r="1.15" fill="#ff0000"/>
<circle cx="453.88" cy="252.84" r="1.15" fill="#ff0000"/>
<circle cx="454.06" cy="253.90" r="1.15" fill="#ff0000"/>
<circle cx="454.06" cy="250.35" r="1.15" fill="#ff0000"/>
<circle cx="454.27" cy="252.07" r="1.15" fill="#ff0000"/>
<circle cx="454.48" cy="251.78" r="1.15" fill="#ff0000"/>
<circle cx="454.53" cy="250.62" r="1.15" fill="#ff0000"/>
<circle cx="455.05" cy="249.44" r="1.15" fill="#ff0000"/>
<circle cx="455.26" cy="253.11" r="1.15" fill="#ff0000"/>
<circle cx="454.82" cy="248.43" r="1.15" fill="#ff0000"/>
<circle cx="455.74" cy="252.47" r="1.15" fill="#ff0000"/>
<circle cx="455.35" cy="250.94" r="1.15" fill="#ff0000"/>
<circle cx="455.31" cy="254.05" r="1.15" fill="#ff0000"/>
<circle cx="455.84" cy="249.30" r="1.15" fill="#ff0000"/>
<circle cx="455.91" cy="248.53" r="1.15" fill="#ff0000"/>
<circle cx="455.79" cy="250.33" r="1.15" fill="#ff0000"/>
<circle cx="456.51" cy="249.64" r="1.15" fill="#ff0000"/>
<circle cx="456.52" cy="248.69" r="1.15" fill="#ff0000"/>
<circle cx="456.45" cy="251.02" r="1.15" fill="#ff0000"/>
<circle cx="456.83" cy="250.69" r="1.15" fill="#ff0000"/>
<circle cx="457.01" cy="252.27" r="1.15" fill="#ff0000"/>
<circle cx="457.19" cy="251.95" r="1.15" fill="#ff0000"/>
<circle cx="457.66" cy="248.60" r="1.15" fill="#ff0000"/>
<circle cx="457.38" cy="251.36" r="1.15" fill="#ff0000"/>
<circle cx="457.76" cy="251.02" r="1.15" fill="#ff0000"/>
<circle cx="457.83" cy="250.61" r="1.15" fill="#ff0000"/>
<circle cx="457.75" cy="250.20" r="1.15" fill="#ff0000"/>
<circle cx="458.14" cy="251.27" r="1.15" fill="#ff0000"/>
<circle cx="458.57" cy="250.68" r="1.15" fill="#ff0000"/>
<circle cx="458.57" cy="251.02" r="1.15" fill="#ff0000"/>
<circle cx="458.25" cy="255.77" r="1.15" fill="#ff0000"/>
<circle cx="458.96" cy="253.63" r="1.15" fill="#ff0000"/>
<circle cx="458.72" cy="250.59" r="1.15" fill="#ff0000"/>
<circle cx="458.99" cy="249.97" r="1.15" fill="#ff0000"/>
<circle cx="459.25" cy="252.82" r="1.15" fill="#ff0000"/>
<circle cx="459.64" cy="249.87" r="1.15" fill="#ff0000"/>
<circle cx="459.22" cy="255.20" r="1.15" fill="#ff0000"/>
<circle cx="459.92" cy="254.51" r="1.15" fill="#ff0000"/>
<circle cx="459.92" cy="250.55" r="1.15" fill="#ff0000"/>
<circle cx="460.00" cy="252.32" r="1.15" fill="#ff0000"/>
<circle cx="460.63" cy="253.41" r="1.15" fill="#ff0000"/>
<circle cx="460.57" cy="250.21" r="1.15" fill="#ff0000"/>
<circle cx="460.24" cy="250.85" r="1.15" fill="#ff0000"/>
<circle cx="461.14" cy="250.31" r="1.15" fill="#ff0000"/>
<circle cx="461.13" cy="252.10" r="1.15" fill="#ff0000"/>
<circle cx="460.98" cy="252.07" r="1.15" fill="#ff0000"/>
<circle cx="461.59" cy="256.80" r="1.15" fill="#ff0000"/>
<circle cx="461.55" cy="248.70" r="1.15" fill="#ff0000"/>
<circle cx="461.36" cy="251.98" r="1.15" fill="#ff0000"/>
<circle cx="462.02" cy="254.81" r="1.15" fill="#ff0000"/>
<circle cx="461.85" cy="251.65" r="1.15" fill="#ff0000"/>
<circle cx="461.82" cy="250.45" r="1.15" fill="#ff0000"/>
<circle cx="462.32" cy="250.43" r="1.15" fill="#ff0000"/>
<circle cx="462.25" cy="253.00" r="1.15" fill="#ff0000"/>
<circle cx="462.31" cy="253.78" r="1.15" fill="#ff0000"/>
<circle cx="462.91" cy="252.60" r="1.15" fill="#ff0000"/>
<circle cx="462.97" cy="256.10" r="1.15" fill="#ff0000"/>
<circle cx="463.16" cy="252.52" r="1.15" fill="#ff0000"/>
<circle cx="463.51" cy="253.38" r="1.15" fill="#ff0000"/>
<circle cx="463.13" cy="249.65" r="1.15" fill="#ff0000"/>
<circle cx="463.16" cy="250.40" r="1.15" fill="#ff0000"/>
<circle cx="463.90" cy="248.85" r="1.15" fill="#ff0000"/>
<circle cx="463.91" cy="256.64" r="1.15" fill="#ff0000"/>
<circle cx="464.05" cy="253.76" r="1.15" fill="#ff0000"/>
<circle cx="464.51" cy="252.83" r="1.15" fill="#ff0000"/>
<circle cx="464.17" cy="255.24" r="1.15" fill="#ff0000"/>
<circle cx="464.36" cy="251.76" r="1.15" fill="#ff0000"/>
<circle cx="465.11" cy="251.27" r="1.15" fill="#ff0000"/>
<circle cx="464.91" cy="252.63" r="1.15" fill="#ff0000"/>
<circle cx="464.94" cy="251.35" r="1.15" fill="#ff0000"/>
<circle cx="465.47" cy="252.57" r="1.15" fill="#ff0000"/>
<circle cx="465.20" cy="250.55" r="1.15" fill="#ff0000"/>
<circle cx="465.49" cy="251.78" r="1.15" fill="#ff0000"/>
<circle cx="465.98" cy="253.60" r="1.15" fill="#ff0000"/>
<circle cx="466.09" cy="256.77" r="1.15" fill="#ff0000"/>
<circle cx="465.80" cy="254.59" r="1.15" fill="#ff0000"/>
<circle cx="466.19" cy="256.79" r="1.15" fill="#ff0000"/>
<circle cx="466.45" cy="256.49" r="1.15" fill="#ff0000"/>
<circle cx="466.51" cy="256.81" r="1.15" fill="#ff0000"/>
<circle cx="466.89" cy="251.92" r="1.15" fill="#ff0000"/>
<circle cx="466.57" cy="252.19" r="1.15" fill="#ff0000"/>
<circle cx="466.79" cy="252.05" r="1.15" fill="#ff0000"/>
<circle cx="467.18" cy="252.81" r="1.15" fill="#ff0000"/>
<circle cx="467.47" cy="253.37" r="1.15" fill="#ff0000"/>
<circle cx="467.57" cy="259.45" r="1.15" fill="#ff0000"/>
<circle cx="467.59" cy="251.61" r="1.15" fill="#ff0000"/>
<circle cx="467.87" cy="254.95" r="1.15" fill="#ff0000"/>
<circle cx="467.91" cy="251.70" r="1.15" fill="#ff0000"/>
<circle cx="468.37" cy="254.30" r="1.15" fill="#ff0000"/>
<circle cx="468.15" cy="251.48" r="1.15" fill="#ff0000"/>
<circle cx="468.51" cy="256.45" r="1.15" fill="#ff0000"/>
<circle cx="468.66" cy="251.83" r="1.15" fill="#ff0000"/>
<circle cx="468.56" cy="253.60" r="1.15" fill="#ff0000"/>
<circle cx="468.55" cy="252.03" r="1.15" fill="#ff0000"/>
<circle cx="469.35" cy="253.28" r="1.15" fill="#ff0000"/>
<circle cx="469.12" cy="252.48" r="1.15" fill="#ff0000"/>
<circle cx="469.47" cy="252.38" r="1.15" fill="#ff0000"/>
<circle cx="469.94" cy="254.20" r="1.15" fill="#ff0000"/>
<circle cx="469.61" cy="260.54" r="1.15" fill="#ff0000"/>
<circle cx="469.94" cy="255.75" r="1.15" fill="#ff0000"/>
<circle cx="470.54" cy="257.39" r="1.15" fill="#ff0000"/>
<circle cx="470.40" cy="254.47" r="1.15" fill="#ff0000"/>
<circle cx="470.19" cy="258.06" r="1.15" fill="#ff0000"/>
<circle cx="470.52" cy="261.98" r="1.15" fill="#ff0000"/>
<circle cx="470.74" cy="258.49" r="1.15" fill="#ff0000"/>
<circle cx="470.91" cy="254.01" r="1.15" fill="#ff0000"/>
<circle cx="471.33" cy="255.13" r="1.15" fill="#ff0000"/>
<circle cx="471.37" cy="255.94" r="1.15" fill="#ff0000"/>
<circle cx="471.04" cy="253.56" r="1.15" fill="#ff0000"/>
<circle cx="471.66" cy="257.13" r="1.15" fill="#ff0000"/>
<circle cx="471.77" cy="258.34" r="1.15" fill="#ff0000"/>
<circle cx="471.97" cy="266.18" r="1.15" fill="#ff0000"/>
<circle cx="472.12" cy="262.02" r="1.15" fill="#ff0000"/>
<circle cx="472.47" cy="253.15" r="1.15" fill="#ff0000"/>
<circle cx="472.15" cy="255.37" r="1.15" fill="#ff0000"/>
<circle cx="472.66" cy="254.71" r="1.15" fill="#ff0000"/>
<circle cx="472.75" cy="254.00" r="1.15" fill="#ff0000"/>
<circle cx="472.91" cy="254.17" r="1.15" fill="#ff0000"/>
<circle cx="473.35" cy="254.89" r="1.15" fill="#ff0000"/>
<circle cx="472.94" cy="255.25" r="1.15" fill="#ff0000"/>
<circle cx="473.25" cy="259.49" r="1.15" fill="#ff0000"/>
<circle cx="473.87" cy="260.72" r="1.15" fill="#ff0000"/>
<circle cx="473.86" cy="258.35" r="1.15" fill="#ff0000"/>
<circle cx="473.83" cy="252.97" r="1.15" fill="#ff0000"/>
<circle cx="474.27" cy="253.08" r="1.15" fill="#ff0000"/>
<circle cx="474.28" cy="256.77" r="1.15" fill="#ff0000"/>
<circle cx="474.34" cy="250.20" r="1.15" fill="#ff0000"/>
<circle cx="474.62" cy="262.35" r="1.15" fill="#ff0000"/>
<circle cx="474.78" cy="258.49" r="1.15" fill="#ff0000"/>
<circle cx="474.81" cy="259.06" r="1.15" fill="#ff0000"/>
<circle cx="475.12" cy="255.88" r="1.15" fill="#ff0000"/>
<circle cx="475.37" cy="256.04" r="1.15" fill="#ff0000"/>
<circle cx="475.39" cy="256.15" r="1.15" fill="#ff0000"/>
<circle cx="475.68" cy="260.15" r="1.15" fill="#ff0000"/>
<circle cx="475.62" cy="254.61" r="1.15" fill="#ff0000"/>
<circle cx="475.80" cy="253.54" r="1.15" fill="#ff0000"/>
<circle cx="475.97" cy="252.65" r="1.15" fill="#ff0000"/>
<circle cx="476.04" cy="250.31" r="1.15" fill="#ff0000"/>
<circle cx="476.05" cy="251.17" r="1.15" fill="#ff0000"/>
<circle cx="476.80" cy="252.26" r="1.15" fill="#ff0000"/>
<circle cx="476.63" cy="250.47" r="1.15" fill="#ff0000"/>
<circle cx="476.39" cy="255.61" r="1.15" fill="#ff0000"/>
<circle cx="476.98" cy="251.26" r="1.15" fill="#ff0000"/>
<circle cx="477.19" cy="249.61" r="1.15" fill="#ff0000"/>
<circle cx="477.02" cy="250.17" r="1.15" fill="#ff0000"/>
<circle cx="477.53" cy="251.23" r="1.15" fill="#ff0000"/>
<circle cx="477.62" cy="254.97" r="1.15" fill="#ff0000"/>
<circle cx="477.86" cy="249.27" r="1.15" fill="#ff0000"/>
<circle cx="478.38" cy="251.33" r="1.15" fill="#ff0000"/>
<circle cx="477.87" cy="252.04" r="1.15" fill="#ff0000"/>
<circle cx="478.06" cy="254.88" r="1.15" fill="#ff0000"/>
<circle cx="478.49" cy="253.42" r="1.15" fill="#ff0000"/>
<circle cx="478.47" cy="254.00" r="1.15" fill="#ff0000"/>
<circle cx="478.54" cy="253.09" r="1.15" fill="#ff0000"/>
<circle cx="479.17" cy="252.62" r="1.15" fill="#ff0000"/>
<circle cx="479.01" cy="250.91" r="1.15" fill="#ff0000"/>
<circle cx="479.11" cy="249.36" r="1.15" fill="#ff0000"/>
<circle cx="479.47" cy="257.08" r="1.15" fill="#ff0000"/>
<circle cx="479.75" cy="251.92" r="1.15" fill="#ff0000"/>
<circle cx="479.79" cy="254.92" r="1.15" fill="#ff0000"/>
<circle cx="479.96" cy="251.23" r="1.15" fill="#ff0000"/>
<circle cx="480.08" cy="251.07" r="1.15" fill="#ff0000"/>
<circle cx="480.14" cy="256.03" r="1.15" fill="#ff0000"/>
<circle cx="480.74" cy="252.30" r="1.15" fill="#ff0000"/>
<circle cx="480.35" cy="254.40" r="1.15" fill="#ff0000"/>
<circle cx="480.60" cy="251.74" r="1.15" fill="#ff0000"/>
<circle cx="481.26" cy="252.04" r="1.15" fill="#ff0000"/>
<circle cx="480.83" cy="250.81" r="1.15" fill="#ff0000"/>
<circle cx="481.19" cy="250.78" r="1.15" fill="#ff0000"/>
<circle cx="481.34" cy="252.12" r="1.15" fill="#ff0000"/>
<circle cx="481.82" cy="252.24" r="1.15" fill="#ff0000"/>
<circle cx="481.29" cy="253.18" r="1.15" fill="#ff0000"/>
<circle cx="481.91" cy="257.73" r="1.15" fill="#ff0000"/>
<circle cx="481.78" cy="258.04" r="1.15" fill="#ff0000"/>
<circle cx="481.89" cy="263.17" r="1.15" fill="#ff0000"/>
<circle cx="482.48" cy="255.37" r="1.15" fill="#ff0000"/>
<circle cx="482.45" cy="256.51" r="1.15" fill="#ff0000"/>
<circle cx="482.41" cy="258.08" r="1.15" fill="#ff0000"/>
<circle cx="482.94" cy="253.17" r="1.15" fill="#ff0000"/>
<circle cx="483.16" cy="259.48" r="1.15" fill="#ff0000"/>
<circle cx="482.81" cy="256.02" r="1.15" fill="#ff0000"/>
<circle cx="483.63" cy="252.54" r="1.15" fill="#ff0000"/>
<circle cx="483.47" cy="252.38" r="1.15" fill="#ff0000"/>
<circle cx="483.30" cy="256.46" r="1.15" fill="#ff0000"/>
<circle cx="483.81" cy="251.08" r="1.15" fill="#ff0000"/>
<circle cx="484.26" cy="252.99" r="1.15" fill="#ff0000"/>
<circle cx="484.10" cy="257.98" r="1.15" fill="#ff0000"/>
<circle cx="484.45" cy="253.59" r="1.15" fill="#ff0000"/>
<circle cx="484.24" cy="253.83" r="1.15" fill="#ff0000"/>
<circle cx="484.78" cy="259.08" r="1.15" fill="#ff0000"/>
<circle cx="485.06" cy="254.52" r="1.15" fill="#ff0000"/>
<circle cx="484.91" cy="257.13" r="1.15" fill="#ff0000"/>
<circle cx="484.93" cy="253.20" r="1.15" fill="#ff0000"/>
<circle cx="485.68" cy="263.39" r="1.15" fill="#ff0000"/>
<circle cx="485.64" cy="254.46" r="1.15" fill="#ff0000"/>
<circle cx="485.41" cy="258.76" r="1.15" fill="#ff0000"/>
<circle cx="486.11" cy="254.98" r="1.15" fill="#ff0000"/>
<circle cx="486.11" cy="259.56" r="1.15" fill="#ff0000"/>
<circle cx="486.24" cy="253.89" r="1.15" fill="#ff0000"/>
<circle cx="486.24" cy="254.75" r="1.15" fill="#ff0000"/>
<circle cx="486.59" cy="250.60" r="1.15" fill="#ff0000"/>
<circle cx="486.40" cy="257.43" r="1.15" fill="#ff0000"/>
<circle cx="487.23" cy="254.66" r="1.15" fill="#ff0000"/>
<circle cx="486.99" cy="260.05" r="1.15" fill="#ff0000"/>
<circle cx="486.84" cy="259.87" r="1.15" fill="#ff0000"/>
<circle cx="487.64" cy="270.73" r="1.15" fill="#ff0000"/>
<circle cx="487.64" cy="254.40" r="1.15" fill="#ff0000"/>
<circle cx="487.31" cy="253.45" r="1.15" fill="#ff0000"/>
<circle cx="487.77" cy="263.71" r="1.15" fill="#ff0000"/>
<circle cx="487.69" cy="254.12" r="1.15" fill="#ff0000"/>
<circle cx="488.20" cy="258.25" r="1.15" fill="#ff0000"/>
<circle cx="488.54" cy="255.20" r="1.15" fill="#ff0000"/>
<circle cx="488.49" cy="252.66" r="1.15" fill="#ff0000"/>
<circle cx="488.27" cy="251.99" r="1.15" fill="#ff0000"/>
<circle cx="488.87" cy="255.22" r="1.15" fill="#ff0000"/>
<circle cx="488.94" cy="255.59" r="1.15" fill="#ff0000"/>
<circle cx="488.84" cy="251.39" r="1.15" fill="#ff0000"/>
<circle cx="489.52" cy="252.94" r="1.15" fill="#ff0000"/>
<circle cx="489.48" cy="261.00" r="1.15" fill="#ff0000"/>
<circle cx="489.49" cy="258.48" r="1.15" fill="#ff0000"/>
<circle cx="490.06" cy="257.09" r="1.15" fill="#ff0000"/>
<circle cx="490.11" cy="273.84" r="1.15" fill="#ff0000"/>
<circle cx="489.88" cy="256.58" r="1.15" fill="#ff0000"/>
<circle cx="490.42" cy="266.13" r="1.15" fill="#ff0000"/>
<circle cx="490.63" cy="259.13" r="1.15" fill="#ff0000"/>
<circle cx="490.53" cy="252.49" r="1.15" fill="#ff0000"/>
<circle cx="490.95" cy="255.55" r="1.15" fill="#ff0000"/>
<circle cx="490.95" cy="252.37" r="1.15" fill="#ff0000"/>
<circle cx="490.87" cy="252.71" r="1.15" fill="#ff0000"/>
<circle cx="491.14" cy="254.22" r="1.15" fill="#ff0000"/>
<circle cx="491.24" cy="253.60" r="1.15" fill="#ff0000"/>
<circle cx="491.24" cy="251.98" r="1.15" fill="#ff0000"/>
<circle cx="492.14" cy="256.00" r="1.15" fill="#ff0000"/>
<circle cx="491.84" cy="255.48" r="1.15" fill="#ff0000"/>
<circle cx="492.02" cy="252.90" r="1.15" fill="#ff0000"/>
<circle cx="492.15" cy="257.24" r="1.15" fill="#ff0000"/>
<circle cx="492.39" cy="252.58" r="1.15" fill="#ff0000"/>
<circle cx="492.23" cy="252.00" r="1.15" fill="#ff0000"/>
<circle cx="492.62" cy="252.03" r="1.15" fill="#ff0000"/>
<circle cx="492.81" cy="256.22" r="1.15" fill="#ff0000"/>
<circle cx="492.61" cy="253.21" r="1.15" fill="#ff0000"/>
<circle cx="493.25" cy="256.74" r="1.15" fill="#ff0000"/>
<circle cx="493.62" cy="257.57" r="1.15" fill="#ff0000"/>
<circle cx="493.24" cy="253.54" r="1.15" fill="#ff0000"/>
<circle cx="493.68" cy="257.27" r="1.15" fill="#ff0000"/>
<circle cx="493.83" cy="253.80" r="1.15" fill="#ff0000"/>
<circle cx="494.13" cy="253.13" r="1.15" fill="#ff0000"/>
<circle cx="494.17" cy="252.19" r="1.15" fill="#ff0000"/>
<circle cx="494.12" cy="252.84" r="1.15" fill="#ff0000"/>
<circle cx="494.56" cy="253.04" r="1.15" fill="#ff0000"/>
<circle cx="494.63" cy="255.56" r="1.15" fill="#ff0000"/>
<circle cx="494.80" cy="255.60" r="1.15" fill="#ff0000"/>
<circle cx="494.72" cy="253.44" r="1.15" fill="#ff0000"/>
<circle cx="495.14" cy="253.07" r="1.15" fill="#ff0000"/>
<circle cx="495.48" cy="251.54" r="1.15" fill="#ff0000"/>
<circle cx="495.54" cy="253.95" r="1.15" fill="#ff0000"/>
<circle cx="495.70" cy="254.02" r="1.15" fill="#ff0000"/>
<circle cx="495.69" cy="255.92" r="1.15" fill="#ff0000"/>
<circle cx="496.08" cy="253.19" r="1.15" fill="#ff0000"/>
<circle cx="496.32" cy="254.76" r="1.15" fill="#ff0000"/>
<circle cx="496.18" cy="255.18" r="1.15" fill="#ff0000"/>
<circle cx="496.07" cy="251.12" r="1.15" fill="#ff0000"/>
<circle cx="496.65" cy="252.14" r="1.15" fill="#ff0000"/>
<circle cx="496.62" cy="252.09" r="1.15" fill="#ff0000"/>
<circle cx="496.53" cy="259.29" r="1.15" fill="#ff0000"/>
<circle cx="497.22" cy="256.04" r="1.15" fill="#ff0000"/>
<circle cx="497.11" cy="255.34" r="1.15" fill="#ff0000"/>
<circle cx="497.21" cy="256.02" r="1.15" fill="#ff0000"/>
<circle cx="497.79" cy="255.80" r="1.15" fill="#ff0000"/>
<circle cx="497.88" cy="257.16" r="1.15" fill="#ff0000"/>
<circle cx="497.60" cy="258.55" r="1.15" fill="#ff0000"/>
<circle cx="498.33" cy="253.24" r="1.15" fill="#ff0000"/>
<circle cx="498.42" cy="252.06" r="1.15" fill="#ff0000"/>
<circle cx="498.12" cy="254.73" r="1.15" fill="#ff0000"/>
<circle cx="498.81" cy="254.27" r="1.15" fill="#ff0000"/>
<circle cx="498.82" cy="253.26" r="1.15" fill="#ff0000"/>
<circle cx="498.97" cy="254.19" r="1.15" fill="#ff0000"/>
<circle cx="498.98" cy="252.89" r="1.15" fill="#ff0000"/>
<circle cx="499.22" cy="255.20" r="1.15" fill="#ff0000"/>
<circle cx="499.01" cy="251.78" r="1.15" fill="#ff0000"/>
<circle cx="499.77" cy="255.81" r="1.15" fill="#ff0000"/>
<circle cx="499.55" cy="253.68" r="1.15" fill="#ff0000"/>
<circle cx="499.64" cy="252.80" r="1.15" fill="#ff0000"/>
<circle cx="500.10" cy="255.48" r="1.15" fill="#ff0000"/>
<circle cx="500.42" cy="253.81" r="1.15" fill="#ff0000"/>
<circle cx="500.04" cy="253.18" r="1.15" fill="#ff0000"/>
<circle cx="500.89" cy="255.70" r="1.15" fill="#ff0000"/>
<circle cx="500.65" cy="254.84" r="1.15" fill="#ff0000"/>
<circle cx="500.47" cy="252.36" r="1.15" fill="#ff0000"/>
<circle cx="501.49" cy="256.84" r="1.15" fill="#ff0000"/>
<circle cx="501.36" cy="253.90" r="1.15" fill="#ff0000"/>
<circle cx="501.44" cy="254.48" r="1.15" fill="#ff0000"/>
<circle cx="501.60" cy="253.91" r="1.15" fill="#ff0000"/>
<circle cx="501.45" cy="253.66" r="1.15" fill="#ff0000"/>
<circle cx="501.84" cy="257.02" r="1.15" fill="#ff0000"/>
<circle cx="502.23" cy="252.70" r="1.15" fill="#ff0000"/>
<circle cx="502.44" cy="252.36" r="1.15" fill="#ff0000"/>
<circle cx="502.47" cy="253.94" r="1.15" fill="#ff0000"/>
<circle cx="502.64" cy="253.70" r="1.15" fill="#ff0000"/>
<circle cx="502.60" cy="253.74" r="1.15" fill="#ff0000"/>
<circle cx="502.74" cy="255.98" r="1.15" fill="#ff0000"/>
<circle cx="503.12" cy="249.62" r="1.15" fill="#ff0000"/>
<circle cx="503.34" cy="249.32" r="1.15" fill="#ff0000"/>
<circle cx="503.01" cy="247.72" r="1.15" fill="#ff0000"/>
<circle cx="503.51" cy="249.05" r="1.15" fill="#ff0000"/>
<circle cx="503.57" cy="247.78" r="1.15" fill="#ff0000"/>
<circle cx="503.78" cy="251.09" r="1.15" fill="#ff0000"/>
<circle cx="504.10" cy="249.26" r="1.15" fill="#ff0000"/>
<circle cx="504.09" cy="249.54" r="1.15" fill="#ff0000"/>
<circle cx="503.99" cy="248.28" r="1.15" fill="#ff0000"/>
<circle cx="504.90" cy="247.91" r="1.15" fill="#ff0000"/>
<circle cx="504.58" cy="249.25" r="1.15" fill="#ff0000"/>
<circle cx="504.58" cy="248.76" r="1.15" fill="#ff0000"/>
<circle cx="505.38" cy="249.94" r="1.15" fill="#ff0000"/>
<circle cx="505.08" cy="249.60" r="1.15" fill="#ff0000"/>
<circle cx="505.05" cy="250.06" r="1.15" fill="#ff0000"/>
<circle cx="505.39" cy="249.79" r="1.15" fill="#ff0000"/>
<circle cx="505.38" cy="249.15" r="1.15" fill="#ff0000"/>
<circle cx="505.38" cy="248.95" r="1.15" fill="#ff0000"/>
<circle cx="506.16" cy="248.71" r="1.15" fill="#ff0000"/>
<circle cx="506.00" cy="249.31" r="1.15" fill="#ff0000"/>
<circle cx="505.93" cy="250.19" r="1.15" fill="#ff0000"/>
<circle cx="506.74" cy="248.77" r="1.15" fill="#ff0000"/>
<circle cx="506.83" cy="249.63" r="1.15" fill="#ff0000"/>
<circle cx="506.54" cy="248.61" r="1.15" fill="#ff0000"/>
<circle cx="506.85" cy="249.05" r="1.15" fill="#ff0000"/>
<circle cx="507.29" cy="250.88" r="1.15" fill="#ff0000"/>
<circle cx="507.21" cy="250.25" r="1.15" fill="#ff0000"/>
<circle cx="507.71" cy="250.27" r="1.15" fill="#ff0000"/>
<circle cx="507.81" cy="252.29" r="1.15" fill="#ff0000"/>
<circle cx="507.38" cy="248.49" r="1.15" fill="#ff0000"/>
<circle cx="507.85" cy="250.20" r="1.15" fill="#ff0000"/>
<circle cx="508.10" cy="249.81" r="1.15" fill="#ff0000"/>
<circle cx="508.04" cy="249.16" r="1.15" fill="#ff0000"/>
<circle cx="508.68" cy="250.21" r="1.15" fill="#ff0000"/>
<circle cx="508.50" cy="249.29" r="1.15" fill="#ff0000"/>
<circle cx="508.64" cy="249.98" r="1.15" fill="#ff0000"/>
<circle cx="509.19" cy="251.00" r="1.15" fill="#ff0000"/>
<circle cx="509.00" cy="250.78" r="1.15" fill="#ff0000"/>
<circle cx="508.83" cy="250.55" r="1.15" fill="#ff0000"/>
<circle cx="509.55" cy="251.39" r="1.15" fill="#ff0000"/>
<circle cx="509.30" cy="249.78" r="1.15" fill="#ff0000"/>
<circle cx="509.61" cy="250.07" r="1.15" fill="#ff0000"/>
<circle cx="509.89" cy="249.07" r="1.15" fill="#ff0000"/>
<circle cx="510.32" cy="251.40" r="1.15" fill="#ff0000"/>
<circle cx="510.31" cy="250.29" r="1.15" fill="#ff0000"/>
<circle cx="510.62" cy="251.29" r="1.15" fill="#ff0000"/>
<circle cx="510.43" cy="250.76" r="1.15" fill="#ff0000"/>
<circle cx="510.49" cy="252.53" r="1.15" fill="#ff0000"/>
<circle cx="510.84" cy="250.61" r="1.15" fill="#ff0000"/>
<circle cx="510.97" cy="251.28" r="1.15" fill="#ff0000"/>
<circle cx="510.87" cy="250.96" r="1.15" fill="#ff0000"/>
<circle cx="511.39" cy="249.56" r="1.15" fill="#ff0000"/>
<circle cx="511.48" cy="251.85" r="1.15" fill="#ff0000"/>
<circle cx="511.62" cy="249.65" r="1.15" fill="#ff0000"/>
<circle cx="512.06" cy="252.38" r="1.15" fill="#ff0000"/>
<circle cx="511.94" cy="253.63" r="1.15" fill="#ff0000"/>
<circle cx="511.92" cy="250.72" r="1.15" fill="#ff0000"/>
<circle cx="512.63" cy="252.07" r="1.15" fill="#ff0000"/>
<circle cx="512.33" cy="253.09" r="1.15" fill="#ff0000"/>
<circle cx="512.56" cy="252.19" r="1.15" fill="#ff0000"/>
<circle cx="513.15" cy="251.01" r="1.15" fill="#ff0000"/>
<circle cx="512.87" cy="251.73" r="1.15" fill="#ff0000"/>
<circle cx="513.02" cy="250.71" r="1.15" fill="#ff0000"/>
<circle cx="513.26" cy="251.02" r="1.15" fill="#ff0000"/>
<circle cx="513.29" cy="251.73" r="1.15" fill="#ff0000"/>
<circle cx="513.49" cy="252.49" r="1.15" fill="#ff0000"/>
<circle cx="514.20" cy="251.08" r="1.15" fill="#ff0000"/>
<circle cx="514.00" cy="251.71" r="1.15" fill="#ff0000"/>
<circle cx="514.12" cy="252.03" r="1.15" fill="#ff0000"/>
<circle cx="514.39" cy="250.08" r="1.15" fill="#ff0000"/>
<circle cx="514.68" cy="251.15" r="1.15" fill="#ff0000"/>
<circle cx="514.44" cy="252.68" r="1.15" fill="#ff0000"/>
<circle cx="515.16" cy="252.67" r="1.15" fill="#ff0000"/>
<circle cx="514.91" cy="251.83" r="1.15" fill="#ff0000"/>
<circle cx="514.80" cy="252.15" r="1.15" fill="#ff0000"/>
<circle cx="515.72" cy="252.92" r="1.15" fill="#ff0000"/>
<circle cx="515.57" cy="252.12" r="1.15" fill="#ff0000"/>
<circle cx="515.41" cy="252.42" r="1.15" fill="#ff0000"/>
<circle cx="515.71" cy="255.67" r="1.15" fill="#ff0000"/>
<circle cx="515.70" cy="252.03" r="1.15" fill="#ff0000"/>
<circle cx="516.24" cy="250.89" r="1.15" fill="#ff0000"/>
<circle cx="516.19" cy="252.04" r="1.15" fill="#ff0000"/>
<circle cx="516.38" cy="253.22" r="1.15" fill="#ff0000"/>
<circle cx="516.64" cy="251.30" r="1.15" fill="#ff0000"/>
<circle cx="517.01" cy="251.39" r="1.15" fill="#ff0000"/>
<circle cx="516.88" cy="254.09" r="1.15" fill="#ff0000"/>
<circle cx="517.11" cy="253.16" r="1.15" fill="#ff0000"/>
<circle cx="517.21" cy="252.06" r="1.15" fill="#ff0000"/>
<circle cx="517.43" cy="253.00" r="1.15" fill="#ff0000"/>
<circle cx="517.16" cy="252.30" r="1.15" fill="#ff0000"/>
<circle cx="518.00" cy="252.85" r="1.15" fill="#ff0000"/>
<circle cx="517.92" cy="251.72" r="1.15" fill="#ff0000"/>
<circle cx="517.67" cy="252.30" r="1.15" fill="#ff0000"/>
<circle cx="518.31" cy="253.98" r="1.15" fill="#ff0000"/>
<circle cx="518.41" cy="252.70" r="1.15" fill="#ff0000"/>
<circle cx="518.62" cy="253.05" r="1.15" fill="#ff0000"/>
<circle cx="519.08" cy="253.55" r="1.15" fill="#ff0000"/>
<circle cx="518.94" cy="252.58" r="1.15" fill="#ff0000"/>
<circle cx="518.78" cy="254.13" r="1.15" fill="#ff0000"/>
<circle cx="519.68" cy="255.28" r="1.15" fill="#ff0000"/>
<circle cx="519.53" cy="254.20" r="1.15" fill="#ff0000"/>
<circle cx="519.21" cy="252.53" r="1.15" fill="#ff0000"/>
<circle cx="519.81" cy="252.86" r="1.15" fill="#ff0000"/>
<circle cx="519.90" cy="253.32" r="1.15" fill="#ff0000"/>
<circle cx="520.15" cy="253.49" r="1.15" fill="#ff0000"/>
<circle cx="520.56" cy="254.25" r="1.15" fill="#ff0000"/>
<circle cx="520.33" cy="254.46" r="1.15" fill="#ff0000"/>
<circle cx="520.53" cy="254.82" r="1.15" fill="#ff0000"/>
<circle cx="521.13" cy="253.59" r="1.15" fill="#ff0000"/>
<circle cx="520.73" cy="253.91" r="1.15" fill="#ff0000"/>
<circle cx="520.92" cy="253.31" r="1.15" fill="#ff0000"/>
<circle cx="521.29" cy="252.65" r="1.15" fill="#ff0000"/>
<circle cx="521.29" cy="255.42" r="1.15" fill="#ff0000"/>
<circle cx="521.24" cy="254.38" r="1.15" fill="#ff0000"/>
<circle cx="521.63" cy="254.53" r="1.15" fill="#ff0000"/>
<circle cx="521.70" cy="253.33" r="1.15" fill="#ff0000"/>
<circle cx="521.96" cy="254.25" r="1.15" fill="#ff0000"/>
<circle cx="522.15" cy="253.42" r="1.15" fill="#ff0000"/>
<circle cx="522.07" cy="253.62" r="1.15" fill="#ff0000"/>
<circle cx="522.25" cy="254.69" r="1.15" fill="#ff0000"/>
<circle cx="522.67" cy="256.88" r="1.15" fill="#ff0000"/>
<circle cx="522.98" cy="254.81" r="1.15" fill="#ff0000"/>
<circle cx="522.80" cy="255.07" r="1.15" fill="#ff0000"/>
<circle cx="523.28" cy="254.71" r="1.15" fill="#ff0000"/>
<circle cx="523.20" cy="254.40" r="1.15" fill="#ff0000"/>
<circle cx="523.23" cy="256.57" r="1.15" fill="#ff0000"/>
<circle cx="524.10" cy="253.79" r="1.15" fill="#ff0000"/>
<circle cx="523.75" cy="254.15" r="1.15" fill="#ff0000"/>
<circle cx="523.89" cy="254.82" r="1.15" fill="#ff0000"/>
<circle cx="524.39" cy="256.76" r="1.15" fill="#ff0000"/>
<circle cx="524.10" cy="255.66" r="1.15" fill="#ff0000"/>
<circle cx="524.29" cy="255.94" r="1.15" fill="#ff0000"/>
<circle cx="524.74" cy="255.49" r="1.15" fill="#ff0000"/>
<circle cx="524.85" cy="253.50" r="1.15" fill="#ff0000"/>
<circle cx="524.88" cy="254.56" r="1.15" fill="#ff0000"/>
<circle cx="525.35" cy="255.60" r="1.15" fill="#ff0000"/>
<circle cx="525.28" cy="255.18" r="1.15" fill="#ff0000"/>
<circle cx="525.19" cy="256.39" r="1.15" fill="#ff0000"/>
<circle cx="525.73" cy="256.93" r="1.15" fill="#ff0000"/>
<circle cx="526.06" cy="255.23" r="1.15" fill="#ff0000"/>
<circle cx="525.98" cy="255.39" r="1.15" fill="#ff0000"/>
<circle cx="526.46" cy="257.68" r="1.15" fill="#ff0000"/>
<circle cx="526.56" cy="255.91" r="1.15" fill="#ff0000"/>
<circle cx="526.40" cy="256.35" r="1.15" fill="#ff0000"/>
<circle cx="526.75" cy="253.60" r="1.15" fill="#ff0000"/>
<circle cx="526.60" cy="257.49" r="1.15" fill="#ff0000"/>
<circle cx="526.53" cy="254.19" r="1.15" fill="#ff0000"/>
<circle cx="527.26" cy="257.39" r="1.15" fill="#ff0000"/>
<circle cx="527.46" cy="253.87" r="1.15" fill="#ff0000"/>
<circle cx="527.49" cy="256.07" r="1.15" fill="#ff0000"/>
<circle cx="527.68" cy="255.74" r="1.15" fill="#ff0000"/>
<circle cx="527.67" cy="255.31" r="1.15" fill="#ff0000"/>
<circle cx="527.54" cy="257.64" r="1.15" fill="#ff0000"/>
<circle cx="528.44" cy="255.18" r="1.15" fill="#ff0000"/>
<circle cx="528.01" cy="258.22" r="1.15" fill="#ff0000"/>
<circle cx="528.32" cy="256.16" r="1.15" fill="#ff0000"/>
<circle cx="528.57" cy="257.62" r="1.15" fill="#ff0000"/>
<circle cx="528.46" cy="256.73" r="1.15" fill="#ff0000"/>
<circle cx="528.81" cy="255.51" r="1.15" fill="#ff0000"/>
<circle cx="529.34" cy="254.98" r="1.15" fill="#ff0000"/>
<circle cx="529.34" cy="255.55" r="1.15" fill="#ff0000"/>
<circle cx="529.01" cy="256.16" r="1.15" fill="#ff0000"/>
<circle cx="529.64" cy="257.64" r="1.15" fill="#ff0000"/>
<circle cx="529.83" cy="254.93" r="1.15" fill="#ff0000"/>
<circle cx="529.61" cy="256.52" r="1.15" fill="#ff0000"/>
<circle cx="530.28" cy="256.28" r="1.15" fill="#ff0000"/>
<circle cx="530.16" cy="257.31" r="1.15" fill="#ff0000"/>
<circle cx="530.46" cy="257.07" r="1.15" fill="#ff0000"/>
<circle cx="530.55" cy="256.25" r="1.15" fill="#ff0000"/>
<circle cx="530.91" cy="257.21" r="1.15" fill="#ff0000"/>
<circle cx="530.80" cy="255.28" r="1.15" fill="#ff0000"/>
<circle cx="531.13" cy="258.45" r="1.15" fill="#ff0000"/>
<circle cx="531.17" cy="257.24" r="1.15" fill="#ff0000"/>
<circle cx="531.07" cy="257.09" r="1.15" fill="#ff0000"/>
<circle cx="531.57" cy="258.52" r="1.15" fill="#ff0000"/>
<circle cx="531.54" cy="257.97" r="1.15" fill="#ff0000"/>
<circle cx="531.91" cy="256.73" r="1.15" fill="#ff0000"/>
<circle cx="532.09" cy="255.83" r="1.15" fill="#ff0000"/>
<circle cx="532.23" cy="258.76" r="1.15" fill="#ff0000"/>
<circle cx="532.40" cy="257.15" r="1.15" fill="#ff0000"/>
<circle cx="532.60" cy="257.31" r="1.15" fill="#ff0000"/>
<circle cx="532.58" cy="258.01" r="1.15" fill="#ff0000"/>
<circle cx="532.40" cy="260.05" r="1.15" fill="#ff0000"/>
<circle cx="533.08" cy="258.33" r="1.15" fill="#ff0000"/>
<circle cx="533.26" cy="257.73" r="1.15" fill="#ff0000"/>
<circle cx="533.43" cy="260.48" r="1.15" fill="#ff0000"/>
<circle cx="533.84" cy="258.23" r="1.15" fill="#ff0000"/>
<circle cx="533.93" cy="258.96" r="1.15" fill="#ff0000"/>
<circle cx="533.60" cy="257.90" r="1.15" fill="#ff0000"/>
<circle cx="534.42" cy="258.03" r="1.15" fill="#ff0000"/>
<circle cx="533.94" cy="256.80" r="1.15" fill="#ff0000"/>
<circle cx="533.91" cy="258.00" r="1.15" fill="#ff0000"/>
<circle cx="534.70" cy="257.30" r="1.15" fill="#ff0000"/>
<circle cx="534.81" cy="257.88" r="1.15" fill="#ff0000"/>
<circle cx="534.42" cy="258.75" r="1.15" fill="#ff0000"/>
<circle cx="535.33" cy="257.65" r="1.15" fill="#ff0000"/>
<circle cx="534.86" cy="260.35" r="1.15" fill="#ff0000"/>
<circle cx="535.14" cy="257.64" r="1.15" fill="#ff0000"/>
<circle cx="535.51" cy="258.44" r="1.15" fill="#ff0000"/>
<circle cx="535.65" cy="258.25" r="1.15" fill="#ff0000"/>
<circle cx="535.62" cy="257.75" r="1.15" fill="#ff0000"/>
<circle cx="535.97" cy="257.17" r="1.15" fill="#ff0000"/>
<circle cx="535.95" cy="257.99" r="1.15" fill="#ff0000"/>
<circle cx="536.09" cy="258.96" r="1.15" fill="#ff0000"/>
<circle cx="536.80" cy="258.52" r="1.15" fill="#ff0000"/>
<circle cx="536.61" cy="258.18" r="1.15" fill="#ff0000"/>
<circle cx="536.80" cy="258.76" r="1.15" fill="#ff0000"/>
<circle cx="536.82" cy="259.44" r="1.15" fill="#ff0000"/>
<circle cx="537.22" cy="258.27" r="1.15" fill="#ff0000"/>
<circle cx="537.11" cy="258.63" r="1.15" fill="#ff0000"/>
<circle cx="537.47" cy="258.74" r="1.15" fill="#ff0000"/>
<circle cx="537.78" cy="260.11" r="1.15" fill="#ff0000"/>
<circle cx="537.35" cy="259.21" r="1.15" fill="#ff0000"/>
<circle cx="538.31" cy="258.08" r="1.15" fill="#ff0000"/>
<circle cx="538.16" cy="258.33" r="1.15" fill="#ff0000"/>
<circle cx="538.11" cy="261.67" r="1.15" fill="#ff0000"/>
<circle cx="538.51" cy="261.04" r="1.15" fill="#ff0000"/>
<circle cx="538.43" cy="257.96" r="1.15" fill="#ff0000"/>
<circle cx="538.55" cy="258.76" r="1.15" fill="#ff0000"/>
<circle cx="539.03" cy="258.71" r="1.15" fill="#ff0000"/>
<circle cx="538.81" cy="260.24" r="1.15" fill="#ff0000"/>
<circle cx="539.00" cy="260.12" r="1.15" fill="#ff0000"/>
<circle cx="539.48" cy="258.30" r="1.15" fill="#ff0000"/>
<circle cx="539.40" cy="258.33" r="1.15" fill="#ff0000"/>
<circle cx="539.27" cy="259.33" r="1.15" fill="#ff0000"/>
<circle cx="539.76" cy="260.14" r="1.15" fill="#ff0000"/>
<circle cx="539.96" cy="262.06" r="1.15" fill="#ff0000"/>
<circle cx="539.93" cy="259.87" r="1.15" fill="#ff0000"/>
<circle cx="540.43" cy="260.41" r="1.15" fill="#ff0000"/>
<circle cx="540.67" cy="260.01" r="1.15" fill="#ff0000"/>
<circle cx="540.39" cy="258.99" r="1.15" fill="#ff0000"/>
<circle cx="540.98" cy="257.66" r="1.15" fill="#ff0000"/>
<circle cx="540.90" cy="259.94" r="1.15" fill="#ff0000"/>
<circle cx="541.29" cy="259.11" r="1.15" fill="#ff0000"/>
<circle cx="541.41" cy="257.84" r="1.15" fill="#ff0000"/>
<circle cx="541.59" cy="259.63" r="1.15" fill="#ff0000"/>
<circle cx="541.26" cy="261.48" r="1.15" fill="#ff0000"/>
<circle cx="542.24" cy="258.49" r="1.15" fill="#ff0000"/>
<circle cx="542.25" cy="254.95" r="1.15" fill="#ff0000"/>
<circle cx="541.73" cy="255.30" r="1.15" fill="#ff0000"/>
<circle cx="542.60" cy="255.43" r="1.15" fill="#ff0000"/>
<circle cx="542.26" cy="263.35" r="1.15" fill="#ff0000"/>
<circle cx="542.64" cy="255.94" r="1.15" fill="#ff0000"/>
<circle cx="542.95" cy="257.04" r="1.15" fill="#ff0000"/>
<circle cx="543.12" cy="256.61" r="1.15" fill="#ff0000"/>
<circle cx="543.18" cy="256.07" r="1.15" fill="#ff0000"/>
<circle cx="543.26" cy="257.79" r="1.15" fill="#ff0000"/>
<circle cx="543.73" cy="256.63" r="1.15" fill="#ff0000"/>
<circle cx="543.32" cy="263.45" r="1.15" fill="#ff0000"/>
<circle cx="544.16" cy="258.39" r="1.15" fill="#ff0000"/>
<circle cx="543.95" cy="259.38" r="1.15" fill="#ff0000"/>
<circle cx="543.90" cy="258.60" r="1.15" fill="#ff0000"/>
<circle cx="544.46" cy="260.26" r="1.15" fill="#ff0000"/>
<circle cx="544.62" cy="256.77" r="1.15" fill="#ff0000"/>
<circle cx="544.27" cy="259.13" r="1.15" fill="#ff0000"/>
<circle cx="544.87" cy="257.28" r="1.15" fill="#ff0000"/>
<circle cx="545.00" cy="256.09" r="1.15" fill="#ff0000"/>
<circle cx="544.99" cy="258.74" r="1.15" fill="#ff0000"/>
<circle cx="545.49" cy="257.42" r="1.15" fill="#ff0000"/>
<circle cx="545.35" cy="265.66" r="1.15" fill="#ff0000"/>
<circle cx="545.31" cy="256.24" r="1.15" fill="#ff0000"/>
<circle cx="545.80" cy="256.44" r="1.15" fill="#ff0000"/>
<circle cx="545.87" cy="261.21" r="1.15" fill="#ff0000"/>
<circle cx="546.00" cy="256.50" r="1.15" fill="#ff0000"/>
<circle cx="546.66" cy="265.75" r="1.15" fill="#ff0000"/>
<circle cx="546.28" cy="259.16" r="1.15" fill="#ff0000"/>
<circle cx="546.32" cy="255.33" r="1.15" fill="#ff0000"/>
<circle cx="547.03" cy="255.81" r="1.15" fill="#ff0000"/>
<circle cx="546.83" cy="259.99" r="1.15" fill="#ff0000"/>
<circle cx="547.07" cy="259.31" r="1.15" fill="#ff0000"/>
<circle cx="547.57" cy="256.03" r="1.15" fill="#ff0000"/>
<circle cx="547.43" cy="255.19" r="1.15" fill="#ff0000"/>
<circle cx="547.56" cy="256.90" r="1.15" fill="#ff0000"/>
<circle cx="548.14" cy="263.33" r="1.15" fill="#ff0000"/>
<circle cx="548.15" cy="257.22" r="1.15" fill="#ff0000"/>
<circle cx="548.10" cy="256.41" r="1.15" fill="#ff0000"/>
<circle cx="548.25" cy="256.26" r="1.15" fill="#ff0000"/>
<circle cx="548.25" cy="260.05" r="1.15" fill="#ff0000"/>
<circle cx="548.19" cy="255.57" r="1.15" fill="#ff0000"/>
<circle cx="548.76" cy="258.45" r="1.15" fill="#ff0000"/>
<circle cx="549.09" cy="255.34" r="1.15" fill="#ff0000"/>
<circle cx="549.08" cy="258.40" r="1.15" fill="#ff0000"/>
<circle cx="549.51" cy="259.82" r="1.15" fill="#ff0000"/>
<circle cx="549.61" cy="261.34" r="1.15" fill="#ff0000"/>
<circle cx="549.13" cy="256.44" r="1.15" fill="#ff0000"/>
<circle cx="550.03" cy="259.23" r="1.15" fill="#ff0000"/>
<circle cx="549.79" cy="255.19" r="1.15" fill="#ff0000"/>
<circle cx="549.87" cy="258.39" r="1.15" fill="#ff0000"/>
<circle cx="550.21" cy="259.20" r="1.15" fill="#ff0000"/>
<circle cx="550.61" cy="257.50" r="1.15" fill="#ff0000"/>
<circle cx="550.58" cy="256.64" r="1.15" fill="#ff0000"/>
<circle cx="550.64" cy="259.22" r="1.15" fill="#ff0000"/>
<circle cx="551.06" cy="259.10" r="1.15" fill="#ff0000"/>
<circle cx="550.61" cy="260.71" r="1.15" fill="#ff0000"/>
<circle cx="551.61" cy="260.66" r="1.15" fill="#ff0000"/>
<circle cx="551.50" cy="260.10" r="1.15" fill="#ff0000"/>
<circle cx="551.36" cy="257.37" r="1.15" fill="#ff0000"/>
<circle cx="551.75" cy="257.02" r="1.15" fill="#ff0000"/>
<circle cx="551.95" cy="258.49" r="1.15" fill="#ff0000"/>
<circle cx="551.60" cy="259.44" r="1.15" fill="#ff0000"/>
<circle cx="552.59" cy="260.95" r="1.15" fill="#ff0000"/>
<circle cx="552.21" cy="258.09" r="1.15" fill="#ff0000"/>
<circle cx="552.57" cy="258.21" r="1.15" fill="#ff0000"/>
<circle cx="553.05" cy="265.95" r="1.15" fill="#ff0000"/>
<circle cx="552.55" cy="263.20" r="1.15" fill="#ff0000"/>
<circle cx="552.92" cy="261.31" r="1.15" fill="#ff0000"/>
<circle cx="553.55" cy="260.96" r="1.15" fill="#ff0000"/>
<circle cx="553.57" cy="259.86" r="1.15" fill="#ff0000"/>
<circle cx="553.51" cy="258.01" r="1.15" fill="#ff0000"/>
<circle cx="553.54" cy="257.17" r="1.15" fill="#ff0000"/>
<circle cx="553.81" cy="260.13" r="1.15" fill="#ff0000"/>
<circle cx="553.97" cy="262.71" r="1.15" fill="#ff0000"/>
<circle cx="554.46" cy="257.88" r="1.15" fill="#ff0000"/>
<circle cx="554.24" cy="264.03" r="1.15" fill="#ff0000"/>
<circle cx="554.02" cy="257.72" r="1.15" fill="#ff0000"/>
<circle cx="554.83" cy="257.43" r="1.15" fill="#ff0000"/>
<circle cx="554.88" cy="260.15" r="1.15" fill="#ff0000"/>
<circle cx="555.00" cy="259.15" r="1.15" fill="#ff0000"/>
<circle cx="555.13" cy="257.27" r="1.15" fill="#ff0000"/>
<circle cx="555.18" cy="263.34" r="1.15" fill="#ff0000"/>
<circle cx="555.14" cy="256.02" r="1.15" fill="#ff0000"/>
<circle cx="555.98" cy="251.46" r="1.15" fill="#ff0000"/>
<circle cx="555.65" cy="250.36" r="1.15" fill="#ff0000"/>
<circle cx="555.86" cy="250.41" r="1.15" fill="#ff0000"/>
<circle cx="556.02" cy="251.88" r="1.15" fill="#ff0000"/>
<circle cx="556.10" cy="251.27" r="1.15" fill="#ff0000"/>
<circle cx="556.18" cy="252.69" r="1.15" fill="#ff0000"/>
<circle cx="557.02" cy="251.30" r="1.15" fill="#ff0000"/>
<circle cx="556.91" cy="251.11" r="1.15" fill="#ff0000"/>
<circle cx="556.91" cy="251.71" r="1.15" fill="#ff0000"/>
<circle cx="557.29" cy="251.39" r="1.15" fill="#ff0000"/>
<circle cx="557.42" cy="251.93" r="1.15" fill="#ff0000"/>
<circle cx="557.17" cy="252.39" r="1.15" fill="#ff0000"/>
<circle cx="557.53" cy="253.08" r="1.15" fill="#ff0000"/>
<circle cx="557.99" cy="250.57" r="1.15" fill="#ff0000"/>
<circle cx="557.97" cy="252.52" r="1.15" fill="#ff0000"/>
<circle cx="558.47" cy="251.79" r="1.15" fill="#ff0000"/>
<circle cx="558.32" cy="251.34" r="1.15" fill="#ff0000"/>
<circle cx="558.47" cy="253.63" r="1.15" fill="#ff0000"/>
<circle cx="558.50" cy="252.57" r="1.15" fill="#ff0000"/>
<circle cx="558.47" cy="250.44" r="1.15" fill="#ff0000"/>
<circle cx="558.46" cy="251.51" r="1.15" fill="#ff0000"/>
<circle cx="558.99" cy="251.71" r="1.15" fill="#ff0000"/>
<circle cx="559.24" cy="253.47" r="1.15" fill="#ff0000"/>
<circle cx="559.45" cy="252.81" r="1.15" fill="#ff0000"/>
<circle cx="559.46" cy="252.55" r="1.15" fill="#ff0000"/>
<circle cx="559.93" cy="251.69" r="1.15" fill="#ff0000"/>
<circle cx="559.60" cy="252.77" r="1.15" fill="#ff0000"/>
<circle cx="560.35" cy="253.40" r="1.15" fill="#ff0000"/>
<circle cx="560.24" cy="253.68" r="1.15" fill="#ff0000"/>
<circle cx="560.01" cy="253.65" r="1.15" fill="#ff0000"/>
<circle cx="560.41" cy="256.20" r="1.15" fill="#ff0000"/>
<circle cx="560.43" cy="253.24" r="1.15" fill="#ff0000"/>
<circle cx="560.81" cy="252.46" r="1.15" fill="#ff0000"/>
<circle cx="561.01" cy="252.56" r="1.15" fill="#ff0000"/>
<circle cx="561.26" cy="253.85" r="1.15" fill="#ff0000"/>
<circle cx="560.90" cy="253.28" r="1.15" fill="#ff0000"/>
<circle cx="561.53" cy="252.76" r="1.15" fill="#ff0000"/>
<circle cx="561.65" cy="254.13" r="1.15" fill="#ff0000"/>
<circle cx="561.58" cy="254.01" r="1.15" fill="#ff0000"/>
<circle cx="562.11" cy="254.82" r="1.15" fill="#ff0000"/>
<circle cx="562.06" cy="254.51" r="1.15" fill="#ff0000"/>
<circle cx="562.40" cy="254.04" r="1.15" fill="#ff0000"/>
<circle cx="562.45" cy="255.87" r="1.15" fill="#ff0000"/>
<circle cx="562.52" cy="256.78" r="1.15" fill="#ff0000"/>
<circle cx="562.49" cy="253.16" r="1.15" fill="#ff0000"/>
<circle cx="563.39" cy="254.24" r="1.15" fill="#ff0000"/>
<circle cx="563.24" cy="253.24" r="1.15" fill="#ff0000"/>
<circle cx="563.13" cy="253.57" r="1.15" fill="#ff0000"/>
<circle cx="563.56" cy="255.28" r="1.15" fill="#ff0000"/>
<circle cx="563.50" cy="255.01" r="1.15" fill="#ff0000"/>
<circle cx="563.61" cy="255.57" r="1.15" fill="#ff0000"/>
<circle cx="564.11" cy="254.57" r="1.15" fill="#ff0000"/>
<circle cx="563.99" cy="257.25" r="1.15" fill="#ff0000"/>
<circle cx="564.29" cy="254.19" r="1.15" fill="#ff0000"/>
<circle cx="564.78" cy="252.94" r="1.15" fill="#ff0000"/>
<circle cx="564.61" cy="252.59" r="1.15" fill="#ff0000"/>
<circle cx="564.86" cy="254.98" r="1.15" fill="#ff0000"/>
<circle cx="564.98" cy="255.53" r="1.15" fill="#ff0000"/>
<circle cx="565.01" cy="255.67" r="1.15" fill="#ff0000"/>
<circle cx="565.29" cy="254.03" r="1.15" fill="#ff0000"/>
<circle cx="565.83" cy="257.33" r="1.15" fill="#ff0000"/>
<circle cx="565.71" cy="256.40" r="1.15" fill="#ff0000"/>
<circle cx="565.41" cy="256.36" r="1.15" fill="#ff0000"/>
<circle cx="565.94" cy="255.55" r="1.15" fill="#ff0000"/>
<circle cx="566.09" cy="254.91" r="1.15" fill="#ff0000"/>
<circle cx="566.15" cy="254.75" r="1.15" fill="#ff0000"/>
<circle cx="566.66" cy="258.01" r="1.15" fill="#ff0000"/>
<circle cx="566.36" cy="256.02" r="1.15" fill="#ff0000"/>
<circle cx="566.47" cy="257.36" r="1.15" fill="#ff0000"/>
<circle cx="567.21" cy="254.74" r="1.15" fill="#ff0000"/>
<circle cx="566.86" cy="256.75" r="1.15" fill="#ff0000"/>
<circle cx="567.27" cy="255.30" r="1.15" fill="#ff0000"/>
<circle cx="567.77" cy="256.66" r="1.15" fill="#ff0000"/>
<circle cx="567.64" cy="258.49" r="1.15" fill="#ff0000"/>
<circle cx="567.48" cy="256.34" r="1.15" fill="#ff0000"/>
<circle cx="568.22" cy="256.04" r="1.15" fill="#ff0000"/>
<circle cx="568.20" cy="254.62" r="1.15" fill="#ff0000"/>
<circle cx="567.95" cy="256.68" r="1.15" fill="#ff0000"/>
<circle cx="568.62" cy="255.26" r="1.15" fill="#ff0000"/>
<circle cx="568.45" cy="258.23" r="1.15" fill="#ff0000"/>
<circle cx="568.42" cy="258.63" r="1.15" fill="#ff0000"/>
<circle cx="569.29" cy="257.66" r="1.15" fill="#ff0000"/>
<circle cx="568.91" cy="256.57" r="1.15" fill="#ff0000"/>
<circle cx="568.77" cy="257.27" r="1.15" fill="#ff0000"/>
<circle cx="569.51" cy="257.60" r="1.15" fill="#ff0000"/>
<circle cx="569.35" cy="256.54" r="1.15" fill="#ff0000"/>
<circle cx="569.43" cy="257.01" r="1.15" fill="#ff0000"/>
<circle cx="569.93" cy="256.44" r="1.15" fill="#ff0000"/>
<circle cx="570.09" cy="259.34" r="1.15" fill="#ff0000"/>
<circle cx="569.87" cy="256.87" r="1.15" fill="#ff0000"/>
<circle cx="570.29" cy="259.00" r="1.15" fill="#ff0000"/>
<circle cx="570.65" cy="257.53" r="1.15" fill="#ff0000"/>
<circle cx="570.75" cy="258.25" r="1.15" fill="#ff0000"/>
<circle cx="571.02" cy="257.45" r="1.15" fill="#ff0000"/>
<circle cx="570.82" cy="257.88" r="1.15" fill="#ff0000"/>
<circle cx="570.80" cy="256.68" r="1.15" fill="#ff0000"/>
<circle cx="571.61" cy="257.58" r="1.15" fill="#ff0000"/>
<circle cx="571.64" cy="257.25" r="1.15" fill="#ff0000"/>
<circle cx="571.46" cy="258.49" r="1.15" fill="#ff0000"/>
<circle cx="571.97" cy="256.97" r="1.15" fill="#ff0000"/>
<circle cx="571.73" cy="259.40" r="1.15" fill="#ff0000"/>
<circle cx="572.09" cy="257.21" r="1.15" fill="#ff0000"/>
<circle cx="572.43" cy="257.13" r="1.15" fill="#ff0000"/>
<circle cx="572.42" cy="258.96" r="1.15" fill="#ff0000"/>
<circle cx="572.54" cy="258.60" r="1.15" fill="#ff0000"/>
<circle cx="572.75" cy="258.27" r="1.15" fill="#ff0000"/>
<circle cx="572.69" cy="257.79" r="1.15" fill="#ff0000"/>
<circle cx="572.95" cy="257.54" r="1.15" fill="#ff0000"/>
<circle cx="573.65" cy="258.15" r="1.15" fill="#ff0000"/>
<circle cx="573.35" cy="258.38" r="1.15" fill="#ff0000"/>
<circle cx="573.34" cy="257.51" r="1.15" fill="#ff0000"/>
<circle cx="573.95" cy="256.04" r="1.15" fill="#ff0000"/>
<circle cx="574.16" cy="257.62" r="1.15" fill="#ff0000"/>
<circle cx="574.06" cy="255.84" r="1.15" fill="#ff0000"/>
<circle cx="574.40" cy="257.94" r="1.15" fill="#ff0000"/>
<circle cx="574.51" cy="257.89" r="1.15" fill="#ff0000"/>
<circle cx="574.59" cy="257.62" r="1.15" fill="#ff0000"/>
<circle cx="575.14" cy="258.24" r="1.15" fill="#ff0000"/>
<circle cx="575.15" cy="258.09" r="1.15" fill="#ff0000"/>
<circle cx="574.87" cy="259.42" r="1.15" fill="#ff0000"/>
<circle cx="575.31" cy="259.20" r="1.15" fill="#ff0000"/>
<circle cx="575.51" cy="259.41" r="1.15" fill="#ff0000"/>
<circle cx="575.51" cy="258.53" r="1.15" fill="#ff0000"/>
<circle cx="575.93" cy="256.48" r="1.15" fill="#ff0000"/>
<circle cx="576.03" cy="258.52" r="1.15" fill="#ff0000"/>
<circle cx="576.06" cy="258.51" r="1.15" fill="#ff0000"/>
<circle cx="576.25" cy="256.59" r="1.15" fill="#ff0000"/>
<circle cx="576.23" cy="259.18" r="1.15" fill="#ff0000"/>
<circle cx="576.45" cy="257.93" r="1.15" fill="#ff0000"/>
<circle cx="576.83" cy="259.72" r="1.15" fill="#ff0000"/>
<circle cx="577.04" cy="259.72" r="1.15" fill="#ff0000"/>
<circle cx="576.75" cy="258.49" r="1.15" fill="#ff0000"/>
<circle cx="577.41" cy="258.92" r="1.15" fill="#ff0000"/>
<circle cx="577.54" cy="258.32" r="1.15" fill="#ff0000"/>
<circle cx="577.64" cy="257.51" r="1.15" fill="#ff0000"/>
<circle cx="577.89" cy="257.08" r="1.15" fill="#ff0000"/>
<circle cx="577.95" cy="258.44" r="1.15" fill="#ff0000"/>
<circle cx="577.76" cy="259.75" r="1.15" fill="#ff0000"/>
<circle cx="578.17" cy="258.94" r="1.15" fill="#ff0000"/>
<circle cx="578.39" cy="259.35" r="1.15" fill="#ff0000"/>
<circle cx="578.62" cy="259.43" r="1.15" fill="#ff0000"/>
<circle cx="578.62" cy="258.20" r="1.15" fill="#ff0000"/>
<circle cx="578.97" cy="257.48" r="1.15" fill="#ff0000"/>
<circle cx="578.73" cy="259.08" r="1.15" fill="#ff0000"/>
<circle cx="579.08" cy="258.28" r="1.15" fill="#ff0000"/>
<circle cx="579.15" cy="258.53" r="1.15" fill="#ff0000"/>
<circle cx="579.59" cy="257.62" r="1.15" fill="#ff0000"/>
<circle cx="579.63" cy="257.68" r="1.15" fill="#ff0000"/>
<circle cx="579.98" cy="259.30" r="1.15" fill="#ff0000"/>
<circle cx="579.95" cy="257.44" r="1.15" fill="#ff0000"/>
<circle cx="580.54" cy="260.16" r="1.15" fill="#ff0000"/>
<circle cx="580.45" cy="257.61" r="1.15" fill="#ff0000"/>
<circle cx="580.18" cy="258.27" r="1.15" fill="#ff0000"/>
<circle cx="580.79" cy="259.23" r="1.15" fill="#ff0000"/>
<circle cx="580.89" cy="259.73" r="1.15" fill="#ff0000"/>
<circle cx="580.67" cy="259.19" r="1.15" fill="#ff0000"/>
<circle cx="581.58" cy="259.17" r="1.15" fill="#ff0000"/>
<circle cx="581.28" cy="258.47" r="1.15" fill="#ff0000"/>
<circle cx="581.42" cy="261.01" r="1.15" fill="#ff0000"/>
<circle cx="581.92" cy="258.45" r="1.15" fill="#ff0000"/>
<circle cx="582.02" cy="257.61" r="1.15" fill="#ff0000"/>
<circle cx="581.66" cy="258.01" r="1.15" fill="#ff0000"/>
<circle cx="582.41" cy="258.88" r="1.15" fill="#ff0000"/>
<circle cx="582.32" cy="260.19" r="1.15" fill="#ff0000"/>
<circle cx="582.04" cy="259.21" r="1.15" fill="#ff0000"/>
<circle cx="582.85" cy="259.16" r="1.15" fill="#ff0000"/>
<circle cx="582.57" cy="259.16" r="1.15" fill="#ff0000"/>
<circle cx="582.61" cy="260.37" r="1.15" fill="#ff0000"/>
<circle cx="583.39" cy="258.01" r="1.15" fill="#ff0000"/>
<circle cx="583.16" cy="258.67" r="1.15" fill="#ff0000"/>
<circle cx="583.20" cy="260.06" r="1.15" fill="#ff0000"/>
<circle cx="583.64" cy="251.49" r="1.15" fill="#ff0000"/>
<circle cx="583.83" cy="253.03" r="1.15" fill="#ff0000"/>
<circle cx="583.97" cy="251.80" r="1.15" fill="#ff0000"/>
<circle cx="584.16" cy="254.87" r="1.15" fill="#ff0000"/>
<circle cx="584.33" cy="256.02" r="1.15" fill="#ff0000"/>
<circle cx="584.27" cy="255.10" r="1.15" fill="#ff0000"/>
<circle cx="584.76" cy="254.09" r="1.15" fill="#ff0000"/>
<circle cx="584.78" cy="255.12" r="1.15" fill="#ff0000"/>
<circle cx="584.60" cy="255.06" r="1.15" fill="#ff0000"/>
<circle cx="584.99" cy="254.53" r="1.15" fill="#ff0000"/>
<circle cx="585.13" cy="254.49" r="1.15" fill="#ff0000"/>
<circle cx="585.44" cy="253.04" r="1.15" fill="#ff0000"/>
<circle cx="585.88" cy="255.26" r="1.15" fill="#ff0000"/>
<circle cx="585.77" cy="254.91" r="1.15" fill="#ff0000"/>
<circle cx="585.97" cy="259.64" r="1.15" fill="#ff0000"/>
<circle cx="586.09" cy="253.71" r="1.15" fill="#ff0000"/>
<circle cx="586.24" cy="256.09" r="1.15" fill="#ff0000"/>
<circle cx="586.24" cy="253.45" r="1.15" fill="#ff0000"/>
<circle cx="587.00" cy="254.15" r="1.15" fill="#ff0000"/>
<circle cx="586.66" cy="254.50" r="1.15" fill="#ff0000"/>
<circle cx="586.76" cy="254.18" r="1.15" fill="#ff0000"/>
<circle cx="587.36" cy="256.02" r="1.15" fill="#ff0000"/>
<circle cx="587.03" cy="256.52" r="1.15" fill="#ff0000"/>
<circle cx="587.31" cy="258.03" r="1.15" fill="#ff0000"/>
<circle cx="587.73" cy="253.37" r="1.15" fill="#ff0000"/>
<circle cx="587.78" cy="254.41" r="1.15" fill="#ff0000"/>
<circle cx="587.79" cy="255.19" r="1.15" fill="#ff0000"/>
<circle cx="588.34" cy="253.70" r="1.15" fill="#ff0000"/>
<circle cx="588.23" cy="255.27" r="1.15" fill="#ff0000"/>
<circle cx="588.06" cy="255.90" r="1.15" fill="#ff0000"/>
<circle cx="588.83" cy="256.49" r="1.15" fill="#ff0000"/>
<circle cx="588.86" cy="254.48" r="1.15" fill="#ff0000"/>
<circle cx="588.42" cy="254.61" r="1.15" fill="#ff0000"/>
<circle cx="589.44" cy="254.87" r="1.15" fill="#ff0000"/>
<circle cx="589.36" cy="254.46" r="1.15" fill="#ff0000"/>
<circle cx="589.24" cy="254.59" r="1.15" fill="#ff0000"/>
<circle cx="589.71" cy="255.03" r="1.15" fill="#ff0000"/>
<circle cx="589.53" cy="256.72" r="1.15" fill="#ff0000"/>
<circle cx="589.67" cy="255.06" r="1.15" fill="#ff0000"/>
<circle cx="590.04" cy="256.23" r="1.15" fill="#ff0000"/>
<circle cx="589.92" cy="258.01" r="1.15" fill="#ff0000"/>
<circle cx="590.04" cy="254.60" r="1.15" fill="#ff0000"/>
<circle cx="590.92" cy="257.46" r="1.15" fill="#ff0000"/>
<circle cx="590.59" cy="256.97" r="1.15" fill="#ff0000"/>
<circle cx="590.41" cy="255.85" r="1.15" fill="#ff0000"/>
<circle cx="591.16" cy="256.90" r="1.15" fill="#ff0000"/>
<circle cx="591.42" cy="255.08" r="1.15" fill="#ff0000"/>
<circle cx="590.95" cy="255.61" r="1.15" fill="#ff0000"/>
<circle cx="591.46" cy="259.95" r="1.15" fill="#ff0000"/>
<circle cx="591.79" cy="257.49" r="1.15" fill="#ff0000"/>
<circle cx="591.46" cy="256.51" r="1.15" fill="#ff0000"/>
<circle cx="592.33" cy="255.21" r="1.15" fill="#ff0000"/>
<circle cx="592.11" cy="256.20" r="1.15" fill="#ff0000"/>
<circle cx="592.27" cy="257.43" r="1.15" fill="#ff0000"/>
<circle cx="592.37" cy="256.25" r="1.15" fill="#ff0000"/>
<circle cx="592.43" cy="255.84" r="1.15" fill="#ff0000"/>
<circle cx="592.83" cy="255.40" r="1.15" fill="#ff0000"/>
<circle cx="592.86" cy="255.52" r="1.15" fill="#ff0000"/>
<circle cx="593.34" cy="257.59" r="1.15" fill="#ff0000"/>
<circle cx="592.99" cy="256.03" r="1.15" fill="#ff0000"/>
<circle cx="593.43" cy="255.18" r="1.15" fill="#ff0000"/>
<circle cx="593.42" cy="256.32" r="1.15" fill="#ff0000"/>
<circle cx="593.41" cy="257.48" r="1.15" fill="#ff0000"/>
<circle cx="594.03" cy="258.10" r="1.15" fill="#ff0000"/>
<circle cx="594.16" cy="255.81" r="1.15" fill="#ff0000"/>
<circle cx="593.82" cy="255.33" r="1.15" fill="#ff0000"/>
<circle cx="594.52" cy="258.29" r="1.15" fill="#ff0000"/>
<circle cx="594.38" cy="261.16" r="1.15" fill="#ff0000"/>
<circle cx="594.51" cy="257.32" r="1.15" fill="#ff0000"/>
<circle cx="594.82" cy="258.23" r="1.15" fill="#ff0000"/>
<circle cx="595.22" cy="255.23" r="1.15" fill="#ff0000"/>
<circle cx="595.31" cy="257.21" r="1.15" fill="#ff0000"/>
<circle cx="595.77" cy="255.76" r="1.15" fill="#ff0000"/>
<circle cx="595.84" cy="255.92" r="1.15" fill="#ff0000"/>
<circle cx="595.49" cy="257.14" r="1.15" fill="#ff0000"/>
<circle cx="596.28" cy="261.39" r="1.15" fill="#ff0000"/>
<circle cx="596.34" cy="260.68" r="1.15" fill="#ff0000"/>
<circle cx="596.32" cy="258.27" r="1.15" fill="#ff0000"/>
<circle cx="596.59" cy="256.60" r="1.15" fill="#ff0000"/>
<circle cx="596.30" cy="257.58" r="1.15" fill="#ff0000"/>
<circle cx="596.45" cy="257.40" r="1.15" fill="#ff0000"/>
<circle cx="597.01" cy="257.24" r="1.15" fill="#ff0000"/>
<circle cx="596.91" cy="261.72" r="1.15" fill="#ff0000"/>
<circle cx="596.87" cy="257.37" r="1.15" fill="#ff0000"/>
<circle cx="597.56" cy="257.12" r="1.15" fill="#ff0000"/>
<circle cx="597.25" cy="255.85" r="1.15" fill="#ff0000"/>
<circle cx="597.41" cy="257.94" r="1.15" fill="#ff0000"/>
<circle cx="597.78" cy="259.35" r="1.15" fill="#ff0000"/>
<circle cx="598.01" cy="256.76" r="1.15" fill="#ff0000"/>
<circle cx="598.27" cy="258.05" r="1.15" fill="#ff0000"/>
<circle cx="598.46" cy="257.52" r="1.15" fill="#ff0000"/>
<circle cx="598.50" cy="256.43" r="1.15" fill="#ff0000"/>
<circle cx="598.67" cy="256.89" r="1.15" fill="#ff0000"/>
<circle cx="599.07" cy="257.73" r="1.15" fill="#ff0000"/>
<circle cx="598.96" cy="256.24" r="1.15" fill="#ff0000"/>
<circle cx="599.05" cy="256.60" r="1.15" fill="#ff0000"/>
<circle cx="599.25" cy="260.62" r="1.15" fill="#ff0000"/>
<circle cx="599.48" cy="256.56" r="1.15" fill="#ff0000"/>
<circle cx="599.53" cy="258.72" r="1.15" fill="#ff0000"/>
<circle cx="599.77" cy="258.17" r="1.15" fill="#ff0000"/>
<circle cx="599.84" cy="256.69" r="1.15" fill="#ff0000"/>
<circle cx="599.75" cy="257.54" r="1.15" fill="#ff0000"/>
<circle cx="600.54" cy="257.60" r="1.15" fill="#ff0000"/>
<circle cx="600.27" cy="257.86" r="1.15" fill="#ff0000"/>
<circle cx="600.70" cy="259.12" r="1.15" fill="#ff0000"/>
<circle cx="601.18" cy="259.66" r="1.15" fill="#ff0000"/>
<circle cx="600.85" cy="260.94" r="1.15" fill="#ff0000"/>
<circle cx="600.96" cy="257.87" r="1.15" fill="#ff0000"/>
<circle cx="601.33" cy="259.12" r="1.15" fill="#ff0000"/>
<circle cx="601.47" cy="259.25" r="1.15" fill="#ff0000"/>
<circle cx="601.52" cy="257.51" r="1.15" fill="#ff0000"/>
<circle cx="602.12" cy="261.50" r="1.15" fill="#ff0000"/>
<circle cx="601.96" cy="256.46" r="1.15" fill="#ff0000"/>
<circle cx="602.19" cy="258.00" r="1.15" fill="#ff0000"/>
<circle cx="602.44" cy="258.95" r="1.15" fill="#ff0000"/>
<circle cx="602.19" cy="260.39" r="1.15" fill="#ff0000"/>
<circle cx="602.55" cy="257.25" r="1.15" fill="#ff0000"/>
<circle cx="602.90" cy="257.18" r="1.15" fill="#ff0000"/>
<circle cx="602.91" cy="260.66" r="1.15" fill="#ff0000"/>
<circle cx="603.16" cy="256.71" r="1.15" fill="#ff0000"/>
<circle cx="603.65" cy="256.77" r="1.15" fill="#ff0000"/>
<circle cx="603.23" cy="258.02" r="1.15" fill="#ff0000"/>
<circle cx="603.19" cy="260.59" r="1.15" fill="#ff0000"/>
<circle cx="603.89" cy="258.05" r="1.15" fill="#ff0000"/>
<circle cx="604.17" cy="257.62" r="1.15" fill="#ff0000"/>
<circle cx="604.08" cy="257.22" r="1.15" fill="#ff0000"/>
<circle cx="604.50" cy="257.34" r="1.15" fill="#ff0000"/>
<circle cx="604.58" cy="261.71" r="1.15" fill="#ff0000"/>
<circle cx="604.47" cy="256.95" r="1.15" fill="#ff0000"/>
<circle cx="451.50" cy="256.44" r="1.15" fill="#ff0000"/>
<circle cx="451.38" cy="263.99" r="1.15" fill="#ff0000"/>
<circle cx="451.81" cy="274.33" r="1.15" fill="#ff0000"/>
<circle cx="451.31" cy="282.28" r="1.15" fill="#ff0000"/>
<circle cx="451.62" cy="283.47" r="1.15" fill="#ff0000"/>
<circle cx="451.22" cy="291.02" r="1.15" fill="#ff0000"/>
<circle cx="456.20" cy="263.39" r="1.15" fill="#ff0000"/>
<circle cx="460.43" cy="262.40" r="1.15" fill="#ff0000"/>
<circle cx="460.20" cy="271.74" r="1.15" fill="#ff0000"/>
<circle cx="459.99" cy="282.08" r="1.15" fill="#ff0000"/>
<circle cx="460.27" cy="289.83" r="1.15" fill="#ff0000"/>
<circle cx="470.40" cy="262.60" r="1.15" fill="#ff0000"/>
<circle cx="470.33" cy="266.57" r="1.15" fill="#ff0000"/>
<circle cx="469.80" cy="270.55" r="1.15" fill="#ff0000"/>
<circle cx="470.12" cy="283.07" r="1.15" fill="#ff0000"/>
<circle cx="471.27" cy="264.59" r="1.15" fill="#ff0000"/>
<circle cx="471.56" cy="268.56" r="1.15" fill="#ff0000"/>
<circle cx="471.84" cy="275.52" r="1.15" fill="#ff0000"/>
<circle cx="474.24" cy="260.61" r="1.15" fill="#ff0000"/>
<circle cx="473.80" cy="264.59" r="1.15" fill="#ff0000"/>
<circle cx="483.14" cy="262.60" r="1.15" fill="#ff0000"/>
<circle cx="482.98" cy="266.57" r="1.15" fill="#ff0000"/>
<circle cx="482.87" cy="276.51" r="1.15" fill="#ff0000"/>
<circle cx="485.38" cy="264.59" r="1.15" fill="#ff0000"/>
<circle cx="485.40" cy="270.95" r="1.15" fill="#ff0000"/>
<circle cx="485.10" cy="281.08" r="1.15" fill="#ff0000"/>
<circle cx="488.67" cy="266.57" r="1.15" fill="#ff0000"/>
<circle cx="488.86" cy="277.11" r="1.15" fill="#ff0000"/>
<circle cx="488.88" cy="287.64" r="1.15" fill="#ff0000"/>
<circle cx="488.70" cy="289.03" r="1.15" fill="#ff0000"/>
<circle cx="488.45" cy="298.18" r="1.15" fill="#ff0000"/>
<circle cx="502.13" cy="258.82" r="1.15" fill="#ff0000"/>
<circle cx="502.18" cy="261.81" r="1.15" fill="#ff0000"/>
<circle cx="502.64" cy="265.58" r="1.15" fill="#ff0000"/>
<circle cx="502.41" cy="276.51" r="1.15" fill="#ff0000"/>
<circle cx="502.51" cy="283.07" r="1.15" fill="#ff0000"/>
<circle cx="502.32" cy="296.79" r="1.15" fill="#ff0000"/>
<circle cx="502.32" cy="298.97" r="1.15" fill="#ff0000"/>
<circle cx="540.79" cy="262.60" r="1.15" fill="#ff0000"/>
<circle cx="541.36" cy="265.58" r="1.15" fill="#ff0000"/>
<circle cx="541.10" cy="268.56" r="1.15" fill="#ff0000"/>
<circle cx="540.76" cy="276.51" r="1.15" fill="#ff0000"/>
<circle cx="541.16" cy="288.44" r="1.15" fill="#ff0000"/>
<circle cx="541.09" cy="298.38" r="1.15" fill="#ff0000"/>
<circle cx="541.10" cy="299.17" r="1.15" fill="#ff0000"/>
<circle cx="552.44" cy="260.61" r="1.15" fill="#ff0000"/>
<circle cx="552.33" cy="264.59" r="1.15" fill="#ff0000"/>
<circle cx="552.52" cy="268.56" r="1.15" fill="#ff0000"/>
<circle cx="552.58" cy="272.54" r="1.15" fill="#ff0000"/>
<circle cx="554.65" cy="268.56" r="1.15" fill="#ff0000"/>
<circle cx="554.82" cy="275.92" r="1.15" fill="#ff0000"/>
<circle cx="554.62" cy="278.50" r="1.15" fill="#ff0000"/>
<circle cx="554.65" cy="283.47" r="1.15" fill="#ff0000"/>
<circle cx="590.07" cy="264.59" r="1.15" fill="#ff0000"/>
<circle cx="590.27" cy="270.55" r="1.15" fill="#ff0000"/>
<circle cx="599.54" cy="264.59" r="1.15" fill="#ff0000"/>
<circle cx="599.54" cy="268.56" r="1.15" fill="#ff0000"/>
<circle cx="599.88" cy="276.51" r="1.15" fill="#ff0000"/>
<circle cx="599.85" cy="282.48" r="1.15" fill="#ff0000"/>
<circle cx="599.76" cy="292.41" r="1.15" fill="#ff0000"/>
<circle cx="599.88" cy="296.98" r="1.15" fill="#ff0000"/>
<polyline points="428.00,247.10 428.01,247.22 428.02,247.37 428.03,247.56 428.04,247.77 428.06,247.99 428.09,248.22 428.13,248.46 428.18,248.69 428.23,248.93 428.30,249.21 428.38,249.50 428.46,249.79 428.55,250.07 428.65,250.32 428.76,250.53 428.88,250.68 429.01,250.75 429.15,250.77 429.30,250.74 429.46,250.68 429.63,250.61 429.79,250.55 429.95,250.52 430.11,250.54 430.26,250.60 430.40,250.68 430.55,250.78 430.70,250.89 430.84,251.02 430.99,251.14 431.13,251.26 431.28,251.37 431.43,251.48 431.57,251.58 431.72,251.69 431.87,251.79 432.02,251.89 432.16,252.00 432.31,252.10 432.46,252.21 432.60,252.32 432.75,252.42 432.90,252.53 433.04,252.63 433.19,252.74 433.34,252.84 433.48,252.95 433.63,253.06 433.78,253.16 433.92,253.27 434.07,253.37 434.22,253.48 434.37,253.59 434.51,253.69 434.66,253.80 434.81,253.91 434.95,254.02 435.10,254.12 435.25,254.23 435.39,254.34 435.54,254.45 435.69,254.55 435.83,254.66 435.98,254.77 436.13,254.88 436.27,254.99 436.42,255.09 436.57,255.20 436.72,255.31 436.86,255.42 437.01,255.53 437.16,255.64 437.30,255.75 437.45,255.86 437.60,255.97 437.74,256.08 437.89,256.19 438.04,256.30 438.18,256.41 438.33,256.52 438.48,256.63 438.62,256.74 438.77,256.85 438.92,256.96 439.07,257.07 439.21,257.18 439.36,257.30 439.51,257.41 439.65,257.52 439.80,257.63 439.95,257.74 440.09,257.86 440.24,257.97 440.39,258.08 440.53,258.19 440.68,258.31 440.83,258.42 440.97,258.53 441.12,258.65 441.27,258.76 441.41,258.88 441.56,258.99 441.71,259.10 441.86,259.22 442.00,259.33 442.15,259.45 442.30,259.56 442.44,259.68 442.59,259.80 442.74,259.91 442.88,260.03 443.03,260.14 443.18,260.26 443.32,260.38 443.47,260.49 443.62,260.61 443.76,260.73 443.91,260.85 444.06,260.96 444.21,261.08 444.35,261.20 444.50,261.32 444.65,261.44 444.79,261.55 444.94,261.67 445.09,261.79 445.23,261.91 445.38,262.03 445.53,262.15 445.67,262.27 445.82,262.39 445.97,262.51 446.11,262.63 446.26,262.75 446.41,262.88 446.56,263.00 446.70,263.12 446.85,263.24 447.00,263.36 447.14,263.49 447.29,263.61 447.44,263.73 447.58,263.85 447.73,263.98 447.88,264.10 448.02,264.22 448.17,264.35 448.32,264.47 448.46,264.60 448.61,264.72 448.76,264.85 448.91,264.97 449.05,265.10 449.20,265.23 449.35,265.35 449.49,265.48 449.64,265.60 449.79,265.73 449.93,265.86 450.08,265.99 450.23,266.11 450.37,266.24 450.52,266.37 450.67,266.50 450.81,266.63 450.96,266.76 451.11,266.89 451.26,267.02 451.40,267.15 451.55,267.28 451.70,267.41 451.84,267.54 451.99,267.67 452.14,267.80 452.28,267.93 452.43,268.06 452.58,268.20 452.72,268.33 452.87,268.46 453.02,268.60 453.16,268.73 453.31,268.86 453.46,269.00 453.61,269.13 453.75,269.27 453.90,269.40 454.05,269.54 454.19,269.67 454.34,269.81 454.49,269.94 454.63,270.08 454.78,270.22 454.93,270.35 455.07,270.49 455.22,270.63 455.37,270.77 455.51,270.91 455.66,271.04 455.81,271.18 455.96,271.32 456.10,271.46 456.25,271.60 456.40,271.74 456.54,271.88 456.69,272.02 456.84,272.17 456.98,272.31 457.13,272.45 457.28,272.59 457.42,272.73 457.57,272.88 457.72,273.02 457.86,273.16 458.01,273.31 458.16,273.45 458.30,273.60 458.45,273.74 458.60,273.89 458.75,274.03 458.89,274.18 459.04,274.33 459.19,274.47 459.33,274.62 459.48,274.77 459.63,274.92 459.77,275.06 459.92,275.21 460.07,275.36 460.21,275.51 460.36,275.66 460.51,275.81 460.65,275.96 460.80,276.11 460.95,276.26 461.10,276.41 461.24,276.57 461.39,276.72 461.54,276.87 461.68,277.02 461.83,277.18 461.98,277.33 462.12,277.49 462.27,277.64 462.42,277.80 462.56,277.95 462.71,278.11 462.86,278.26 463.00,278.42 463.15,278.58 463.30,278.73 463.45,278.89 463.59,279.05 463.74,279.21 463.89,279.37 464.03,279.53 464.18,279.69 464.33,279.85 464.47,280.01 464.62,280.17 464.77,280.33 464.91,280.49 465.06,280.65 465.21,280.81 465.35,280.98 465.50,281.14 465.65,281.30 465.80,281.47 465.94,281.63 466.09,281.80 466.24,281.96 466.38,282.13 466.53,282.30 466.68,282.46 466.82,282.63 466.97,282.80 467.12,282.96 467.26,283.13 467.41,283.30 467.56,283.47 467.70,283.64 467.85,283.81 468.00,283.98 468.15,284.15 468.29,284.32 468.44,284.50 468.59,284.67 468.73,284.84 468.88,285.01 469.03,285.19 469.17,285.36 469.32,285.54 469.47,285.71 469.61,285.89 469.76,286.06 469.91,286.24 470.05,286.42 470.20,286.59 470.35,286.77 470.50,286.95 470.64,287.13 470.79,287.31 470.94,287.49 471.08,287.67 471.23,287.85 471.38,288.03 471.52,288.21 471.67,288.39 471.82,288.57 471.96,288.76 472.11,288.94 472.26,289.12 472.40,289.31 472.55,289.49 472.70,289.68 472.85,289.86 472.99,290.05 473.14,290.24 473.29,290.42 473.43,290.61 473.58,290.80 473.73,290.99 473.87,291.18 474.02,291.37 474.17,291.56 474.31,291.75 474.46,291.94 474.61,292.13 474.75,292.32 474.90,292.51 475.05,292.71 475.19,292.90 475.34,293.10 475.49,293.29 475.64,293.49 475.78,293.68 475.93,293.88 476.08,294.07 476.22,294.27 476.37,294.47 476.52,294.67 476.66,294.87 476.81,295.07 476.96,295.27 477.10,295.47 477.25,295.68 477.40,295.88 477.54,296.08 477.69,296.29 477.84,296.49 477.99,296.70 478.13,296.91 478.28,297.12 478.43,297.33 478.57,297.54 478.72,297.75 478.87,297.96 479.01,298.17 479.16,298.39 479.31,298.60 479.45,298.82 479.60,299.04 479.75,299.25 479.89,299.47 480.04,299.69 480.19,299.92 480.34,300.14 480.48,300.36 480.63,300.59 480.78,300.81 480.92,301.04 481.07,301.27 481.22,301.50 481.36,301.73 481.51,301.97 481.66,302.20 481.80,302.43 481.95,302.67 482.10,302.91 482.24,303.15 482.39,303.39 482.54,303.63 482.69,303.88 482.83,304.12 482.98,304.37 483.13,304.62 483.27,304.87 483.42,305.12 483.57,305.37 483.71,305.62 483.86,305.88 484.01,306.14 484.15,306.40 484.30,306.66 484.45,306.92 484.59,307.18 484.74,307.45 484.89,307.72 485.04,307.99 485.18,308.26 485.33,308.53 485.48,308.81 485.62,309.08 485.77,309.36 485.92,309.64 486.06,309.92 486.21,310.21 486.36,310.49 486.50,310.78 486.65,311.07 486.80,311.36 486.94,311.65 487.09,311.95 487.24,312.25 487.39,312.55 487.53,312.85 487.68,313.15 487.83,313.46 487.97,313.77 488.12,314.08 488.27,314.39 488.41,314.70 488.56,315.02 488.71,315.34 488.85,315.66 489.00,315.98 489.15,316.31 489.29,316.64 489.44,316.97 489.59,317.30 489.74,317.63 489.88,317.97 490.03,318.31 490.18,318.65 490.32,319.00 490.47,319.34 490.62,319.69 490.76,320.04 490.91,320.40 491.06,320.75 491.20,321.11 491.35,321.47 491.50,321.84 491.64,322.20 491.79,322.57 491.94,322.94 492.09,323.32 492.23,323.70 492.38,324.08 492.53,324.46 492.67,324.84 492.82,325.23 492.97,325.62 493.11,326.01 493.26,326.41 493.41,326.81 493.55,327.21 493.70,327.61 493.85,328.02 493.99,328.43 494.14,328.84 494.29,329.26 494.43,329.68 494.58,330.10 494.73,330.53 494.88,330.95 495.02,331.38 495.17,331.82 495.32,332.25 495.46,332.69 495.61,333.14 495.76,333.58 495.90,334.03 496.05,334.48 496.20,334.94 496.34,335.40 496.49,335.86 496.64,336.32 496.78,336.79 496.93,337.26 497.08,337.74 497.23,338.21 497.37,338.69 497.52,339.18 497.67,339.67 497.81,340.16 497.96,340.65 498.11,341.15 498.25,341.65 498.41,342.18 498.57,342.76 498.75,343.37 498.91,343.96 499.07,344.53 499.22,345.03 499.34,345.46 499.43,345.78" fill="none" stroke="#404040" stroke-width="2.6" stroke-linejoin="round" stroke-linecap="round" opacity="1" />
<circle cx="503.29" cy="356.01" r="1" fill="#ff0000"/>
<circle cx="555.41" cy="348.86" r="1" fill="#ff0000"/>
<circle cx="555.41" cy="357.01" r="1" fill="#ff0000"/>
<rect x="560.00" y="189.30" width="61.25" height="37.00" fill="#fff" stroke="#bdbdbd" stroke-width="0.9"/>
<svg x="560.00" y="189.30" width="61.25" height="37.00" overflow="hidden">
<text x="26.70" y="9.00" font-size="10.2" text-anchor="start" fill="#1a1a1a" >Pt/C</text>
<circle cx="11.70" cy="5.90" r="1.20" fill="#333"/>
<text x="26.70" y="22.00" font-size="10.2" text-anchor="start" fill="#1a1a1a" >Fe-N-C</text>
<circle cx="11.70" cy="18.50" r="1.20" fill="#ff0000"/>
<text x="26.70" y="34.60" font-size="10.2" text-anchor="start" fill="#1a1a1a" >Ag/C</text>
<polygon points="11.70,29.90 13.00,32.30 10.40,32.30" fill="#0000ff"/>
</svg>
<text x="415.60" y="205.00" font-size="16" text-anchor="start" fill="#1a1a1a" >e.</text>
<text x="516.00" y="390.30" font-size="12.7" text-anchor="middle" fill="#1a1a1a" >Time (hours)</text>
<text transform="translate(387.98,273.10) rotate(-90)" x="0" y="0" font-size="13" text-anchor="middle" fill="#1a1a1a">Cell Voltage(V)</text>
<text transform="translate(658.34,275.10) rotate(-90)" x="0" y="0" font-size="12.85" text-anchor="middle" fill="#1a1a1a">HFR (mOh*cm<tspan dy="-5" font-size="8.6">2</tspan><tspan dy="5">)</tspan></text>
</svg></body></html>
